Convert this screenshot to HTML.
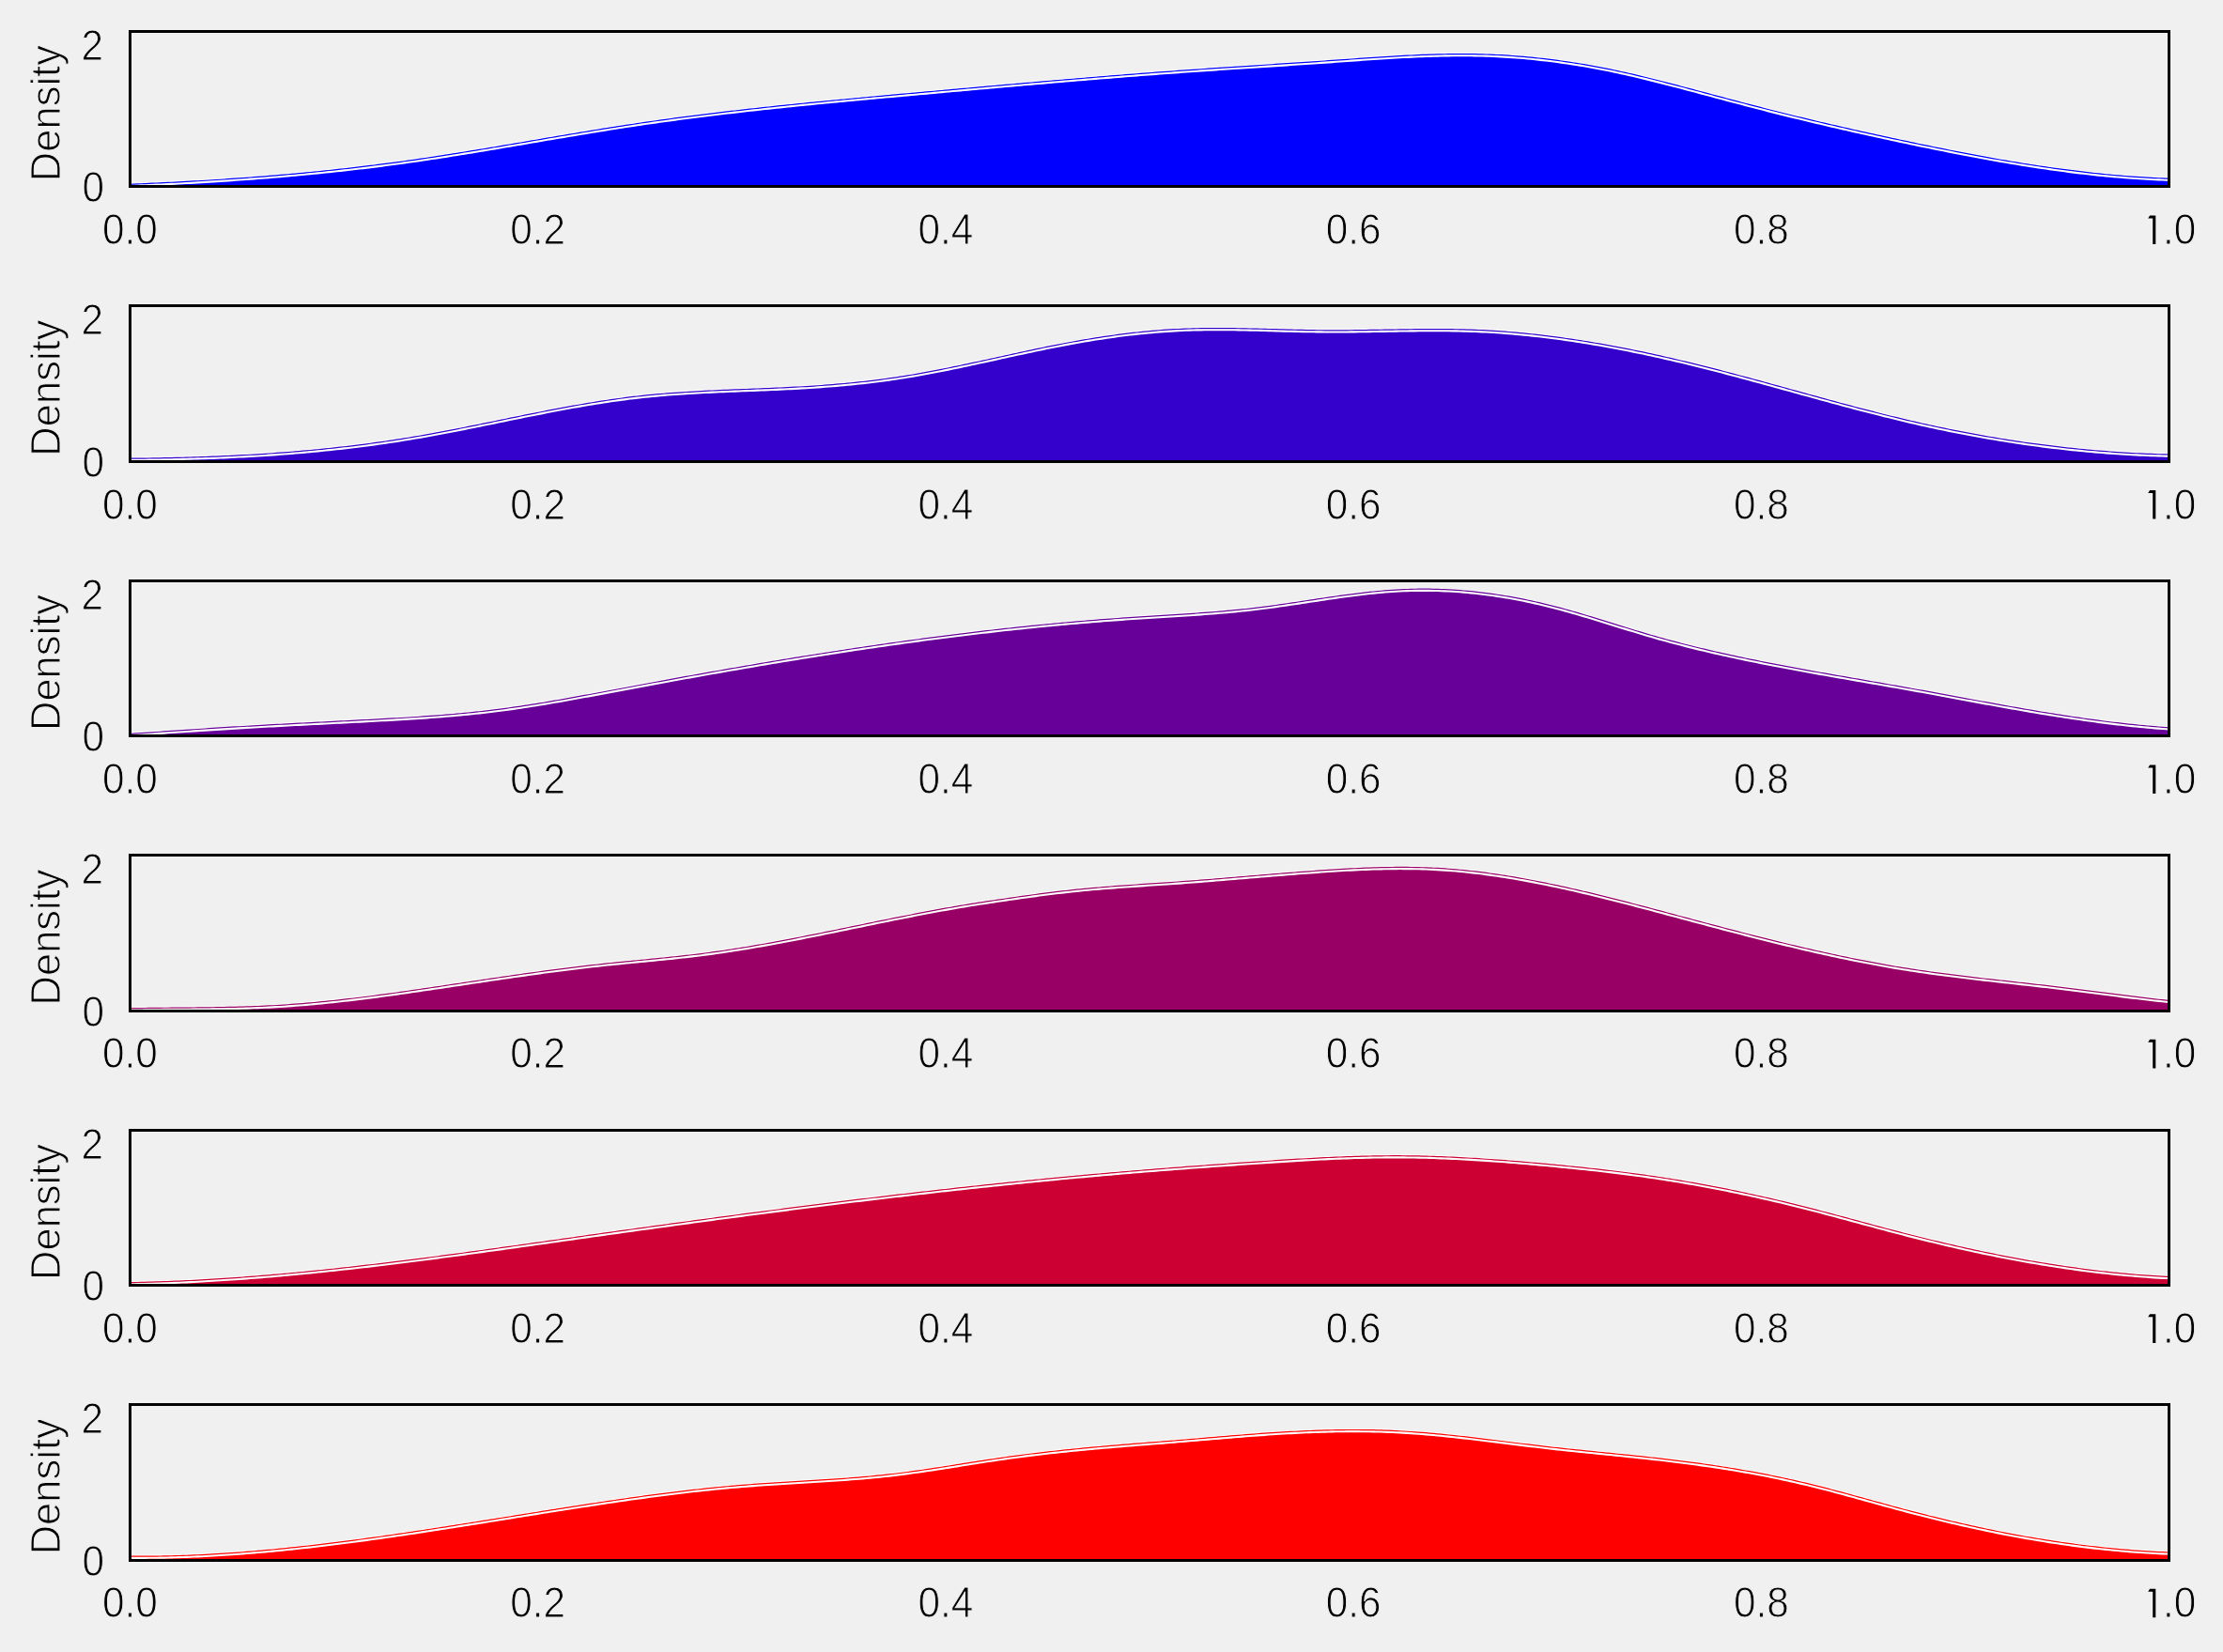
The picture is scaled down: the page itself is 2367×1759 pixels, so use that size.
<!DOCTYPE html>
<html><head><meta charset="utf-8"><title>Density plots</title>
<style>
html,body{margin:0;padding:0;background:#f0f0f0;}
body{width:2367px;height:1759px;overflow:hidden;}
svg{display:block;will-change:transform;}
text{font-family:"Liberation Sans",sans-serif;fill:#000;stroke:#f0f0f0;stroke-width:1px;}
.t{font-size:46.5px;}
.l{font-size:43.5px;}
</style></head><body>
<svg width="2367" height="1759" viewBox="0 0 2367 1759">
<rect x="0" y="0" width="2367" height="1759" fill="#f0f0f0"/>
<g>
<clipPath id="c0"><rect x="138.5" y="33.5" width="2171.0" height="165.0"/></clipPath>
<g clip-path="url(#c0)">
<polygon points="138.5,198.5 138.5,196.23 142.5,196.07 146.5,195.91 150.5,195.74 154.5,195.56 158.5,195.39 162.5,195.21 166.5,195.02 170.5,194.83 174.5,194.64 178.5,194.44 182.5,194.24 186.5,194.04 190.5,193.83 194.5,193.62 198.5,193.40 202.5,193.18 206.5,192.96 210.5,192.73 214.5,192.49 218.5,192.25 222.5,192.01 226.5,191.76 230.5,191.51 234.5,191.25 238.5,190.99 242.5,190.72 246.5,190.45 250.5,190.17 254.5,189.89 258.5,189.61 262.5,189.31 266.5,189.02 270.5,188.72 274.5,188.41 278.5,188.10 282.5,187.78 286.5,187.45 290.5,187.12 294.5,186.79 298.5,186.45 302.5,186.10 306.5,185.75 310.5,185.40 314.5,185.03 318.5,184.66 322.5,184.29 326.5,183.91 330.5,183.52 334.5,183.13 338.5,182.73 342.5,182.33 346.5,181.91 350.5,181.50 354.5,181.07 358.5,180.64 362.5,180.21 366.5,179.76 370.5,179.31 374.5,178.86 378.5,178.39 382.5,177.92 386.5,177.45 390.5,176.96 394.5,176.47 398.5,175.98 402.5,175.47 406.5,174.96 410.5,174.44 414.5,173.92 418.5,173.39 422.5,172.85 426.5,172.30 430.5,171.74 434.5,171.18 438.5,170.61 442.5,170.04 446.5,169.46 450.5,168.87 454.5,168.27 458.5,167.67 462.5,167.06 466.5,166.45 470.5,165.83 474.5,165.21 478.5,164.58 482.5,163.94 486.5,163.31 490.5,162.66 494.5,162.02 498.5,161.37 502.5,160.71 506.5,160.06 510.5,159.40 514.5,158.73 518.5,158.07 522.5,157.40 526.5,156.73 530.5,156.05 534.5,155.38 538.5,154.70 542.5,154.02 546.5,153.34 550.5,152.66 554.5,151.98 558.5,151.30 562.5,150.61 566.5,149.93 570.5,149.25 574.5,148.56 578.5,147.88 582.5,147.20 586.5,146.52 590.5,145.84 594.5,145.16 598.5,144.49 602.5,143.81 606.5,143.14 610.5,142.47 614.5,141.80 618.5,141.13 622.5,140.47 626.5,139.81 630.5,139.16 634.5,138.50 638.5,137.85 642.5,137.21 646.5,136.57 650.5,135.93 654.5,135.30 658.5,134.67 662.5,134.05 666.5,133.44 670.5,132.82 674.5,132.22 678.5,131.62 682.5,131.03 686.5,130.44 690.5,129.86 694.5,129.28 698.5,128.72 702.5,128.15 706.5,127.60 710.5,127.04 714.5,126.50 718.5,125.96 722.5,125.42 726.5,124.89 730.5,124.37 734.5,123.85 738.5,123.33 742.5,122.83 746.5,122.32 750.5,121.82 754.5,121.33 758.5,120.84 762.5,120.35 766.5,119.87 770.5,119.39 774.5,118.92 778.5,118.45 782.5,117.99 786.5,117.53 790.5,117.08 794.5,116.63 798.5,116.18 802.5,115.73 806.5,115.29 810.5,114.86 814.5,114.42 818.5,113.99 822.5,113.57 826.5,113.14 830.5,112.72 834.5,112.31 838.5,111.89 842.5,111.48 846.5,111.08 850.5,110.67 854.5,110.27 858.5,109.87 862.5,109.47 866.5,109.08 870.5,108.68 874.5,108.29 878.5,107.91 882.5,107.52 886.5,107.14 890.5,106.75 894.5,106.37 898.5,105.99 902.5,105.62 906.5,105.24 910.5,104.87 914.5,104.50 918.5,104.13 922.5,103.76 926.5,103.39 930.5,103.02 934.5,102.65 938.5,102.29 942.5,101.92 946.5,101.56 950.5,101.20 954.5,100.84 958.5,100.47 962.5,100.11 966.5,99.75 970.5,99.39 974.5,99.03 978.5,98.67 982.5,98.31 986.5,97.95 990.5,97.59 994.5,97.23 998.5,96.87 1002.5,96.51 1006.5,96.15 1010.5,95.79 1014.5,95.43 1018.5,95.07 1022.5,94.71 1026.5,94.35 1030.5,93.99 1034.5,93.63 1038.5,93.28 1042.5,92.92 1046.5,92.56 1050.5,92.21 1054.5,91.85 1058.5,91.49 1062.5,91.14 1066.5,90.79 1070.5,90.43 1074.5,90.08 1078.5,89.73 1082.5,89.38 1086.5,89.03 1090.5,88.68 1094.5,88.33 1098.5,87.98 1102.5,87.64 1106.5,87.29 1110.5,86.95 1114.5,86.60 1118.5,86.26 1122.5,85.92 1126.5,85.58 1130.5,85.24 1134.5,84.90 1138.5,84.56 1142.5,84.23 1146.5,83.89 1150.5,83.56 1154.5,83.23 1158.5,82.90 1162.5,82.57 1166.5,82.24 1170.5,81.91 1174.5,81.59 1178.5,81.27 1182.5,80.94 1186.5,80.62 1190.5,80.31 1194.5,79.99 1198.5,79.67 1202.5,79.36 1206.5,79.05 1210.5,78.74 1214.5,78.43 1218.5,78.13 1222.5,77.82 1226.5,77.52 1230.5,77.22 1234.5,76.92 1238.5,76.62 1242.5,76.33 1246.5,76.04 1250.5,75.75 1254.5,75.46 1258.5,75.17 1262.5,74.89 1266.5,74.61 1270.5,74.33 1274.5,74.05 1278.5,73.77 1282.5,73.50 1286.5,73.22 1290.5,72.95 1294.5,72.68 1298.5,72.41 1302.5,72.15 1306.5,71.88 1310.5,71.62 1314.5,71.35 1318.5,71.09 1322.5,70.82 1326.5,70.56 1330.5,70.30 1334.5,70.04 1338.5,69.78 1342.5,69.52 1346.5,69.25 1350.5,68.99 1354.5,68.73 1358.5,68.47 1362.5,68.21 1366.5,67.94 1370.5,67.68 1374.5,67.42 1378.5,67.15 1382.5,66.89 1386.5,66.62 1390.5,66.35 1394.5,66.08 1398.5,65.81 1402.5,65.54 1406.5,65.27 1410.5,64.99 1414.5,64.72 1418.5,64.44 1422.5,64.16 1426.5,63.87 1430.5,63.59 1434.5,63.31 1438.5,63.02 1442.5,62.74 1446.5,62.46 1450.5,62.18 1454.5,61.90 1458.5,61.63 1462.5,61.36 1466.5,61.09 1470.5,60.83 1474.5,60.58 1478.5,60.33 1482.5,60.09 1486.5,59.85 1490.5,59.63 1494.5,59.41 1498.5,59.20 1502.5,59.00 1506.5,58.81 1510.5,58.64 1514.5,58.47 1518.5,58.32 1522.5,58.18 1526.5,58.05 1530.5,57.93 1534.5,57.84 1538.5,57.75 1542.5,57.68 1546.5,57.63 1550.5,57.60 1554.5,57.58 1558.5,57.58 1562.5,57.60 1566.5,57.64 1570.5,57.70 1574.5,57.78 1578.5,57.88 1582.5,58.01 1586.5,58.15 1590.5,58.32 1594.5,58.51 1598.5,58.72 1602.5,58.95 1606.5,59.20 1610.5,59.48 1614.5,59.78 1618.5,60.09 1622.5,60.43 1626.5,60.80 1630.5,61.18 1634.5,61.58 1638.5,62.00 1642.5,62.45 1646.5,62.92 1650.5,63.40 1654.5,63.91 1658.5,64.44 1662.5,64.99 1666.5,65.55 1670.5,66.14 1674.5,66.75 1678.5,67.38 1682.5,68.03 1686.5,68.70 1690.5,69.39 1694.5,70.11 1698.5,70.84 1702.5,71.59 1706.5,72.35 1710.5,73.14 1714.5,73.95 1718.5,74.78 1722.5,75.63 1726.5,76.50 1730.5,77.38 1734.5,78.28 1738.5,79.20 1742.5,80.13 1746.5,81.08 1750.5,82.04 1754.5,83.02 1758.5,84.00 1762.5,85.00 1766.5,86.01 1770.5,87.03 1774.5,88.05 1778.5,89.09 1782.5,90.13 1786.5,91.17 1790.5,92.23 1794.5,93.28 1798.5,94.34 1802.5,95.40 1806.5,96.47 1810.5,97.53 1814.5,98.60 1818.5,99.67 1822.5,100.73 1826.5,101.80 1830.5,102.87 1834.5,103.93 1838.5,105.00 1842.5,106.06 1846.5,107.12 1850.5,108.18 1854.5,109.23 1858.5,110.29 1862.5,111.33 1866.5,112.38 1870.5,113.42 1874.5,114.45 1878.5,115.48 1882.5,116.50 1886.5,117.52 1890.5,118.53 1894.5,119.54 1898.5,120.53 1902.5,121.53 1906.5,122.52 1910.5,123.50 1914.5,124.47 1918.5,125.45 1922.5,126.41 1926.5,127.37 1930.5,128.33 1934.5,129.28 1938.5,130.22 1942.5,131.16 1946.5,132.10 1950.5,133.03 1954.5,133.95 1958.5,134.87 1962.5,135.79 1966.5,136.70 1970.5,137.61 1974.5,138.51 1978.5,139.41 1982.5,140.30 1986.5,141.19 1990.5,142.08 1994.5,142.96 1998.5,143.83 2002.5,144.71 2006.5,145.57 2010.5,146.44 2014.5,147.30 2018.5,148.16 2022.5,149.01 2026.5,149.86 2030.5,150.71 2034.5,151.55 2038.5,152.39 2042.5,153.22 2046.5,154.05 2050.5,154.88 2054.5,155.70 2058.5,156.52 2062.5,157.33 2066.5,158.14 2070.5,158.94 2074.5,159.74 2078.5,160.53 2082.5,161.32 2086.5,162.10 2090.5,162.87 2094.5,163.64 2098.5,164.40 2102.5,165.15 2106.5,165.90 2110.5,166.64 2114.5,167.37 2118.5,168.09 2122.5,168.81 2126.5,169.52 2130.5,170.22 2134.5,170.91 2138.5,171.59 2142.5,172.27 2146.5,172.94 2150.5,173.59 2154.5,174.24 2158.5,174.88 2162.5,175.51 2166.5,176.12 2170.5,176.73 2174.5,177.33 2178.5,177.92 2182.5,178.50 2186.5,179.06 2190.5,179.62 2194.5,180.16 2198.5,180.69 2202.5,181.21 2206.5,181.72 2210.5,182.22 2214.5,182.70 2218.5,183.18 2222.5,183.64 2226.5,184.08 2230.5,184.52 2234.5,184.94 2238.5,185.35 2242.5,185.74 2246.5,186.12 2250.5,186.49 2254.5,186.84 2258.5,187.18 2262.5,187.50 2266.5,187.81 2270.5,188.10 2274.5,188.38 2278.5,188.65 2282.5,188.89 2286.5,189.13 2290.5,189.34 2294.5,189.54 2298.5,189.73 2302.5,189.89 2306.5,190.05 2309.5,190.15 2309.5,198.5" fill="#0000ff"/>
<polyline points="138.5,196.23 142.5,196.07 146.5,195.91 150.5,195.74 154.5,195.56 158.5,195.39 162.5,195.21 166.5,195.02 170.5,194.83 174.5,194.64 178.5,194.44 182.5,194.24 186.5,194.04 190.5,193.83 194.5,193.62 198.5,193.40 202.5,193.18 206.5,192.96 210.5,192.73 214.5,192.49 218.5,192.25 222.5,192.01 226.5,191.76 230.5,191.51 234.5,191.25 238.5,190.99 242.5,190.72 246.5,190.45 250.5,190.17 254.5,189.89 258.5,189.61 262.5,189.31 266.5,189.02 270.5,188.72 274.5,188.41 278.5,188.10 282.5,187.78 286.5,187.45 290.5,187.12 294.5,186.79 298.5,186.45 302.5,186.10 306.5,185.75 310.5,185.40 314.5,185.03 318.5,184.66 322.5,184.29 326.5,183.91 330.5,183.52 334.5,183.13 338.5,182.73 342.5,182.33 346.5,181.91 350.5,181.50 354.5,181.07 358.5,180.64 362.5,180.21 366.5,179.76 370.5,179.31 374.5,178.86 378.5,178.39 382.5,177.92 386.5,177.45 390.5,176.96 394.5,176.47 398.5,175.98 402.5,175.47 406.5,174.96 410.5,174.44 414.5,173.92 418.5,173.39 422.5,172.85 426.5,172.30 430.5,171.74 434.5,171.18 438.5,170.61 442.5,170.04 446.5,169.46 450.5,168.87 454.5,168.27 458.5,167.67 462.5,167.06 466.5,166.45 470.5,165.83 474.5,165.21 478.5,164.58 482.5,163.94 486.5,163.31 490.5,162.66 494.5,162.02 498.5,161.37 502.5,160.71 506.5,160.06 510.5,159.40 514.5,158.73 518.5,158.07 522.5,157.40 526.5,156.73 530.5,156.05 534.5,155.38 538.5,154.70 542.5,154.02 546.5,153.34 550.5,152.66 554.5,151.98 558.5,151.30 562.5,150.61 566.5,149.93 570.5,149.25 574.5,148.56 578.5,147.88 582.5,147.20 586.5,146.52 590.5,145.84 594.5,145.16 598.5,144.49 602.5,143.81 606.5,143.14 610.5,142.47 614.5,141.80 618.5,141.13 622.5,140.47 626.5,139.81 630.5,139.16 634.5,138.50 638.5,137.85 642.5,137.21 646.5,136.57 650.5,135.93 654.5,135.30 658.5,134.67 662.5,134.05 666.5,133.44 670.5,132.82 674.5,132.22 678.5,131.62 682.5,131.03 686.5,130.44 690.5,129.86 694.5,129.28 698.5,128.72 702.5,128.15 706.5,127.60 710.5,127.04 714.5,126.50 718.5,125.96 722.5,125.42 726.5,124.89 730.5,124.37 734.5,123.85 738.5,123.33 742.5,122.83 746.5,122.32 750.5,121.82 754.5,121.33 758.5,120.84 762.5,120.35 766.5,119.87 770.5,119.39 774.5,118.92 778.5,118.45 782.5,117.99 786.5,117.53 790.5,117.08 794.5,116.63 798.5,116.18 802.5,115.73 806.5,115.29 810.5,114.86 814.5,114.42 818.5,113.99 822.5,113.57 826.5,113.14 830.5,112.72 834.5,112.31 838.5,111.89 842.5,111.48 846.5,111.08 850.5,110.67 854.5,110.27 858.5,109.87 862.5,109.47 866.5,109.08 870.5,108.68 874.5,108.29 878.5,107.91 882.5,107.52 886.5,107.14 890.5,106.75 894.5,106.37 898.5,105.99 902.5,105.62 906.5,105.24 910.5,104.87 914.5,104.50 918.5,104.13 922.5,103.76 926.5,103.39 930.5,103.02 934.5,102.65 938.5,102.29 942.5,101.92 946.5,101.56 950.5,101.20 954.5,100.84 958.5,100.47 962.5,100.11 966.5,99.75 970.5,99.39 974.5,99.03 978.5,98.67 982.5,98.31 986.5,97.95 990.5,97.59 994.5,97.23 998.5,96.87 1002.5,96.51 1006.5,96.15 1010.5,95.79 1014.5,95.43 1018.5,95.07 1022.5,94.71 1026.5,94.35 1030.5,93.99 1034.5,93.63 1038.5,93.28 1042.5,92.92 1046.5,92.56 1050.5,92.21 1054.5,91.85 1058.5,91.49 1062.5,91.14 1066.5,90.79 1070.5,90.43 1074.5,90.08 1078.5,89.73 1082.5,89.38 1086.5,89.03 1090.5,88.68 1094.5,88.33 1098.5,87.98 1102.5,87.64 1106.5,87.29 1110.5,86.95 1114.5,86.60 1118.5,86.26 1122.5,85.92 1126.5,85.58 1130.5,85.24 1134.5,84.90 1138.5,84.56 1142.5,84.23 1146.5,83.89 1150.5,83.56 1154.5,83.23 1158.5,82.90 1162.5,82.57 1166.5,82.24 1170.5,81.91 1174.5,81.59 1178.5,81.27 1182.5,80.94 1186.5,80.62 1190.5,80.31 1194.5,79.99 1198.5,79.67 1202.5,79.36 1206.5,79.05 1210.5,78.74 1214.5,78.43 1218.5,78.13 1222.5,77.82 1226.5,77.52 1230.5,77.22 1234.5,76.92 1238.5,76.62 1242.5,76.33 1246.5,76.04 1250.5,75.75 1254.5,75.46 1258.5,75.17 1262.5,74.89 1266.5,74.61 1270.5,74.33 1274.5,74.05 1278.5,73.77 1282.5,73.50 1286.5,73.22 1290.5,72.95 1294.5,72.68 1298.5,72.41 1302.5,72.15 1306.5,71.88 1310.5,71.62 1314.5,71.35 1318.5,71.09 1322.5,70.82 1326.5,70.56 1330.5,70.30 1334.5,70.04 1338.5,69.78 1342.5,69.52 1346.5,69.25 1350.5,68.99 1354.5,68.73 1358.5,68.47 1362.5,68.21 1366.5,67.94 1370.5,67.68 1374.5,67.42 1378.5,67.15 1382.5,66.89 1386.5,66.62 1390.5,66.35 1394.5,66.08 1398.5,65.81 1402.5,65.54 1406.5,65.27 1410.5,64.99 1414.5,64.72 1418.5,64.44 1422.5,64.16 1426.5,63.87 1430.5,63.59 1434.5,63.31 1438.5,63.02 1442.5,62.74 1446.5,62.46 1450.5,62.18 1454.5,61.90 1458.5,61.63 1462.5,61.36 1466.5,61.09 1470.5,60.83 1474.5,60.58 1478.5,60.33 1482.5,60.09 1486.5,59.85 1490.5,59.63 1494.5,59.41 1498.5,59.20 1502.5,59.00 1506.5,58.81 1510.5,58.64 1514.5,58.47 1518.5,58.32 1522.5,58.18 1526.5,58.05 1530.5,57.93 1534.5,57.84 1538.5,57.75 1542.5,57.68 1546.5,57.63 1550.5,57.60 1554.5,57.58 1558.5,57.58 1562.5,57.60 1566.5,57.64 1570.5,57.70 1574.5,57.78 1578.5,57.88 1582.5,58.01 1586.5,58.15 1590.5,58.32 1594.5,58.51 1598.5,58.72 1602.5,58.95 1606.5,59.20 1610.5,59.48 1614.5,59.78 1618.5,60.09 1622.5,60.43 1626.5,60.80 1630.5,61.18 1634.5,61.58 1638.5,62.00 1642.5,62.45 1646.5,62.92 1650.5,63.40 1654.5,63.91 1658.5,64.44 1662.5,64.99 1666.5,65.55 1670.5,66.14 1674.5,66.75 1678.5,67.38 1682.5,68.03 1686.5,68.70 1690.5,69.39 1694.5,70.11 1698.5,70.84 1702.5,71.59 1706.5,72.35 1710.5,73.14 1714.5,73.95 1718.5,74.78 1722.5,75.63 1726.5,76.50 1730.5,77.38 1734.5,78.28 1738.5,79.20 1742.5,80.13 1746.5,81.08 1750.5,82.04 1754.5,83.02 1758.5,84.00 1762.5,85.00 1766.5,86.01 1770.5,87.03 1774.5,88.05 1778.5,89.09 1782.5,90.13 1786.5,91.17 1790.5,92.23 1794.5,93.28 1798.5,94.34 1802.5,95.40 1806.5,96.47 1810.5,97.53 1814.5,98.60 1818.5,99.67 1822.5,100.73 1826.5,101.80 1830.5,102.87 1834.5,103.93 1838.5,105.00 1842.5,106.06 1846.5,107.12 1850.5,108.18 1854.5,109.23 1858.5,110.29 1862.5,111.33 1866.5,112.38 1870.5,113.42 1874.5,114.45 1878.5,115.48 1882.5,116.50 1886.5,117.52 1890.5,118.53 1894.5,119.54 1898.5,120.53 1902.5,121.53 1906.5,122.52 1910.5,123.50 1914.5,124.47 1918.5,125.45 1922.5,126.41 1926.5,127.37 1930.5,128.33 1934.5,129.28 1938.5,130.22 1942.5,131.16 1946.5,132.10 1950.5,133.03 1954.5,133.95 1958.5,134.87 1962.5,135.79 1966.5,136.70 1970.5,137.61 1974.5,138.51 1978.5,139.41 1982.5,140.30 1986.5,141.19 1990.5,142.08 1994.5,142.96 1998.5,143.83 2002.5,144.71 2006.5,145.57 2010.5,146.44 2014.5,147.30 2018.5,148.16 2022.5,149.01 2026.5,149.86 2030.5,150.71 2034.5,151.55 2038.5,152.39 2042.5,153.22 2046.5,154.05 2050.5,154.88 2054.5,155.70 2058.5,156.52 2062.5,157.33 2066.5,158.14 2070.5,158.94 2074.5,159.74 2078.5,160.53 2082.5,161.32 2086.5,162.10 2090.5,162.87 2094.5,163.64 2098.5,164.40 2102.5,165.15 2106.5,165.90 2110.5,166.64 2114.5,167.37 2118.5,168.09 2122.5,168.81 2126.5,169.52 2130.5,170.22 2134.5,170.91 2138.5,171.59 2142.5,172.27 2146.5,172.94 2150.5,173.59 2154.5,174.24 2158.5,174.88 2162.5,175.51 2166.5,176.12 2170.5,176.73 2174.5,177.33 2178.5,177.92 2182.5,178.50 2186.5,179.06 2190.5,179.62 2194.5,180.16 2198.5,180.69 2202.5,181.21 2206.5,181.72 2210.5,182.22 2214.5,182.70 2218.5,183.18 2222.5,183.64 2226.5,184.08 2230.5,184.52 2234.5,184.94 2238.5,185.35 2242.5,185.74 2246.5,186.12 2250.5,186.49 2254.5,186.84 2258.5,187.18 2262.5,187.50 2266.5,187.81 2270.5,188.10 2274.5,188.38 2278.5,188.65 2282.5,188.89 2286.5,189.13 2290.5,189.34 2294.5,189.54 2298.5,189.73 2302.5,189.89 2306.5,190.05 2309.5,190.15" fill="none" stroke="#ffffff" stroke-width="4.2" transform="translate(0,0.6)"/>
<polyline points="138.5,196.23 142.5,196.07 146.5,195.91 150.5,195.74 154.5,195.56 158.5,195.39 162.5,195.21 166.5,195.02 170.5,194.83 174.5,194.64 178.5,194.44 182.5,194.24 186.5,194.04 190.5,193.83 194.5,193.62 198.5,193.40 202.5,193.18 206.5,192.96 210.5,192.73 214.5,192.49 218.5,192.25 222.5,192.01 226.5,191.76 230.5,191.51 234.5,191.25 238.5,190.99 242.5,190.72 246.5,190.45 250.5,190.17 254.5,189.89 258.5,189.61 262.5,189.31 266.5,189.02 270.5,188.72 274.5,188.41 278.5,188.10 282.5,187.78 286.5,187.45 290.5,187.12 294.5,186.79 298.5,186.45 302.5,186.10 306.5,185.75 310.5,185.40 314.5,185.03 318.5,184.66 322.5,184.29 326.5,183.91 330.5,183.52 334.5,183.13 338.5,182.73 342.5,182.33 346.5,181.91 350.5,181.50 354.5,181.07 358.5,180.64 362.5,180.21 366.5,179.76 370.5,179.31 374.5,178.86 378.5,178.39 382.5,177.92 386.5,177.45 390.5,176.96 394.5,176.47 398.5,175.98 402.5,175.47 406.5,174.96 410.5,174.44 414.5,173.92 418.5,173.39 422.5,172.85 426.5,172.30 430.5,171.74 434.5,171.18 438.5,170.61 442.5,170.04 446.5,169.46 450.5,168.87 454.5,168.27 458.5,167.67 462.5,167.06 466.5,166.45 470.5,165.83 474.5,165.21 478.5,164.58 482.5,163.94 486.5,163.31 490.5,162.66 494.5,162.02 498.5,161.37 502.5,160.71 506.5,160.06 510.5,159.40 514.5,158.73 518.5,158.07 522.5,157.40 526.5,156.73 530.5,156.05 534.5,155.38 538.5,154.70 542.5,154.02 546.5,153.34 550.5,152.66 554.5,151.98 558.5,151.30 562.5,150.61 566.5,149.93 570.5,149.25 574.5,148.56 578.5,147.88 582.5,147.20 586.5,146.52 590.5,145.84 594.5,145.16 598.5,144.49 602.5,143.81 606.5,143.14 610.5,142.47 614.5,141.80 618.5,141.13 622.5,140.47 626.5,139.81 630.5,139.16 634.5,138.50 638.5,137.85 642.5,137.21 646.5,136.57 650.5,135.93 654.5,135.30 658.5,134.67 662.5,134.05 666.5,133.44 670.5,132.82 674.5,132.22 678.5,131.62 682.5,131.03 686.5,130.44 690.5,129.86 694.5,129.28 698.5,128.72 702.5,128.15 706.5,127.60 710.5,127.04 714.5,126.50 718.5,125.96 722.5,125.42 726.5,124.89 730.5,124.37 734.5,123.85 738.5,123.33 742.5,122.83 746.5,122.32 750.5,121.82 754.5,121.33 758.5,120.84 762.5,120.35 766.5,119.87 770.5,119.39 774.5,118.92 778.5,118.45 782.5,117.99 786.5,117.53 790.5,117.08 794.5,116.63 798.5,116.18 802.5,115.73 806.5,115.29 810.5,114.86 814.5,114.42 818.5,113.99 822.5,113.57 826.5,113.14 830.5,112.72 834.5,112.31 838.5,111.89 842.5,111.48 846.5,111.08 850.5,110.67 854.5,110.27 858.5,109.87 862.5,109.47 866.5,109.08 870.5,108.68 874.5,108.29 878.5,107.91 882.5,107.52 886.5,107.14 890.5,106.75 894.5,106.37 898.5,105.99 902.5,105.62 906.5,105.24 910.5,104.87 914.5,104.50 918.5,104.13 922.5,103.76 926.5,103.39 930.5,103.02 934.5,102.65 938.5,102.29 942.5,101.92 946.5,101.56 950.5,101.20 954.5,100.84 958.5,100.47 962.5,100.11 966.5,99.75 970.5,99.39 974.5,99.03 978.5,98.67 982.5,98.31 986.5,97.95 990.5,97.59 994.5,97.23 998.5,96.87 1002.5,96.51 1006.5,96.15 1010.5,95.79 1014.5,95.43 1018.5,95.07 1022.5,94.71 1026.5,94.35 1030.5,93.99 1034.5,93.63 1038.5,93.28 1042.5,92.92 1046.5,92.56 1050.5,92.21 1054.5,91.85 1058.5,91.49 1062.5,91.14 1066.5,90.79 1070.5,90.43 1074.5,90.08 1078.5,89.73 1082.5,89.38 1086.5,89.03 1090.5,88.68 1094.5,88.33 1098.5,87.98 1102.5,87.64 1106.5,87.29 1110.5,86.95 1114.5,86.60 1118.5,86.26 1122.5,85.92 1126.5,85.58 1130.5,85.24 1134.5,84.90 1138.5,84.56 1142.5,84.23 1146.5,83.89 1150.5,83.56 1154.5,83.23 1158.5,82.90 1162.5,82.57 1166.5,82.24 1170.5,81.91 1174.5,81.59 1178.5,81.27 1182.5,80.94 1186.5,80.62 1190.5,80.31 1194.5,79.99 1198.5,79.67 1202.5,79.36 1206.5,79.05 1210.5,78.74 1214.5,78.43 1218.5,78.13 1222.5,77.82 1226.5,77.52 1230.5,77.22 1234.5,76.92 1238.5,76.62 1242.5,76.33 1246.5,76.04 1250.5,75.75 1254.5,75.46 1258.5,75.17 1262.5,74.89 1266.5,74.61 1270.5,74.33 1274.5,74.05 1278.5,73.77 1282.5,73.50 1286.5,73.22 1290.5,72.95 1294.5,72.68 1298.5,72.41 1302.5,72.15 1306.5,71.88 1310.5,71.62 1314.5,71.35 1318.5,71.09 1322.5,70.82 1326.5,70.56 1330.5,70.30 1334.5,70.04 1338.5,69.78 1342.5,69.52 1346.5,69.25 1350.5,68.99 1354.5,68.73 1358.5,68.47 1362.5,68.21 1366.5,67.94 1370.5,67.68 1374.5,67.42 1378.5,67.15 1382.5,66.89 1386.5,66.62 1390.5,66.35 1394.5,66.08 1398.5,65.81 1402.5,65.54 1406.5,65.27 1410.5,64.99 1414.5,64.72 1418.5,64.44 1422.5,64.16 1426.5,63.87 1430.5,63.59 1434.5,63.31 1438.5,63.02 1442.5,62.74 1446.5,62.46 1450.5,62.18 1454.5,61.90 1458.5,61.63 1462.5,61.36 1466.5,61.09 1470.5,60.83 1474.5,60.58 1478.5,60.33 1482.5,60.09 1486.5,59.85 1490.5,59.63 1494.5,59.41 1498.5,59.20 1502.5,59.00 1506.5,58.81 1510.5,58.64 1514.5,58.47 1518.5,58.32 1522.5,58.18 1526.5,58.05 1530.5,57.93 1534.5,57.84 1538.5,57.75 1542.5,57.68 1546.5,57.63 1550.5,57.60 1554.5,57.58 1558.5,57.58 1562.5,57.60 1566.5,57.64 1570.5,57.70 1574.5,57.78 1578.5,57.88 1582.5,58.01 1586.5,58.15 1590.5,58.32 1594.5,58.51 1598.5,58.72 1602.5,58.95 1606.5,59.20 1610.5,59.48 1614.5,59.78 1618.5,60.09 1622.5,60.43 1626.5,60.80 1630.5,61.18 1634.5,61.58 1638.5,62.00 1642.5,62.45 1646.5,62.92 1650.5,63.40 1654.5,63.91 1658.5,64.44 1662.5,64.99 1666.5,65.55 1670.5,66.14 1674.5,66.75 1678.5,67.38 1682.5,68.03 1686.5,68.70 1690.5,69.39 1694.5,70.11 1698.5,70.84 1702.5,71.59 1706.5,72.35 1710.5,73.14 1714.5,73.95 1718.5,74.78 1722.5,75.63 1726.5,76.50 1730.5,77.38 1734.5,78.28 1738.5,79.20 1742.5,80.13 1746.5,81.08 1750.5,82.04 1754.5,83.02 1758.5,84.00 1762.5,85.00 1766.5,86.01 1770.5,87.03 1774.5,88.05 1778.5,89.09 1782.5,90.13 1786.5,91.17 1790.5,92.23 1794.5,93.28 1798.5,94.34 1802.5,95.40 1806.5,96.47 1810.5,97.53 1814.5,98.60 1818.5,99.67 1822.5,100.73 1826.5,101.80 1830.5,102.87 1834.5,103.93 1838.5,105.00 1842.5,106.06 1846.5,107.12 1850.5,108.18 1854.5,109.23 1858.5,110.29 1862.5,111.33 1866.5,112.38 1870.5,113.42 1874.5,114.45 1878.5,115.48 1882.5,116.50 1886.5,117.52 1890.5,118.53 1894.5,119.54 1898.5,120.53 1902.5,121.53 1906.5,122.52 1910.5,123.50 1914.5,124.47 1918.5,125.45 1922.5,126.41 1926.5,127.37 1930.5,128.33 1934.5,129.28 1938.5,130.22 1942.5,131.16 1946.5,132.10 1950.5,133.03 1954.5,133.95 1958.5,134.87 1962.5,135.79 1966.5,136.70 1970.5,137.61 1974.5,138.51 1978.5,139.41 1982.5,140.30 1986.5,141.19 1990.5,142.08 1994.5,142.96 1998.5,143.83 2002.5,144.71 2006.5,145.57 2010.5,146.44 2014.5,147.30 2018.5,148.16 2022.5,149.01 2026.5,149.86 2030.5,150.71 2034.5,151.55 2038.5,152.39 2042.5,153.22 2046.5,154.05 2050.5,154.88 2054.5,155.70 2058.5,156.52 2062.5,157.33 2066.5,158.14 2070.5,158.94 2074.5,159.74 2078.5,160.53 2082.5,161.32 2086.5,162.10 2090.5,162.87 2094.5,163.64 2098.5,164.40 2102.5,165.15 2106.5,165.90 2110.5,166.64 2114.5,167.37 2118.5,168.09 2122.5,168.81 2126.5,169.52 2130.5,170.22 2134.5,170.91 2138.5,171.59 2142.5,172.27 2146.5,172.94 2150.5,173.59 2154.5,174.24 2158.5,174.88 2162.5,175.51 2166.5,176.12 2170.5,176.73 2174.5,177.33 2178.5,177.92 2182.5,178.50 2186.5,179.06 2190.5,179.62 2194.5,180.16 2198.5,180.69 2202.5,181.21 2206.5,181.72 2210.5,182.22 2214.5,182.70 2218.5,183.18 2222.5,183.64 2226.5,184.08 2230.5,184.52 2234.5,184.94 2238.5,185.35 2242.5,185.74 2246.5,186.12 2250.5,186.49 2254.5,186.84 2258.5,187.18 2262.5,187.50 2266.5,187.81 2270.5,188.10 2274.5,188.38 2278.5,188.65 2282.5,188.89 2286.5,189.13 2290.5,189.34 2294.5,189.54 2298.5,189.73 2302.5,189.89 2306.5,190.05 2309.5,190.15" fill="none" stroke="#0000ff" stroke-width="1.2"/>
</g>
<rect x="138.5" y="33.5" width="2171.0" height="165.0" fill="none" stroke="#000" stroke-width="3"/>
<text transform="translate(111.0,215.3) scale(0.91,1)" text-anchor="end" class="t">0</text>
<text transform="translate(110.0,64.1) scale(0.91,1)" text-anchor="end" class="t">2</text>
<text transform="translate(64.1,120.6) rotate(-90)" text-anchor="middle" class="l">Density</text>
<text transform="translate(138.5,260.1) scale(0.91,1)" text-anchor="middle" class="t">0.0</text>
<text transform="translate(572.7,260.1) scale(0.91,1)" text-anchor="middle" class="t">0.2</text>
<text transform="translate(1006.9,260.1) scale(0.91,1)" text-anchor="middle" class="t">0.4</text>
<text transform="translate(1441.1,260.1) scale(0.91,1)" text-anchor="middle" class="t">0.6</text>
<text transform="translate(1875.3,260.1) scale(0.91,1)" text-anchor="middle" class="t">0.8</text>
<polygon points="2289.10,229.50 2295.30,229.50 2295.30,260.10 2292.20,260.10 2292.20,232.50 2287.20,232.50" fill="#000"/>
<text transform="translate(2303.1,260.1) scale(0.91,1)" text-anchor="start" class="t">.0</text>
</g>
<g>
<clipPath id="c1"><rect x="138.5" y="325.5" width="2171.0" height="166.0"/></clipPath>
<g clip-path="url(#c1)">
<polygon points="138.5,491.5 138.5,488.21 142.5,488.18 146.5,488.14 150.5,488.09 154.5,488.04 158.5,487.98 162.5,487.92 166.5,487.86 170.5,487.79 174.5,487.71 178.5,487.63 182.5,487.54 186.5,487.45 190.5,487.35 194.5,487.25 198.5,487.14 202.5,487.02 206.5,486.90 210.5,486.77 214.5,486.64 218.5,486.50 222.5,486.35 226.5,486.20 230.5,486.04 234.5,485.87 238.5,485.69 242.5,485.51 246.5,485.32 250.5,485.13 254.5,484.92 258.5,484.71 262.5,484.49 266.5,484.26 270.5,484.03 274.5,483.79 278.5,483.54 282.5,483.28 286.5,483.01 290.5,482.73 294.5,482.45 298.5,482.16 302.5,481.86 306.5,481.54 310.5,481.23 314.5,480.90 318.5,480.56 322.5,480.21 326.5,479.86 330.5,479.49 334.5,479.11 338.5,478.73 342.5,478.33 346.5,477.93 350.5,477.51 354.5,477.09 358.5,476.65 362.5,476.21 366.5,475.75 370.5,475.28 374.5,474.81 378.5,474.32 382.5,473.82 386.5,473.31 390.5,472.79 394.5,472.25 398.5,471.71 402.5,471.15 406.5,470.59 410.5,470.01 414.5,469.42 418.5,468.81 422.5,468.20 426.5,467.57 430.5,466.93 434.5,466.28 438.5,465.62 442.5,464.94 446.5,464.25 450.5,463.55 454.5,462.84 458.5,462.12 462.5,461.39 466.5,460.64 470.5,459.89 474.5,459.13 478.5,458.37 482.5,457.59 486.5,456.81 490.5,456.02 494.5,455.23 498.5,454.43 502.5,453.63 506.5,452.82 510.5,452.01 514.5,451.20 518.5,450.38 522.5,449.56 526.5,448.74 530.5,447.92 534.5,447.10 538.5,446.28 542.5,445.46 546.5,444.64 550.5,443.83 554.5,443.02 558.5,442.20 562.5,441.40 566.5,440.59 570.5,439.80 574.5,439.00 578.5,438.22 582.5,437.43 586.5,436.66 590.5,435.89 594.5,435.13 598.5,434.38 602.5,433.64 606.5,432.91 610.5,432.19 614.5,431.48 618.5,430.78 622.5,430.09 626.5,429.41 630.5,428.75 634.5,428.10 638.5,427.46 642.5,426.84 646.5,426.24 650.5,425.65 654.5,425.07 658.5,424.51 662.5,423.97 666.5,423.45 670.5,422.94 674.5,422.46 678.5,421.99 682.5,421.54 686.5,421.12 690.5,420.71 694.5,420.32 698.5,419.95 702.5,419.59 706.5,419.25 710.5,418.93 714.5,418.62 718.5,418.33 722.5,418.05 726.5,417.78 730.5,417.52 734.5,417.28 738.5,417.04 742.5,416.82 746.5,416.60 750.5,416.40 754.5,416.20 758.5,416.01 762.5,415.82 766.5,415.64 770.5,415.47 774.5,415.30 778.5,415.14 782.5,414.97 786.5,414.81 790.5,414.65 794.5,414.50 798.5,414.34 802.5,414.18 806.5,414.02 810.5,413.86 814.5,413.70 818.5,413.53 822.5,413.36 826.5,413.19 830.5,413.01 834.5,412.82 838.5,412.63 842.5,412.43 846.5,412.22 850.5,412.00 854.5,411.77 858.5,411.54 862.5,411.29 866.5,411.03 870.5,410.76 874.5,410.48 878.5,410.18 882.5,409.88 886.5,409.56 890.5,409.22 894.5,408.87 898.5,408.51 902.5,408.14 906.5,407.75 910.5,407.34 914.5,406.92 918.5,406.48 922.5,406.03 926.5,405.56 930.5,405.08 934.5,404.58 938.5,404.06 942.5,403.52 946.5,402.96 950.5,402.39 954.5,401.80 958.5,401.19 962.5,400.56 966.5,399.91 970.5,399.24 974.5,398.55 978.5,397.85 982.5,397.13 986.5,396.40 990.5,395.65 994.5,394.89 998.5,394.12 1002.5,393.33 1006.5,392.53 1010.5,391.73 1014.5,390.91 1018.5,390.08 1022.5,389.25 1026.5,388.40 1030.5,387.55 1034.5,386.70 1038.5,385.84 1042.5,384.97 1046.5,384.10 1050.5,383.23 1054.5,382.35 1058.5,381.48 1062.5,380.60 1066.5,379.72 1070.5,378.84 1074.5,377.97 1078.5,377.09 1082.5,376.22 1086.5,375.36 1090.5,374.49 1094.5,373.64 1098.5,372.79 1102.5,371.94 1106.5,371.11 1110.5,370.28 1114.5,369.46 1118.5,368.65 1122.5,367.85 1126.5,367.06 1130.5,366.28 1134.5,365.52 1138.5,364.77 1142.5,364.03 1146.5,363.31 1150.5,362.61 1154.5,361.92 1158.5,361.24 1162.5,360.58 1166.5,359.94 1170.5,359.31 1174.5,358.70 1178.5,358.11 1182.5,357.54 1186.5,356.98 1190.5,356.44 1194.5,355.92 1198.5,355.42 1202.5,354.93 1206.5,354.47 1210.5,354.02 1214.5,353.60 1218.5,353.19 1222.5,352.80 1226.5,352.44 1230.5,352.10 1234.5,351.77 1238.5,351.47 1242.5,351.19 1246.5,350.93 1250.5,350.70 1254.5,350.48 1258.5,350.29 1262.5,350.13 1266.5,349.98 1270.5,349.86 1274.5,349.76 1278.5,349.68 1282.5,349.61 1286.5,349.57 1290.5,349.54 1294.5,349.53 1298.5,349.53 1302.5,349.55 1306.5,349.58 1310.5,349.62 1314.5,349.67 1318.5,349.73 1322.5,349.81 1326.5,349.89 1330.5,349.98 1334.5,350.07 1338.5,350.17 1342.5,350.27 1346.5,350.38 1350.5,350.49 1354.5,350.61 1358.5,350.72 1362.5,350.83 1366.5,350.94 1370.5,351.05 1374.5,351.16 1378.5,351.26 1382.5,351.36 1386.5,351.45 1390.5,351.53 1394.5,351.60 1398.5,351.67 1402.5,351.73 1406.5,351.77 1410.5,351.81 1414.5,351.83 1418.5,351.84 1422.5,351.84 1426.5,351.83 1430.5,351.81 1434.5,351.78 1438.5,351.74 1442.5,351.70 1446.5,351.65 1450.5,351.59 1454.5,351.53 1458.5,351.47 1462.5,351.40 1466.5,351.33 1470.5,351.26 1474.5,351.19 1478.5,351.11 1482.5,351.04 1486.5,350.98 1490.5,350.91 1494.5,350.85 1498.5,350.79 1502.5,350.73 1506.5,350.68 1510.5,350.64 1514.5,350.61 1518.5,350.58 1522.5,350.56 1526.5,350.55 1530.5,350.56 1534.5,350.57 1538.5,350.60 1542.5,350.63 1546.5,350.69 1550.5,350.75 1554.5,350.83 1558.5,350.93 1562.5,351.04 1566.5,351.18 1570.5,351.33 1574.5,351.49 1578.5,351.68 1582.5,351.89 1586.5,352.11 1590.5,352.36 1594.5,352.62 1598.5,352.90 1602.5,353.19 1606.5,353.51 1610.5,353.84 1614.5,354.19 1618.5,354.56 1622.5,354.94 1626.5,355.34 1630.5,355.76 1634.5,356.19 1638.5,356.64 1642.5,357.11 1646.5,357.59 1650.5,358.09 1654.5,358.60 1658.5,359.13 1662.5,359.68 1666.5,360.24 1670.5,360.81 1674.5,361.40 1678.5,362.01 1682.5,362.63 1686.5,363.26 1690.5,363.91 1694.5,364.57 1698.5,365.25 1702.5,365.93 1706.5,366.64 1710.5,367.35 1714.5,368.08 1718.5,368.82 1722.5,369.58 1726.5,370.35 1730.5,371.13 1734.5,371.92 1738.5,372.72 1742.5,373.54 1746.5,374.37 1750.5,375.21 1754.5,376.06 1758.5,376.93 1762.5,377.80 1766.5,378.68 1770.5,379.58 1774.5,380.49 1778.5,381.40 1782.5,382.33 1786.5,383.27 1790.5,384.22 1794.5,385.18 1798.5,386.14 1802.5,387.12 1806.5,388.11 1810.5,389.10 1814.5,390.10 1818.5,391.12 1822.5,392.14 1826.5,393.16 1830.5,394.20 1834.5,395.24 1838.5,396.29 1842.5,397.34 1846.5,398.40 1850.5,399.46 1854.5,400.53 1858.5,401.61 1862.5,402.69 1866.5,403.77 1870.5,404.85 1874.5,405.94 1878.5,407.04 1882.5,408.13 1886.5,409.23 1890.5,410.33 1894.5,411.43 1898.5,412.53 1902.5,413.64 1906.5,414.74 1910.5,415.84 1914.5,416.95 1918.5,418.05 1922.5,419.15 1926.5,420.25 1930.5,421.35 1934.5,422.45 1938.5,423.55 1942.5,424.64 1946.5,425.73 1950.5,426.82 1954.5,427.90 1958.5,428.98 1962.5,430.05 1966.5,431.12 1970.5,432.19 1974.5,433.25 1978.5,434.30 1982.5,435.35 1986.5,436.39 1990.5,437.42 1994.5,438.45 1998.5,439.47 2002.5,440.48 2006.5,441.49 2010.5,442.48 2014.5,443.47 2018.5,444.45 2022.5,445.41 2026.5,446.37 2030.5,447.32 2034.5,448.26 2038.5,449.18 2042.5,450.10 2046.5,451.00 2050.5,451.89 2054.5,452.77 2058.5,453.64 2062.5,454.50 2066.5,455.34 2070.5,456.18 2074.5,457.00 2078.5,457.81 2082.5,458.61 2086.5,459.40 2090.5,460.17 2094.5,460.94 2098.5,461.69 2102.5,462.43 2106.5,463.16 2110.5,463.88 2114.5,464.58 2118.5,465.27 2122.5,465.95 2126.5,466.62 2130.5,467.28 2134.5,467.93 2138.5,468.56 2142.5,469.18 2146.5,469.79 2150.5,470.39 2154.5,470.97 2158.5,471.54 2162.5,472.10 2166.5,472.65 2170.5,473.19 2174.5,473.71 2178.5,474.22 2182.5,474.72 2186.5,475.21 2190.5,475.68 2194.5,476.14 2198.5,476.59 2202.5,477.03 2206.5,477.46 2210.5,477.87 2214.5,478.27 2218.5,478.66 2222.5,479.03 2226.5,479.39 2230.5,479.74 2234.5,480.08 2238.5,480.40 2242.5,480.71 2246.5,481.01 2250.5,481.30 2254.5,481.57 2258.5,481.83 2262.5,482.08 2266.5,482.32 2270.5,482.54 2274.5,482.75 2278.5,482.94 2282.5,483.13 2286.5,483.30 2290.5,483.46 2294.5,483.60 2298.5,483.73 2302.5,483.85 2306.5,483.96 2309.5,484.03 2309.5,491.5" fill="#3300cc"/>
<polyline points="138.5,488.21 142.5,488.18 146.5,488.14 150.5,488.09 154.5,488.04 158.5,487.98 162.5,487.92 166.5,487.86 170.5,487.79 174.5,487.71 178.5,487.63 182.5,487.54 186.5,487.45 190.5,487.35 194.5,487.25 198.5,487.14 202.5,487.02 206.5,486.90 210.5,486.77 214.5,486.64 218.5,486.50 222.5,486.35 226.5,486.20 230.5,486.04 234.5,485.87 238.5,485.69 242.5,485.51 246.5,485.32 250.5,485.13 254.5,484.92 258.5,484.71 262.5,484.49 266.5,484.26 270.5,484.03 274.5,483.79 278.5,483.54 282.5,483.28 286.5,483.01 290.5,482.73 294.5,482.45 298.5,482.16 302.5,481.86 306.5,481.54 310.5,481.23 314.5,480.90 318.5,480.56 322.5,480.21 326.5,479.86 330.5,479.49 334.5,479.11 338.5,478.73 342.5,478.33 346.5,477.93 350.5,477.51 354.5,477.09 358.5,476.65 362.5,476.21 366.5,475.75 370.5,475.28 374.5,474.81 378.5,474.32 382.5,473.82 386.5,473.31 390.5,472.79 394.5,472.25 398.5,471.71 402.5,471.15 406.5,470.59 410.5,470.01 414.5,469.42 418.5,468.81 422.5,468.20 426.5,467.57 430.5,466.93 434.5,466.28 438.5,465.62 442.5,464.94 446.5,464.25 450.5,463.55 454.5,462.84 458.5,462.12 462.5,461.39 466.5,460.64 470.5,459.89 474.5,459.13 478.5,458.37 482.5,457.59 486.5,456.81 490.5,456.02 494.5,455.23 498.5,454.43 502.5,453.63 506.5,452.82 510.5,452.01 514.5,451.20 518.5,450.38 522.5,449.56 526.5,448.74 530.5,447.92 534.5,447.10 538.5,446.28 542.5,445.46 546.5,444.64 550.5,443.83 554.5,443.02 558.5,442.20 562.5,441.40 566.5,440.59 570.5,439.80 574.5,439.00 578.5,438.22 582.5,437.43 586.5,436.66 590.5,435.89 594.5,435.13 598.5,434.38 602.5,433.64 606.5,432.91 610.5,432.19 614.5,431.48 618.5,430.78 622.5,430.09 626.5,429.41 630.5,428.75 634.5,428.10 638.5,427.46 642.5,426.84 646.5,426.24 650.5,425.65 654.5,425.07 658.5,424.51 662.5,423.97 666.5,423.45 670.5,422.94 674.5,422.46 678.5,421.99 682.5,421.54 686.5,421.12 690.5,420.71 694.5,420.32 698.5,419.95 702.5,419.59 706.5,419.25 710.5,418.93 714.5,418.62 718.5,418.33 722.5,418.05 726.5,417.78 730.5,417.52 734.5,417.28 738.5,417.04 742.5,416.82 746.5,416.60 750.5,416.40 754.5,416.20 758.5,416.01 762.5,415.82 766.5,415.64 770.5,415.47 774.5,415.30 778.5,415.14 782.5,414.97 786.5,414.81 790.5,414.65 794.5,414.50 798.5,414.34 802.5,414.18 806.5,414.02 810.5,413.86 814.5,413.70 818.5,413.53 822.5,413.36 826.5,413.19 830.5,413.01 834.5,412.82 838.5,412.63 842.5,412.43 846.5,412.22 850.5,412.00 854.5,411.77 858.5,411.54 862.5,411.29 866.5,411.03 870.5,410.76 874.5,410.48 878.5,410.18 882.5,409.88 886.5,409.56 890.5,409.22 894.5,408.87 898.5,408.51 902.5,408.14 906.5,407.75 910.5,407.34 914.5,406.92 918.5,406.48 922.5,406.03 926.5,405.56 930.5,405.08 934.5,404.58 938.5,404.06 942.5,403.52 946.5,402.96 950.5,402.39 954.5,401.80 958.5,401.19 962.5,400.56 966.5,399.91 970.5,399.24 974.5,398.55 978.5,397.85 982.5,397.13 986.5,396.40 990.5,395.65 994.5,394.89 998.5,394.12 1002.5,393.33 1006.5,392.53 1010.5,391.73 1014.5,390.91 1018.5,390.08 1022.5,389.25 1026.5,388.40 1030.5,387.55 1034.5,386.70 1038.5,385.84 1042.5,384.97 1046.5,384.10 1050.5,383.23 1054.5,382.35 1058.5,381.48 1062.5,380.60 1066.5,379.72 1070.5,378.84 1074.5,377.97 1078.5,377.09 1082.5,376.22 1086.5,375.36 1090.5,374.49 1094.5,373.64 1098.5,372.79 1102.5,371.94 1106.5,371.11 1110.5,370.28 1114.5,369.46 1118.5,368.65 1122.5,367.85 1126.5,367.06 1130.5,366.28 1134.5,365.52 1138.5,364.77 1142.5,364.03 1146.5,363.31 1150.5,362.61 1154.5,361.92 1158.5,361.24 1162.5,360.58 1166.5,359.94 1170.5,359.31 1174.5,358.70 1178.5,358.11 1182.5,357.54 1186.5,356.98 1190.5,356.44 1194.5,355.92 1198.5,355.42 1202.5,354.93 1206.5,354.47 1210.5,354.02 1214.5,353.60 1218.5,353.19 1222.5,352.80 1226.5,352.44 1230.5,352.10 1234.5,351.77 1238.5,351.47 1242.5,351.19 1246.5,350.93 1250.5,350.70 1254.5,350.48 1258.5,350.29 1262.5,350.13 1266.5,349.98 1270.5,349.86 1274.5,349.76 1278.5,349.68 1282.5,349.61 1286.5,349.57 1290.5,349.54 1294.5,349.53 1298.5,349.53 1302.5,349.55 1306.5,349.58 1310.5,349.62 1314.5,349.67 1318.5,349.73 1322.5,349.81 1326.5,349.89 1330.5,349.98 1334.5,350.07 1338.5,350.17 1342.5,350.27 1346.5,350.38 1350.5,350.49 1354.5,350.61 1358.5,350.72 1362.5,350.83 1366.5,350.94 1370.5,351.05 1374.5,351.16 1378.5,351.26 1382.5,351.36 1386.5,351.45 1390.5,351.53 1394.5,351.60 1398.5,351.67 1402.5,351.73 1406.5,351.77 1410.5,351.81 1414.5,351.83 1418.5,351.84 1422.5,351.84 1426.5,351.83 1430.5,351.81 1434.5,351.78 1438.5,351.74 1442.5,351.70 1446.5,351.65 1450.5,351.59 1454.5,351.53 1458.5,351.47 1462.5,351.40 1466.5,351.33 1470.5,351.26 1474.5,351.19 1478.5,351.11 1482.5,351.04 1486.5,350.98 1490.5,350.91 1494.5,350.85 1498.5,350.79 1502.5,350.73 1506.5,350.68 1510.5,350.64 1514.5,350.61 1518.5,350.58 1522.5,350.56 1526.5,350.55 1530.5,350.56 1534.5,350.57 1538.5,350.60 1542.5,350.63 1546.5,350.69 1550.5,350.75 1554.5,350.83 1558.5,350.93 1562.5,351.04 1566.5,351.18 1570.5,351.33 1574.5,351.49 1578.5,351.68 1582.5,351.89 1586.5,352.11 1590.5,352.36 1594.5,352.62 1598.5,352.90 1602.5,353.19 1606.5,353.51 1610.5,353.84 1614.5,354.19 1618.5,354.56 1622.5,354.94 1626.5,355.34 1630.5,355.76 1634.5,356.19 1638.5,356.64 1642.5,357.11 1646.5,357.59 1650.5,358.09 1654.5,358.60 1658.5,359.13 1662.5,359.68 1666.5,360.24 1670.5,360.81 1674.5,361.40 1678.5,362.01 1682.5,362.63 1686.5,363.26 1690.5,363.91 1694.5,364.57 1698.5,365.25 1702.5,365.93 1706.5,366.64 1710.5,367.35 1714.5,368.08 1718.5,368.82 1722.5,369.58 1726.5,370.35 1730.5,371.13 1734.5,371.92 1738.5,372.72 1742.5,373.54 1746.5,374.37 1750.5,375.21 1754.5,376.06 1758.5,376.93 1762.5,377.80 1766.5,378.68 1770.5,379.58 1774.5,380.49 1778.5,381.40 1782.5,382.33 1786.5,383.27 1790.5,384.22 1794.5,385.18 1798.5,386.14 1802.5,387.12 1806.5,388.11 1810.5,389.10 1814.5,390.10 1818.5,391.12 1822.5,392.14 1826.5,393.16 1830.5,394.20 1834.5,395.24 1838.5,396.29 1842.5,397.34 1846.5,398.40 1850.5,399.46 1854.5,400.53 1858.5,401.61 1862.5,402.69 1866.5,403.77 1870.5,404.85 1874.5,405.94 1878.5,407.04 1882.5,408.13 1886.5,409.23 1890.5,410.33 1894.5,411.43 1898.5,412.53 1902.5,413.64 1906.5,414.74 1910.5,415.84 1914.5,416.95 1918.5,418.05 1922.5,419.15 1926.5,420.25 1930.5,421.35 1934.5,422.45 1938.5,423.55 1942.5,424.64 1946.5,425.73 1950.5,426.82 1954.5,427.90 1958.5,428.98 1962.5,430.05 1966.5,431.12 1970.5,432.19 1974.5,433.25 1978.5,434.30 1982.5,435.35 1986.5,436.39 1990.5,437.42 1994.5,438.45 1998.5,439.47 2002.5,440.48 2006.5,441.49 2010.5,442.48 2014.5,443.47 2018.5,444.45 2022.5,445.41 2026.5,446.37 2030.5,447.32 2034.5,448.26 2038.5,449.18 2042.5,450.10 2046.5,451.00 2050.5,451.89 2054.5,452.77 2058.5,453.64 2062.5,454.50 2066.5,455.34 2070.5,456.18 2074.5,457.00 2078.5,457.81 2082.5,458.61 2086.5,459.40 2090.5,460.17 2094.5,460.94 2098.5,461.69 2102.5,462.43 2106.5,463.16 2110.5,463.88 2114.5,464.58 2118.5,465.27 2122.5,465.95 2126.5,466.62 2130.5,467.28 2134.5,467.93 2138.5,468.56 2142.5,469.18 2146.5,469.79 2150.5,470.39 2154.5,470.97 2158.5,471.54 2162.5,472.10 2166.5,472.65 2170.5,473.19 2174.5,473.71 2178.5,474.22 2182.5,474.72 2186.5,475.21 2190.5,475.68 2194.5,476.14 2198.5,476.59 2202.5,477.03 2206.5,477.46 2210.5,477.87 2214.5,478.27 2218.5,478.66 2222.5,479.03 2226.5,479.39 2230.5,479.74 2234.5,480.08 2238.5,480.40 2242.5,480.71 2246.5,481.01 2250.5,481.30 2254.5,481.57 2258.5,481.83 2262.5,482.08 2266.5,482.32 2270.5,482.54 2274.5,482.75 2278.5,482.94 2282.5,483.13 2286.5,483.30 2290.5,483.46 2294.5,483.60 2298.5,483.73 2302.5,483.85 2306.5,483.96 2309.5,484.03" fill="none" stroke="#ffffff" stroke-width="4.2" transform="translate(0,0.6)"/>
<polyline points="138.5,488.21 142.5,488.18 146.5,488.14 150.5,488.09 154.5,488.04 158.5,487.98 162.5,487.92 166.5,487.86 170.5,487.79 174.5,487.71 178.5,487.63 182.5,487.54 186.5,487.45 190.5,487.35 194.5,487.25 198.5,487.14 202.5,487.02 206.5,486.90 210.5,486.77 214.5,486.64 218.5,486.50 222.5,486.35 226.5,486.20 230.5,486.04 234.5,485.87 238.5,485.69 242.5,485.51 246.5,485.32 250.5,485.13 254.5,484.92 258.5,484.71 262.5,484.49 266.5,484.26 270.5,484.03 274.5,483.79 278.5,483.54 282.5,483.28 286.5,483.01 290.5,482.73 294.5,482.45 298.5,482.16 302.5,481.86 306.5,481.54 310.5,481.23 314.5,480.90 318.5,480.56 322.5,480.21 326.5,479.86 330.5,479.49 334.5,479.11 338.5,478.73 342.5,478.33 346.5,477.93 350.5,477.51 354.5,477.09 358.5,476.65 362.5,476.21 366.5,475.75 370.5,475.28 374.5,474.81 378.5,474.32 382.5,473.82 386.5,473.31 390.5,472.79 394.5,472.25 398.5,471.71 402.5,471.15 406.5,470.59 410.5,470.01 414.5,469.42 418.5,468.81 422.5,468.20 426.5,467.57 430.5,466.93 434.5,466.28 438.5,465.62 442.5,464.94 446.5,464.25 450.5,463.55 454.5,462.84 458.5,462.12 462.5,461.39 466.5,460.64 470.5,459.89 474.5,459.13 478.5,458.37 482.5,457.59 486.5,456.81 490.5,456.02 494.5,455.23 498.5,454.43 502.5,453.63 506.5,452.82 510.5,452.01 514.5,451.20 518.5,450.38 522.5,449.56 526.5,448.74 530.5,447.92 534.5,447.10 538.5,446.28 542.5,445.46 546.5,444.64 550.5,443.83 554.5,443.02 558.5,442.20 562.5,441.40 566.5,440.59 570.5,439.80 574.5,439.00 578.5,438.22 582.5,437.43 586.5,436.66 590.5,435.89 594.5,435.13 598.5,434.38 602.5,433.64 606.5,432.91 610.5,432.19 614.5,431.48 618.5,430.78 622.5,430.09 626.5,429.41 630.5,428.75 634.5,428.10 638.5,427.46 642.5,426.84 646.5,426.24 650.5,425.65 654.5,425.07 658.5,424.51 662.5,423.97 666.5,423.45 670.5,422.94 674.5,422.46 678.5,421.99 682.5,421.54 686.5,421.12 690.5,420.71 694.5,420.32 698.5,419.95 702.5,419.59 706.5,419.25 710.5,418.93 714.5,418.62 718.5,418.33 722.5,418.05 726.5,417.78 730.5,417.52 734.5,417.28 738.5,417.04 742.5,416.82 746.5,416.60 750.5,416.40 754.5,416.20 758.5,416.01 762.5,415.82 766.5,415.64 770.5,415.47 774.5,415.30 778.5,415.14 782.5,414.97 786.5,414.81 790.5,414.65 794.5,414.50 798.5,414.34 802.5,414.18 806.5,414.02 810.5,413.86 814.5,413.70 818.5,413.53 822.5,413.36 826.5,413.19 830.5,413.01 834.5,412.82 838.5,412.63 842.5,412.43 846.5,412.22 850.5,412.00 854.5,411.77 858.5,411.54 862.5,411.29 866.5,411.03 870.5,410.76 874.5,410.48 878.5,410.18 882.5,409.88 886.5,409.56 890.5,409.22 894.5,408.87 898.5,408.51 902.5,408.14 906.5,407.75 910.5,407.34 914.5,406.92 918.5,406.48 922.5,406.03 926.5,405.56 930.5,405.08 934.5,404.58 938.5,404.06 942.5,403.52 946.5,402.96 950.5,402.39 954.5,401.80 958.5,401.19 962.5,400.56 966.5,399.91 970.5,399.24 974.5,398.55 978.5,397.85 982.5,397.13 986.5,396.40 990.5,395.65 994.5,394.89 998.5,394.12 1002.5,393.33 1006.5,392.53 1010.5,391.73 1014.5,390.91 1018.5,390.08 1022.5,389.25 1026.5,388.40 1030.5,387.55 1034.5,386.70 1038.5,385.84 1042.5,384.97 1046.5,384.10 1050.5,383.23 1054.5,382.35 1058.5,381.48 1062.5,380.60 1066.5,379.72 1070.5,378.84 1074.5,377.97 1078.5,377.09 1082.5,376.22 1086.5,375.36 1090.5,374.49 1094.5,373.64 1098.5,372.79 1102.5,371.94 1106.5,371.11 1110.5,370.28 1114.5,369.46 1118.5,368.65 1122.5,367.85 1126.5,367.06 1130.5,366.28 1134.5,365.52 1138.5,364.77 1142.5,364.03 1146.5,363.31 1150.5,362.61 1154.5,361.92 1158.5,361.24 1162.5,360.58 1166.5,359.94 1170.5,359.31 1174.5,358.70 1178.5,358.11 1182.5,357.54 1186.5,356.98 1190.5,356.44 1194.5,355.92 1198.5,355.42 1202.5,354.93 1206.5,354.47 1210.5,354.02 1214.5,353.60 1218.5,353.19 1222.5,352.80 1226.5,352.44 1230.5,352.10 1234.5,351.77 1238.5,351.47 1242.5,351.19 1246.5,350.93 1250.5,350.70 1254.5,350.48 1258.5,350.29 1262.5,350.13 1266.5,349.98 1270.5,349.86 1274.5,349.76 1278.5,349.68 1282.5,349.61 1286.5,349.57 1290.5,349.54 1294.5,349.53 1298.5,349.53 1302.5,349.55 1306.5,349.58 1310.5,349.62 1314.5,349.67 1318.5,349.73 1322.5,349.81 1326.5,349.89 1330.5,349.98 1334.5,350.07 1338.5,350.17 1342.5,350.27 1346.5,350.38 1350.5,350.49 1354.5,350.61 1358.5,350.72 1362.5,350.83 1366.5,350.94 1370.5,351.05 1374.5,351.16 1378.5,351.26 1382.5,351.36 1386.5,351.45 1390.5,351.53 1394.5,351.60 1398.5,351.67 1402.5,351.73 1406.5,351.77 1410.5,351.81 1414.5,351.83 1418.5,351.84 1422.5,351.84 1426.5,351.83 1430.5,351.81 1434.5,351.78 1438.5,351.74 1442.5,351.70 1446.5,351.65 1450.5,351.59 1454.5,351.53 1458.5,351.47 1462.5,351.40 1466.5,351.33 1470.5,351.26 1474.5,351.19 1478.5,351.11 1482.5,351.04 1486.5,350.98 1490.5,350.91 1494.5,350.85 1498.5,350.79 1502.5,350.73 1506.5,350.68 1510.5,350.64 1514.5,350.61 1518.5,350.58 1522.5,350.56 1526.5,350.55 1530.5,350.56 1534.5,350.57 1538.5,350.60 1542.5,350.63 1546.5,350.69 1550.5,350.75 1554.5,350.83 1558.5,350.93 1562.5,351.04 1566.5,351.18 1570.5,351.33 1574.5,351.49 1578.5,351.68 1582.5,351.89 1586.5,352.11 1590.5,352.36 1594.5,352.62 1598.5,352.90 1602.5,353.19 1606.5,353.51 1610.5,353.84 1614.5,354.19 1618.5,354.56 1622.5,354.94 1626.5,355.34 1630.5,355.76 1634.5,356.19 1638.5,356.64 1642.5,357.11 1646.5,357.59 1650.5,358.09 1654.5,358.60 1658.5,359.13 1662.5,359.68 1666.5,360.24 1670.5,360.81 1674.5,361.40 1678.5,362.01 1682.5,362.63 1686.5,363.26 1690.5,363.91 1694.5,364.57 1698.5,365.25 1702.5,365.93 1706.5,366.64 1710.5,367.35 1714.5,368.08 1718.5,368.82 1722.5,369.58 1726.5,370.35 1730.5,371.13 1734.5,371.92 1738.5,372.72 1742.5,373.54 1746.5,374.37 1750.5,375.21 1754.5,376.06 1758.5,376.93 1762.5,377.80 1766.5,378.68 1770.5,379.58 1774.5,380.49 1778.5,381.40 1782.5,382.33 1786.5,383.27 1790.5,384.22 1794.5,385.18 1798.5,386.14 1802.5,387.12 1806.5,388.11 1810.5,389.10 1814.5,390.10 1818.5,391.12 1822.5,392.14 1826.5,393.16 1830.5,394.20 1834.5,395.24 1838.5,396.29 1842.5,397.34 1846.5,398.40 1850.5,399.46 1854.5,400.53 1858.5,401.61 1862.5,402.69 1866.5,403.77 1870.5,404.85 1874.5,405.94 1878.5,407.04 1882.5,408.13 1886.5,409.23 1890.5,410.33 1894.5,411.43 1898.5,412.53 1902.5,413.64 1906.5,414.74 1910.5,415.84 1914.5,416.95 1918.5,418.05 1922.5,419.15 1926.5,420.25 1930.5,421.35 1934.5,422.45 1938.5,423.55 1942.5,424.64 1946.5,425.73 1950.5,426.82 1954.5,427.90 1958.5,428.98 1962.5,430.05 1966.5,431.12 1970.5,432.19 1974.5,433.25 1978.5,434.30 1982.5,435.35 1986.5,436.39 1990.5,437.42 1994.5,438.45 1998.5,439.47 2002.5,440.48 2006.5,441.49 2010.5,442.48 2014.5,443.47 2018.5,444.45 2022.5,445.41 2026.5,446.37 2030.5,447.32 2034.5,448.26 2038.5,449.18 2042.5,450.10 2046.5,451.00 2050.5,451.89 2054.5,452.77 2058.5,453.64 2062.5,454.50 2066.5,455.34 2070.5,456.18 2074.5,457.00 2078.5,457.81 2082.5,458.61 2086.5,459.40 2090.5,460.17 2094.5,460.94 2098.5,461.69 2102.5,462.43 2106.5,463.16 2110.5,463.88 2114.5,464.58 2118.5,465.27 2122.5,465.95 2126.5,466.62 2130.5,467.28 2134.5,467.93 2138.5,468.56 2142.5,469.18 2146.5,469.79 2150.5,470.39 2154.5,470.97 2158.5,471.54 2162.5,472.10 2166.5,472.65 2170.5,473.19 2174.5,473.71 2178.5,474.22 2182.5,474.72 2186.5,475.21 2190.5,475.68 2194.5,476.14 2198.5,476.59 2202.5,477.03 2206.5,477.46 2210.5,477.87 2214.5,478.27 2218.5,478.66 2222.5,479.03 2226.5,479.39 2230.5,479.74 2234.5,480.08 2238.5,480.40 2242.5,480.71 2246.5,481.01 2250.5,481.30 2254.5,481.57 2258.5,481.83 2262.5,482.08 2266.5,482.32 2270.5,482.54 2274.5,482.75 2278.5,482.94 2282.5,483.13 2286.5,483.30 2290.5,483.46 2294.5,483.60 2298.5,483.73 2302.5,483.85 2306.5,483.96 2309.5,484.03" fill="none" stroke="#3300cc" stroke-width="1.2"/>
</g>
<rect x="138.5" y="325.5" width="2171.0" height="166.0" fill="none" stroke="#000" stroke-width="3"/>
<text transform="translate(111.0,508.3) scale(0.91,1)" text-anchor="end" class="t">0</text>
<text transform="translate(110.0,356.2) scale(0.91,1)" text-anchor="end" class="t">2</text>
<text transform="translate(64.1,413.1) rotate(-90)" text-anchor="middle" class="l">Density</text>
<text transform="translate(138.5,552.5) scale(0.91,1)" text-anchor="middle" class="t">0.0</text>
<text transform="translate(572.7,552.5) scale(0.91,1)" text-anchor="middle" class="t">0.2</text>
<text transform="translate(1006.9,552.5) scale(0.91,1)" text-anchor="middle" class="t">0.4</text>
<text transform="translate(1441.1,552.5) scale(0.91,1)" text-anchor="middle" class="t">0.6</text>
<text transform="translate(1875.3,552.5) scale(0.91,1)" text-anchor="middle" class="t">0.8</text>
<polygon points="2289.10,521.95 2295.30,521.95 2295.30,552.55 2292.20,552.55 2292.20,524.95 2287.20,524.95" fill="#000"/>
<text transform="translate(2303.1,552.5) scale(0.91,1)" text-anchor="start" class="t">.0</text>
</g>
<g>
<clipPath id="c2"><rect x="138.5" y="618.5" width="2171.0" height="165.0"/></clipPath>
<g clip-path="url(#c2)">
<polygon points="138.5,783.5 138.5,781.50 142.5,781.21 146.5,780.92 150.5,780.64 154.5,780.35 158.5,780.07 162.5,779.79 166.5,779.51 170.5,779.23 174.5,778.95 178.5,778.67 182.5,778.39 186.5,778.12 190.5,777.84 194.5,777.57 198.5,777.30 202.5,777.03 206.5,776.77 210.5,776.50 214.5,776.24 218.5,775.98 222.5,775.72 226.5,775.46 230.5,775.21 234.5,774.96 238.5,774.71 242.5,774.46 246.5,774.21 250.5,773.97 254.5,773.73 258.5,773.49 262.5,773.26 266.5,773.03 270.5,772.80 274.5,772.57 278.5,772.35 282.5,772.12 286.5,771.90 290.5,771.69 294.5,771.47 298.5,771.26 302.5,771.04 306.5,770.83 310.5,770.62 314.5,770.42 318.5,770.21 322.5,770.00 326.5,769.80 330.5,769.59 334.5,769.39 338.5,769.18 342.5,768.98 346.5,768.78 350.5,768.57 354.5,768.37 358.5,768.17 362.5,767.96 366.5,767.76 370.5,767.55 374.5,767.34 378.5,767.14 382.5,766.93 386.5,766.72 390.5,766.51 394.5,766.30 398.5,766.08 402.5,765.87 406.5,765.65 410.5,765.43 414.5,765.20 418.5,764.97 422.5,764.74 426.5,764.51 430.5,764.27 434.5,764.02 438.5,763.77 442.5,763.51 446.5,763.24 450.5,762.97 454.5,762.69 458.5,762.40 462.5,762.11 466.5,761.80 470.5,761.49 474.5,761.16 478.5,760.83 482.5,760.48 486.5,760.13 490.5,759.76 494.5,759.38 498.5,758.99 502.5,758.59 506.5,758.17 510.5,757.74 514.5,757.30 518.5,756.84 522.5,756.37 526.5,755.88 530.5,755.38 534.5,754.86 538.5,754.32 542.5,753.77 546.5,753.21 550.5,752.63 554.5,752.04 558.5,751.43 562.5,750.82 566.5,750.19 570.5,749.55 574.5,748.90 578.5,748.24 582.5,747.57 586.5,746.89 590.5,746.20 594.5,745.51 598.5,744.81 602.5,744.10 606.5,743.38 610.5,742.66 614.5,741.93 618.5,741.20 622.5,740.46 626.5,739.72 630.5,738.98 634.5,738.23 638.5,737.48 642.5,736.73 646.5,735.98 650.5,735.23 654.5,734.48 658.5,733.72 662.5,732.97 666.5,732.22 670.5,731.48 674.5,730.73 678.5,729.98 682.5,729.24 686.5,728.50 690.5,727.76 694.5,727.02 698.5,726.28 702.5,725.54 706.5,724.81 710.5,724.08 714.5,723.35 718.5,722.62 722.5,721.89 726.5,721.17 730.5,720.44 734.5,719.72 738.5,719.00 742.5,718.29 746.5,717.57 750.5,716.86 754.5,716.15 758.5,715.44 762.5,714.73 766.5,714.03 770.5,713.33 774.5,712.63 778.5,711.93 782.5,711.24 786.5,710.54 790.5,709.85 794.5,709.17 798.5,708.48 802.5,707.80 806.5,707.12 810.5,706.44 814.5,705.77 818.5,705.09 822.5,704.42 826.5,703.76 830.5,703.09 834.5,702.43 838.5,701.77 842.5,701.12 846.5,700.46 850.5,699.81 854.5,699.17 858.5,698.52 862.5,697.88 866.5,697.24 870.5,696.61 874.5,695.97 878.5,695.35 882.5,694.72 886.5,694.10 890.5,693.48 894.5,692.86 898.5,692.25 902.5,691.64 906.5,691.03 910.5,690.43 914.5,689.83 918.5,689.23 922.5,688.64 926.5,688.05 930.5,687.47 934.5,686.88 938.5,686.30 942.5,685.73 946.5,685.16 950.5,684.59 954.5,684.03 958.5,683.47 962.5,682.91 966.5,682.36 970.5,681.81 974.5,681.26 978.5,680.72 982.5,680.19 986.5,679.65 990.5,679.12 994.5,678.60 998.5,678.08 1002.5,677.56 1006.5,677.05 1010.5,676.54 1014.5,676.03 1018.5,675.53 1022.5,675.04 1026.5,674.55 1030.5,674.06 1034.5,673.58 1038.5,673.10 1042.5,672.62 1046.5,672.15 1050.5,671.69 1054.5,671.23 1058.5,670.77 1062.5,670.32 1066.5,669.87 1070.5,669.43 1074.5,668.99 1078.5,668.56 1082.5,668.13 1086.5,667.71 1090.5,667.29 1094.5,666.88 1098.5,666.47 1102.5,666.06 1106.5,665.66 1110.5,665.27 1114.5,664.88 1118.5,664.50 1122.5,664.12 1126.5,663.74 1130.5,663.37 1134.5,663.01 1138.5,662.65 1142.5,662.30 1146.5,661.95 1150.5,661.61 1154.5,661.27 1158.5,660.94 1162.5,660.61 1166.5,660.29 1170.5,659.97 1174.5,659.66 1178.5,659.36 1182.5,659.06 1186.5,658.77 1190.5,658.48 1194.5,658.19 1198.5,657.92 1202.5,657.65 1206.5,657.38 1210.5,657.12 1214.5,656.86 1218.5,656.61 1222.5,656.35 1226.5,656.10 1230.5,655.86 1234.5,655.61 1238.5,655.36 1242.5,655.11 1246.5,654.86 1250.5,654.61 1254.5,654.35 1258.5,654.09 1262.5,653.83 1266.5,653.56 1270.5,653.29 1274.5,653.01 1278.5,652.72 1282.5,652.42 1286.5,652.12 1290.5,651.81 1294.5,651.49 1298.5,651.15 1302.5,650.81 1306.5,650.46 1310.5,650.09 1314.5,649.71 1318.5,649.31 1322.5,648.90 1326.5,648.48 1330.5,648.04 1334.5,647.58 1338.5,647.11 1342.5,646.62 1346.5,646.11 1350.5,645.59 1354.5,645.05 1358.5,644.50 1362.5,643.93 1366.5,643.36 1370.5,642.78 1374.5,642.19 1378.5,641.59 1382.5,640.99 1386.5,640.38 1390.5,639.77 1394.5,639.16 1398.5,638.56 1402.5,637.95 1406.5,637.35 1410.5,636.75 1414.5,636.15 1418.5,635.57 1422.5,634.99 1426.5,634.43 1430.5,633.87 1434.5,633.33 1438.5,632.80 1442.5,632.28 1446.5,631.79 1450.5,631.31 1454.5,630.85 1458.5,630.41 1462.5,630.00 1466.5,629.60 1470.5,629.24 1474.5,628.90 1478.5,628.58 1482.5,628.30 1486.5,628.05 1490.5,627.82 1494.5,627.64 1498.5,627.48 1502.5,627.36 1506.5,627.26 1510.5,627.21 1514.5,627.18 1518.5,627.19 1522.5,627.22 1526.5,627.29 1530.5,627.40 1534.5,627.53 1538.5,627.69 1542.5,627.89 1546.5,628.12 1550.5,628.38 1554.5,628.67 1558.5,628.99 1562.5,629.34 1566.5,629.72 1570.5,630.13 1574.5,630.57 1578.5,631.05 1582.5,631.55 1586.5,632.08 1590.5,632.64 1594.5,633.23 1598.5,633.86 1602.5,634.51 1606.5,635.19 1610.5,635.90 1614.5,636.63 1618.5,637.40 1622.5,638.20 1626.5,639.02 1630.5,639.87 1634.5,640.76 1638.5,641.67 1642.5,642.60 1646.5,643.57 1650.5,644.56 1654.5,645.58 1658.5,646.63 1662.5,647.70 1666.5,648.79 1670.5,649.91 1674.5,651.04 1678.5,652.19 1682.5,653.36 1686.5,654.54 1690.5,655.74 1694.5,656.94 1698.5,658.16 1702.5,659.38 1706.5,660.61 1710.5,661.85 1714.5,663.09 1718.5,664.33 1722.5,665.57 1726.5,666.81 1730.5,668.04 1734.5,669.27 1738.5,670.50 1742.5,671.72 1746.5,672.92 1750.5,674.12 1754.5,675.30 1758.5,676.47 1762.5,677.62 1766.5,678.76 1770.5,679.87 1774.5,680.98 1778.5,682.07 1782.5,683.14 1786.5,684.19 1790.5,685.24 1794.5,686.27 1798.5,687.28 1802.5,688.28 1806.5,689.27 1810.5,690.24 1814.5,691.20 1818.5,692.15 1822.5,693.08 1826.5,694.01 1830.5,694.92 1834.5,695.82 1838.5,696.71 1842.5,697.59 1846.5,698.46 1850.5,699.31 1854.5,700.16 1858.5,701.00 1862.5,701.83 1866.5,702.65 1870.5,703.46 1874.5,704.26 1878.5,705.06 1882.5,705.85 1886.5,706.63 1890.5,707.40 1894.5,708.17 1898.5,708.93 1902.5,709.68 1906.5,710.43 1910.5,711.17 1914.5,711.90 1918.5,712.64 1922.5,713.36 1926.5,714.08 1930.5,714.80 1934.5,715.52 1938.5,716.23 1942.5,716.94 1946.5,717.64 1950.5,718.34 1954.5,719.04 1958.5,719.74 1962.5,720.44 1966.5,721.13 1970.5,721.82 1974.5,722.52 1978.5,723.21 1982.5,723.90 1986.5,724.59 1990.5,725.29 1994.5,725.98 1998.5,726.68 2002.5,727.37 2006.5,728.07 2010.5,728.77 2014.5,729.47 2018.5,730.18 2022.5,730.88 2026.5,731.59 2030.5,732.31 2034.5,733.02 2038.5,733.75 2042.5,734.47 2046.5,735.20 2050.5,735.93 2054.5,736.66 2058.5,737.39 2062.5,738.13 2066.5,738.86 2070.5,739.60 2074.5,740.34 2078.5,741.08 2082.5,741.82 2086.5,742.56 2090.5,743.30 2094.5,744.04 2098.5,744.77 2102.5,745.51 2106.5,746.24 2110.5,746.98 2114.5,747.71 2118.5,748.44 2122.5,749.16 2126.5,749.88 2130.5,750.60 2134.5,751.32 2138.5,752.03 2142.5,752.74 2146.5,753.44 2150.5,754.14 2154.5,754.84 2158.5,755.52 2162.5,756.21 2166.5,756.88 2170.5,757.55 2174.5,758.22 2178.5,758.88 2182.5,759.53 2186.5,760.17 2190.5,760.81 2194.5,761.43 2198.5,762.05 2202.5,762.66 2206.5,763.27 2210.5,763.86 2214.5,764.44 2218.5,765.02 2222.5,765.58 2226.5,766.13 2230.5,766.68 2234.5,767.21 2238.5,767.73 2242.5,768.24 2246.5,768.74 2250.5,769.23 2254.5,769.70 2258.5,770.16 2262.5,770.61 2266.5,771.04 2270.5,771.47 2274.5,771.88 2278.5,772.27 2282.5,772.65 2286.5,773.01 2290.5,773.37 2294.5,773.70 2298.5,774.02 2302.5,774.32 2306.5,774.61 2309.5,774.82 2309.5,783.5" fill="#660099"/>
<polyline points="138.5,781.50 142.5,781.21 146.5,780.92 150.5,780.64 154.5,780.35 158.5,780.07 162.5,779.79 166.5,779.51 170.5,779.23 174.5,778.95 178.5,778.67 182.5,778.39 186.5,778.12 190.5,777.84 194.5,777.57 198.5,777.30 202.5,777.03 206.5,776.77 210.5,776.50 214.5,776.24 218.5,775.98 222.5,775.72 226.5,775.46 230.5,775.21 234.5,774.96 238.5,774.71 242.5,774.46 246.5,774.21 250.5,773.97 254.5,773.73 258.5,773.49 262.5,773.26 266.5,773.03 270.5,772.80 274.5,772.57 278.5,772.35 282.5,772.12 286.5,771.90 290.5,771.69 294.5,771.47 298.5,771.26 302.5,771.04 306.5,770.83 310.5,770.62 314.5,770.42 318.5,770.21 322.5,770.00 326.5,769.80 330.5,769.59 334.5,769.39 338.5,769.18 342.5,768.98 346.5,768.78 350.5,768.57 354.5,768.37 358.5,768.17 362.5,767.96 366.5,767.76 370.5,767.55 374.5,767.34 378.5,767.14 382.5,766.93 386.5,766.72 390.5,766.51 394.5,766.30 398.5,766.08 402.5,765.87 406.5,765.65 410.5,765.43 414.5,765.20 418.5,764.97 422.5,764.74 426.5,764.51 430.5,764.27 434.5,764.02 438.5,763.77 442.5,763.51 446.5,763.24 450.5,762.97 454.5,762.69 458.5,762.40 462.5,762.11 466.5,761.80 470.5,761.49 474.5,761.16 478.5,760.83 482.5,760.48 486.5,760.13 490.5,759.76 494.5,759.38 498.5,758.99 502.5,758.59 506.5,758.17 510.5,757.74 514.5,757.30 518.5,756.84 522.5,756.37 526.5,755.88 530.5,755.38 534.5,754.86 538.5,754.32 542.5,753.77 546.5,753.21 550.5,752.63 554.5,752.04 558.5,751.43 562.5,750.82 566.5,750.19 570.5,749.55 574.5,748.90 578.5,748.24 582.5,747.57 586.5,746.89 590.5,746.20 594.5,745.51 598.5,744.81 602.5,744.10 606.5,743.38 610.5,742.66 614.5,741.93 618.5,741.20 622.5,740.46 626.5,739.72 630.5,738.98 634.5,738.23 638.5,737.48 642.5,736.73 646.5,735.98 650.5,735.23 654.5,734.48 658.5,733.72 662.5,732.97 666.5,732.22 670.5,731.48 674.5,730.73 678.5,729.98 682.5,729.24 686.5,728.50 690.5,727.76 694.5,727.02 698.5,726.28 702.5,725.54 706.5,724.81 710.5,724.08 714.5,723.35 718.5,722.62 722.5,721.89 726.5,721.17 730.5,720.44 734.5,719.72 738.5,719.00 742.5,718.29 746.5,717.57 750.5,716.86 754.5,716.15 758.5,715.44 762.5,714.73 766.5,714.03 770.5,713.33 774.5,712.63 778.5,711.93 782.5,711.24 786.5,710.54 790.5,709.85 794.5,709.17 798.5,708.48 802.5,707.80 806.5,707.12 810.5,706.44 814.5,705.77 818.5,705.09 822.5,704.42 826.5,703.76 830.5,703.09 834.5,702.43 838.5,701.77 842.5,701.12 846.5,700.46 850.5,699.81 854.5,699.17 858.5,698.52 862.5,697.88 866.5,697.24 870.5,696.61 874.5,695.97 878.5,695.35 882.5,694.72 886.5,694.10 890.5,693.48 894.5,692.86 898.5,692.25 902.5,691.64 906.5,691.03 910.5,690.43 914.5,689.83 918.5,689.23 922.5,688.64 926.5,688.05 930.5,687.47 934.5,686.88 938.5,686.30 942.5,685.73 946.5,685.16 950.5,684.59 954.5,684.03 958.5,683.47 962.5,682.91 966.5,682.36 970.5,681.81 974.5,681.26 978.5,680.72 982.5,680.19 986.5,679.65 990.5,679.12 994.5,678.60 998.5,678.08 1002.5,677.56 1006.5,677.05 1010.5,676.54 1014.5,676.03 1018.5,675.53 1022.5,675.04 1026.5,674.55 1030.5,674.06 1034.5,673.58 1038.5,673.10 1042.5,672.62 1046.5,672.15 1050.5,671.69 1054.5,671.23 1058.5,670.77 1062.5,670.32 1066.5,669.87 1070.5,669.43 1074.5,668.99 1078.5,668.56 1082.5,668.13 1086.5,667.71 1090.5,667.29 1094.5,666.88 1098.5,666.47 1102.5,666.06 1106.5,665.66 1110.5,665.27 1114.5,664.88 1118.5,664.50 1122.5,664.12 1126.5,663.74 1130.5,663.37 1134.5,663.01 1138.5,662.65 1142.5,662.30 1146.5,661.95 1150.5,661.61 1154.5,661.27 1158.5,660.94 1162.5,660.61 1166.5,660.29 1170.5,659.97 1174.5,659.66 1178.5,659.36 1182.5,659.06 1186.5,658.77 1190.5,658.48 1194.5,658.19 1198.5,657.92 1202.5,657.65 1206.5,657.38 1210.5,657.12 1214.5,656.86 1218.5,656.61 1222.5,656.35 1226.5,656.10 1230.5,655.86 1234.5,655.61 1238.5,655.36 1242.5,655.11 1246.5,654.86 1250.5,654.61 1254.5,654.35 1258.5,654.09 1262.5,653.83 1266.5,653.56 1270.5,653.29 1274.5,653.01 1278.5,652.72 1282.5,652.42 1286.5,652.12 1290.5,651.81 1294.5,651.49 1298.5,651.15 1302.5,650.81 1306.5,650.46 1310.5,650.09 1314.5,649.71 1318.5,649.31 1322.5,648.90 1326.5,648.48 1330.5,648.04 1334.5,647.58 1338.5,647.11 1342.5,646.62 1346.5,646.11 1350.5,645.59 1354.5,645.05 1358.5,644.50 1362.5,643.93 1366.5,643.36 1370.5,642.78 1374.5,642.19 1378.5,641.59 1382.5,640.99 1386.5,640.38 1390.5,639.77 1394.5,639.16 1398.5,638.56 1402.5,637.95 1406.5,637.35 1410.5,636.75 1414.5,636.15 1418.5,635.57 1422.5,634.99 1426.5,634.43 1430.5,633.87 1434.5,633.33 1438.5,632.80 1442.5,632.28 1446.5,631.79 1450.5,631.31 1454.5,630.85 1458.5,630.41 1462.5,630.00 1466.5,629.60 1470.5,629.24 1474.5,628.90 1478.5,628.58 1482.5,628.30 1486.5,628.05 1490.5,627.82 1494.5,627.64 1498.5,627.48 1502.5,627.36 1506.5,627.26 1510.5,627.21 1514.5,627.18 1518.5,627.19 1522.5,627.22 1526.5,627.29 1530.5,627.40 1534.5,627.53 1538.5,627.69 1542.5,627.89 1546.5,628.12 1550.5,628.38 1554.5,628.67 1558.5,628.99 1562.5,629.34 1566.5,629.72 1570.5,630.13 1574.5,630.57 1578.5,631.05 1582.5,631.55 1586.5,632.08 1590.5,632.64 1594.5,633.23 1598.5,633.86 1602.5,634.51 1606.5,635.19 1610.5,635.90 1614.5,636.63 1618.5,637.40 1622.5,638.20 1626.5,639.02 1630.5,639.87 1634.5,640.76 1638.5,641.67 1642.5,642.60 1646.5,643.57 1650.5,644.56 1654.5,645.58 1658.5,646.63 1662.5,647.70 1666.5,648.79 1670.5,649.91 1674.5,651.04 1678.5,652.19 1682.5,653.36 1686.5,654.54 1690.5,655.74 1694.5,656.94 1698.5,658.16 1702.5,659.38 1706.5,660.61 1710.5,661.85 1714.5,663.09 1718.5,664.33 1722.5,665.57 1726.5,666.81 1730.5,668.04 1734.5,669.27 1738.5,670.50 1742.5,671.72 1746.5,672.92 1750.5,674.12 1754.5,675.30 1758.5,676.47 1762.5,677.62 1766.5,678.76 1770.5,679.87 1774.5,680.98 1778.5,682.07 1782.5,683.14 1786.5,684.19 1790.5,685.24 1794.5,686.27 1798.5,687.28 1802.5,688.28 1806.5,689.27 1810.5,690.24 1814.5,691.20 1818.5,692.15 1822.5,693.08 1826.5,694.01 1830.5,694.92 1834.5,695.82 1838.5,696.71 1842.5,697.59 1846.5,698.46 1850.5,699.31 1854.5,700.16 1858.5,701.00 1862.5,701.83 1866.5,702.65 1870.5,703.46 1874.5,704.26 1878.5,705.06 1882.5,705.85 1886.5,706.63 1890.5,707.40 1894.5,708.17 1898.5,708.93 1902.5,709.68 1906.5,710.43 1910.5,711.17 1914.5,711.90 1918.5,712.64 1922.5,713.36 1926.5,714.08 1930.5,714.80 1934.5,715.52 1938.5,716.23 1942.5,716.94 1946.5,717.64 1950.5,718.34 1954.5,719.04 1958.5,719.74 1962.5,720.44 1966.5,721.13 1970.5,721.82 1974.5,722.52 1978.5,723.21 1982.5,723.90 1986.5,724.59 1990.5,725.29 1994.5,725.98 1998.5,726.68 2002.5,727.37 2006.5,728.07 2010.5,728.77 2014.5,729.47 2018.5,730.18 2022.5,730.88 2026.5,731.59 2030.5,732.31 2034.5,733.02 2038.5,733.75 2042.5,734.47 2046.5,735.20 2050.5,735.93 2054.5,736.66 2058.5,737.39 2062.5,738.13 2066.5,738.86 2070.5,739.60 2074.5,740.34 2078.5,741.08 2082.5,741.82 2086.5,742.56 2090.5,743.30 2094.5,744.04 2098.5,744.77 2102.5,745.51 2106.5,746.24 2110.5,746.98 2114.5,747.71 2118.5,748.44 2122.5,749.16 2126.5,749.88 2130.5,750.60 2134.5,751.32 2138.5,752.03 2142.5,752.74 2146.5,753.44 2150.5,754.14 2154.5,754.84 2158.5,755.52 2162.5,756.21 2166.5,756.88 2170.5,757.55 2174.5,758.22 2178.5,758.88 2182.5,759.53 2186.5,760.17 2190.5,760.81 2194.5,761.43 2198.5,762.05 2202.5,762.66 2206.5,763.27 2210.5,763.86 2214.5,764.44 2218.5,765.02 2222.5,765.58 2226.5,766.13 2230.5,766.68 2234.5,767.21 2238.5,767.73 2242.5,768.24 2246.5,768.74 2250.5,769.23 2254.5,769.70 2258.5,770.16 2262.5,770.61 2266.5,771.04 2270.5,771.47 2274.5,771.88 2278.5,772.27 2282.5,772.65 2286.5,773.01 2290.5,773.37 2294.5,773.70 2298.5,774.02 2302.5,774.32 2306.5,774.61 2309.5,774.82" fill="none" stroke="#ffffff" stroke-width="4.2" transform="translate(0,0.6)"/>
<polyline points="138.5,781.50 142.5,781.21 146.5,780.92 150.5,780.64 154.5,780.35 158.5,780.07 162.5,779.79 166.5,779.51 170.5,779.23 174.5,778.95 178.5,778.67 182.5,778.39 186.5,778.12 190.5,777.84 194.5,777.57 198.5,777.30 202.5,777.03 206.5,776.77 210.5,776.50 214.5,776.24 218.5,775.98 222.5,775.72 226.5,775.46 230.5,775.21 234.5,774.96 238.5,774.71 242.5,774.46 246.5,774.21 250.5,773.97 254.5,773.73 258.5,773.49 262.5,773.26 266.5,773.03 270.5,772.80 274.5,772.57 278.5,772.35 282.5,772.12 286.5,771.90 290.5,771.69 294.5,771.47 298.5,771.26 302.5,771.04 306.5,770.83 310.5,770.62 314.5,770.42 318.5,770.21 322.5,770.00 326.5,769.80 330.5,769.59 334.5,769.39 338.5,769.18 342.5,768.98 346.5,768.78 350.5,768.57 354.5,768.37 358.5,768.17 362.5,767.96 366.5,767.76 370.5,767.55 374.5,767.34 378.5,767.14 382.5,766.93 386.5,766.72 390.5,766.51 394.5,766.30 398.5,766.08 402.5,765.87 406.5,765.65 410.5,765.43 414.5,765.20 418.5,764.97 422.5,764.74 426.5,764.51 430.5,764.27 434.5,764.02 438.5,763.77 442.5,763.51 446.5,763.24 450.5,762.97 454.5,762.69 458.5,762.40 462.5,762.11 466.5,761.80 470.5,761.49 474.5,761.16 478.5,760.83 482.5,760.48 486.5,760.13 490.5,759.76 494.5,759.38 498.5,758.99 502.5,758.59 506.5,758.17 510.5,757.74 514.5,757.30 518.5,756.84 522.5,756.37 526.5,755.88 530.5,755.38 534.5,754.86 538.5,754.32 542.5,753.77 546.5,753.21 550.5,752.63 554.5,752.04 558.5,751.43 562.5,750.82 566.5,750.19 570.5,749.55 574.5,748.90 578.5,748.24 582.5,747.57 586.5,746.89 590.5,746.20 594.5,745.51 598.5,744.81 602.5,744.10 606.5,743.38 610.5,742.66 614.5,741.93 618.5,741.20 622.5,740.46 626.5,739.72 630.5,738.98 634.5,738.23 638.5,737.48 642.5,736.73 646.5,735.98 650.5,735.23 654.5,734.48 658.5,733.72 662.5,732.97 666.5,732.22 670.5,731.48 674.5,730.73 678.5,729.98 682.5,729.24 686.5,728.50 690.5,727.76 694.5,727.02 698.5,726.28 702.5,725.54 706.5,724.81 710.5,724.08 714.5,723.35 718.5,722.62 722.5,721.89 726.5,721.17 730.5,720.44 734.5,719.72 738.5,719.00 742.5,718.29 746.5,717.57 750.5,716.86 754.5,716.15 758.5,715.44 762.5,714.73 766.5,714.03 770.5,713.33 774.5,712.63 778.5,711.93 782.5,711.24 786.5,710.54 790.5,709.85 794.5,709.17 798.5,708.48 802.5,707.80 806.5,707.12 810.5,706.44 814.5,705.77 818.5,705.09 822.5,704.42 826.5,703.76 830.5,703.09 834.5,702.43 838.5,701.77 842.5,701.12 846.5,700.46 850.5,699.81 854.5,699.17 858.5,698.52 862.5,697.88 866.5,697.24 870.5,696.61 874.5,695.97 878.5,695.35 882.5,694.72 886.5,694.10 890.5,693.48 894.5,692.86 898.5,692.25 902.5,691.64 906.5,691.03 910.5,690.43 914.5,689.83 918.5,689.23 922.5,688.64 926.5,688.05 930.5,687.47 934.5,686.88 938.5,686.30 942.5,685.73 946.5,685.16 950.5,684.59 954.5,684.03 958.5,683.47 962.5,682.91 966.5,682.36 970.5,681.81 974.5,681.26 978.5,680.72 982.5,680.19 986.5,679.65 990.5,679.12 994.5,678.60 998.5,678.08 1002.5,677.56 1006.5,677.05 1010.5,676.54 1014.5,676.03 1018.5,675.53 1022.5,675.04 1026.5,674.55 1030.5,674.06 1034.5,673.58 1038.5,673.10 1042.5,672.62 1046.5,672.15 1050.5,671.69 1054.5,671.23 1058.5,670.77 1062.5,670.32 1066.5,669.87 1070.5,669.43 1074.5,668.99 1078.5,668.56 1082.5,668.13 1086.5,667.71 1090.5,667.29 1094.5,666.88 1098.5,666.47 1102.5,666.06 1106.5,665.66 1110.5,665.27 1114.5,664.88 1118.5,664.50 1122.5,664.12 1126.5,663.74 1130.5,663.37 1134.5,663.01 1138.5,662.65 1142.5,662.30 1146.5,661.95 1150.5,661.61 1154.5,661.27 1158.5,660.94 1162.5,660.61 1166.5,660.29 1170.5,659.97 1174.5,659.66 1178.5,659.36 1182.5,659.06 1186.5,658.77 1190.5,658.48 1194.5,658.19 1198.5,657.92 1202.5,657.65 1206.5,657.38 1210.5,657.12 1214.5,656.86 1218.5,656.61 1222.5,656.35 1226.5,656.10 1230.5,655.86 1234.5,655.61 1238.5,655.36 1242.5,655.11 1246.5,654.86 1250.5,654.61 1254.5,654.35 1258.5,654.09 1262.5,653.83 1266.5,653.56 1270.5,653.29 1274.5,653.01 1278.5,652.72 1282.5,652.42 1286.5,652.12 1290.5,651.81 1294.5,651.49 1298.5,651.15 1302.5,650.81 1306.5,650.46 1310.5,650.09 1314.5,649.71 1318.5,649.31 1322.5,648.90 1326.5,648.48 1330.5,648.04 1334.5,647.58 1338.5,647.11 1342.5,646.62 1346.5,646.11 1350.5,645.59 1354.5,645.05 1358.5,644.50 1362.5,643.93 1366.5,643.36 1370.5,642.78 1374.5,642.19 1378.5,641.59 1382.5,640.99 1386.5,640.38 1390.5,639.77 1394.5,639.16 1398.5,638.56 1402.5,637.95 1406.5,637.35 1410.5,636.75 1414.5,636.15 1418.5,635.57 1422.5,634.99 1426.5,634.43 1430.5,633.87 1434.5,633.33 1438.5,632.80 1442.5,632.28 1446.5,631.79 1450.5,631.31 1454.5,630.85 1458.5,630.41 1462.5,630.00 1466.5,629.60 1470.5,629.24 1474.5,628.90 1478.5,628.58 1482.5,628.30 1486.5,628.05 1490.5,627.82 1494.5,627.64 1498.5,627.48 1502.5,627.36 1506.5,627.26 1510.5,627.21 1514.5,627.18 1518.5,627.19 1522.5,627.22 1526.5,627.29 1530.5,627.40 1534.5,627.53 1538.5,627.69 1542.5,627.89 1546.5,628.12 1550.5,628.38 1554.5,628.67 1558.5,628.99 1562.5,629.34 1566.5,629.72 1570.5,630.13 1574.5,630.57 1578.5,631.05 1582.5,631.55 1586.5,632.08 1590.5,632.64 1594.5,633.23 1598.5,633.86 1602.5,634.51 1606.5,635.19 1610.5,635.90 1614.5,636.63 1618.5,637.40 1622.5,638.20 1626.5,639.02 1630.5,639.87 1634.5,640.76 1638.5,641.67 1642.5,642.60 1646.5,643.57 1650.5,644.56 1654.5,645.58 1658.5,646.63 1662.5,647.70 1666.5,648.79 1670.5,649.91 1674.5,651.04 1678.5,652.19 1682.5,653.36 1686.5,654.54 1690.5,655.74 1694.5,656.94 1698.5,658.16 1702.5,659.38 1706.5,660.61 1710.5,661.85 1714.5,663.09 1718.5,664.33 1722.5,665.57 1726.5,666.81 1730.5,668.04 1734.5,669.27 1738.5,670.50 1742.5,671.72 1746.5,672.92 1750.5,674.12 1754.5,675.30 1758.5,676.47 1762.5,677.62 1766.5,678.76 1770.5,679.87 1774.5,680.98 1778.5,682.07 1782.5,683.14 1786.5,684.19 1790.5,685.24 1794.5,686.27 1798.5,687.28 1802.5,688.28 1806.5,689.27 1810.5,690.24 1814.5,691.20 1818.5,692.15 1822.5,693.08 1826.5,694.01 1830.5,694.92 1834.5,695.82 1838.5,696.71 1842.5,697.59 1846.5,698.46 1850.5,699.31 1854.5,700.16 1858.5,701.00 1862.5,701.83 1866.5,702.65 1870.5,703.46 1874.5,704.26 1878.5,705.06 1882.5,705.85 1886.5,706.63 1890.5,707.40 1894.5,708.17 1898.5,708.93 1902.5,709.68 1906.5,710.43 1910.5,711.17 1914.5,711.90 1918.5,712.64 1922.5,713.36 1926.5,714.08 1930.5,714.80 1934.5,715.52 1938.5,716.23 1942.5,716.94 1946.5,717.64 1950.5,718.34 1954.5,719.04 1958.5,719.74 1962.5,720.44 1966.5,721.13 1970.5,721.82 1974.5,722.52 1978.5,723.21 1982.5,723.90 1986.5,724.59 1990.5,725.29 1994.5,725.98 1998.5,726.68 2002.5,727.37 2006.5,728.07 2010.5,728.77 2014.5,729.47 2018.5,730.18 2022.5,730.88 2026.5,731.59 2030.5,732.31 2034.5,733.02 2038.5,733.75 2042.5,734.47 2046.5,735.20 2050.5,735.93 2054.5,736.66 2058.5,737.39 2062.5,738.13 2066.5,738.86 2070.5,739.60 2074.5,740.34 2078.5,741.08 2082.5,741.82 2086.5,742.56 2090.5,743.30 2094.5,744.04 2098.5,744.77 2102.5,745.51 2106.5,746.24 2110.5,746.98 2114.5,747.71 2118.5,748.44 2122.5,749.16 2126.5,749.88 2130.5,750.60 2134.5,751.32 2138.5,752.03 2142.5,752.74 2146.5,753.44 2150.5,754.14 2154.5,754.84 2158.5,755.52 2162.5,756.21 2166.5,756.88 2170.5,757.55 2174.5,758.22 2178.5,758.88 2182.5,759.53 2186.5,760.17 2190.5,760.81 2194.5,761.43 2198.5,762.05 2202.5,762.66 2206.5,763.27 2210.5,763.86 2214.5,764.44 2218.5,765.02 2222.5,765.58 2226.5,766.13 2230.5,766.68 2234.5,767.21 2238.5,767.73 2242.5,768.24 2246.5,768.74 2250.5,769.23 2254.5,769.70 2258.5,770.16 2262.5,770.61 2266.5,771.04 2270.5,771.47 2274.5,771.88 2278.5,772.27 2282.5,772.65 2286.5,773.01 2290.5,773.37 2294.5,773.70 2298.5,774.02 2302.5,774.32 2306.5,774.61 2309.5,774.82" fill="none" stroke="#660099" stroke-width="1.2"/>
</g>
<rect x="138.5" y="618.5" width="2171.0" height="165.0" fill="none" stroke="#000" stroke-width="3"/>
<text transform="translate(111.0,800.3) scale(0.91,1)" text-anchor="end" class="t">0</text>
<text transform="translate(110.0,649.1) scale(0.91,1)" text-anchor="end" class="t">2</text>
<text transform="translate(64.1,705.5) rotate(-90)" text-anchor="middle" class="l">Density</text>
<text transform="translate(138.5,845.0) scale(0.91,1)" text-anchor="middle" class="t">0.0</text>
<text transform="translate(572.7,845.0) scale(0.91,1)" text-anchor="middle" class="t">0.2</text>
<text transform="translate(1006.9,845.0) scale(0.91,1)" text-anchor="middle" class="t">0.4</text>
<text transform="translate(1441.1,845.0) scale(0.91,1)" text-anchor="middle" class="t">0.6</text>
<text transform="translate(1875.3,845.0) scale(0.91,1)" text-anchor="middle" class="t">0.8</text>
<polygon points="2289.10,814.40 2295.30,814.40 2295.30,845.00 2292.20,845.00 2292.20,817.40 2287.20,817.40" fill="#000"/>
<text transform="translate(2303.1,845.0) scale(0.91,1)" text-anchor="start" class="t">.0</text>
</g>
<g>
<clipPath id="c3"><rect x="138.5" y="910.5" width="2171.0" height="166.0"/></clipPath>
<g clip-path="url(#c3)">
<polygon points="138.5,1076.5 138.5,1073.73 142.5,1073.66 146.5,1073.59 150.5,1073.53 154.5,1073.48 158.5,1073.43 162.5,1073.38 166.5,1073.34 170.5,1073.30 174.5,1073.27 178.5,1073.23 182.5,1073.20 186.5,1073.17 190.5,1073.13 194.5,1073.10 198.5,1073.07 202.5,1073.03 206.5,1072.99 210.5,1072.95 214.5,1072.91 218.5,1072.86 222.5,1072.81 226.5,1072.76 230.5,1072.70 234.5,1072.63 238.5,1072.56 242.5,1072.47 246.5,1072.39 250.5,1072.29 254.5,1072.18 258.5,1072.07 262.5,1071.94 266.5,1071.81 270.5,1071.66 274.5,1071.50 278.5,1071.33 282.5,1071.15 286.5,1070.95 290.5,1070.74 294.5,1070.52 298.5,1070.28 302.5,1070.03 306.5,1069.76 310.5,1069.47 314.5,1069.17 318.5,1068.86 322.5,1068.54 326.5,1068.20 330.5,1067.85 334.5,1067.49 338.5,1067.11 342.5,1066.72 346.5,1066.32 350.5,1065.91 354.5,1065.49 358.5,1065.06 362.5,1064.62 366.5,1064.16 370.5,1063.70 374.5,1063.23 378.5,1062.75 382.5,1062.26 386.5,1061.77 390.5,1061.26 394.5,1060.75 398.5,1060.23 402.5,1059.70 406.5,1059.17 410.5,1058.63 414.5,1058.08 418.5,1057.53 422.5,1056.97 426.5,1056.41 430.5,1055.84 434.5,1055.27 438.5,1054.69 442.5,1054.11 446.5,1053.53 450.5,1052.94 454.5,1052.35 458.5,1051.76 462.5,1051.17 466.5,1050.57 470.5,1049.97 474.5,1049.37 478.5,1048.77 482.5,1048.17 486.5,1047.57 490.5,1046.97 494.5,1046.37 498.5,1045.77 502.5,1045.17 506.5,1044.57 510.5,1043.97 514.5,1043.37 518.5,1042.77 522.5,1042.18 526.5,1041.59 530.5,1041.00 534.5,1040.41 538.5,1039.83 542.5,1039.25 546.5,1038.67 550.5,1038.09 554.5,1037.52 558.5,1036.95 562.5,1036.39 566.5,1035.83 570.5,1035.28 574.5,1034.73 578.5,1034.18 582.5,1033.64 586.5,1033.11 590.5,1032.58 594.5,1032.06 598.5,1031.55 602.5,1031.04 606.5,1030.53 610.5,1030.04 614.5,1029.55 618.5,1029.07 622.5,1028.60 626.5,1028.13 630.5,1027.68 634.5,1027.23 638.5,1026.79 642.5,1026.36 646.5,1025.93 650.5,1025.52 654.5,1025.11 658.5,1024.71 662.5,1024.31 666.5,1023.92 670.5,1023.53 674.5,1023.14 678.5,1022.75 682.5,1022.37 686.5,1021.98 690.5,1021.59 694.5,1021.20 698.5,1020.81 702.5,1020.41 706.5,1020.01 710.5,1019.60 714.5,1019.19 718.5,1018.77 722.5,1018.34 726.5,1017.90 730.5,1017.45 734.5,1016.99 738.5,1016.52 742.5,1016.03 746.5,1015.53 750.5,1015.02 754.5,1014.49 758.5,1013.95 762.5,1013.39 766.5,1012.82 770.5,1012.24 774.5,1011.64 778.5,1011.03 782.5,1010.41 786.5,1009.77 790.5,1009.12 794.5,1008.47 798.5,1007.80 802.5,1007.12 806.5,1006.43 810.5,1005.72 814.5,1005.02 818.5,1004.30 822.5,1003.57 826.5,1002.83 830.5,1002.09 834.5,1001.34 838.5,1000.58 842.5,999.81 846.5,999.04 850.5,998.26 854.5,997.48 858.5,996.69 862.5,995.89 866.5,995.10 870.5,994.29 874.5,993.49 878.5,992.68 882.5,991.86 886.5,991.05 890.5,990.23 894.5,989.41 898.5,988.59 902.5,987.76 906.5,986.94 910.5,986.12 914.5,985.29 918.5,984.47 922.5,983.65 926.5,982.82 930.5,982.00 934.5,981.19 938.5,980.37 942.5,979.56 946.5,978.75 950.5,977.94 954.5,977.14 958.5,976.34 962.5,975.54 966.5,974.75 970.5,973.97 974.5,973.19 978.5,972.42 982.5,971.65 986.5,970.89 990.5,970.14 994.5,969.39 998.5,968.66 1002.5,967.93 1006.5,967.21 1010.5,966.50 1014.5,965.80 1018.5,965.11 1022.5,964.43 1026.5,963.76 1030.5,963.10 1034.5,962.45 1038.5,961.81 1042.5,961.18 1046.5,960.56 1050.5,959.95 1054.5,959.35 1058.5,958.75 1062.5,958.15 1066.5,957.56 1070.5,956.98 1074.5,956.40 1078.5,955.82 1082.5,955.25 1086.5,954.68 1090.5,954.11 1094.5,953.56 1098.5,953.01 1102.5,952.47 1106.5,951.93 1110.5,951.41 1114.5,950.89 1118.5,950.39 1122.5,949.90 1126.5,949.41 1130.5,948.95 1134.5,948.49 1138.5,948.05 1142.5,947.62 1146.5,947.21 1150.5,946.81 1154.5,946.42 1158.5,946.04 1162.5,945.68 1166.5,945.33 1170.5,944.99 1174.5,944.65 1178.5,944.33 1182.5,944.01 1186.5,943.71 1190.5,943.41 1194.5,943.11 1198.5,942.82 1202.5,942.54 1206.5,942.26 1210.5,941.98 1214.5,941.71 1218.5,941.44 1222.5,941.17 1226.5,940.90 1230.5,940.63 1234.5,940.36 1238.5,940.09 1242.5,939.82 1246.5,939.54 1250.5,939.26 1254.5,938.98 1258.5,938.70 1262.5,938.41 1266.5,938.11 1270.5,937.81 1274.5,937.50 1278.5,937.19 1282.5,936.88 1286.5,936.56 1290.5,936.24 1294.5,935.92 1298.5,935.59 1302.5,935.26 1306.5,934.93 1310.5,934.60 1314.5,934.27 1318.5,933.93 1322.5,933.60 1326.5,933.26 1330.5,932.93 1334.5,932.59 1338.5,932.25 1342.5,931.92 1346.5,931.59 1350.5,931.25 1354.5,930.92 1358.5,930.59 1362.5,930.27 1366.5,929.94 1370.5,929.62 1374.5,929.31 1378.5,928.99 1382.5,928.68 1386.5,928.38 1390.5,928.08 1394.5,927.78 1398.5,927.49 1402.5,927.20 1406.5,926.92 1410.5,926.65 1414.5,926.38 1418.5,926.12 1422.5,925.87 1426.5,925.63 1430.5,925.39 1434.5,925.17 1438.5,924.95 1442.5,924.75 1446.5,924.56 1450.5,924.38 1454.5,924.21 1458.5,924.06 1462.5,923.92 1466.5,923.80 1470.5,923.69 1474.5,923.60 1478.5,923.53 1482.5,923.48 1486.5,923.44 1490.5,923.42 1494.5,923.43 1498.5,923.45 1502.5,923.49 1506.5,923.56 1510.5,923.65 1514.5,923.76 1518.5,923.90 1522.5,924.06 1526.5,924.24 1530.5,924.45 1534.5,924.69 1538.5,924.95 1542.5,925.24 1546.5,925.56 1550.5,925.90 1554.5,926.26 1558.5,926.65 1562.5,927.06 1566.5,927.50 1570.5,927.95 1574.5,928.43 1578.5,928.93 1582.5,929.46 1586.5,930.00 1590.5,930.57 1594.5,931.15 1598.5,931.75 1602.5,932.38 1606.5,933.02 1610.5,933.68 1614.5,934.36 1618.5,935.06 1622.5,935.78 1626.5,936.51 1630.5,937.26 1634.5,938.02 1638.5,938.80 1642.5,939.60 1646.5,940.41 1650.5,941.23 1654.5,942.07 1658.5,942.93 1662.5,943.79 1666.5,944.67 1670.5,945.56 1674.5,946.47 1678.5,947.38 1682.5,948.31 1686.5,949.24 1690.5,950.19 1694.5,951.15 1698.5,952.12 1702.5,953.09 1706.5,954.08 1710.5,955.07 1714.5,956.07 1718.5,957.08 1722.5,958.09 1726.5,959.12 1730.5,960.15 1734.5,961.18 1738.5,962.22 1742.5,963.26 1746.5,964.31 1750.5,965.37 1754.5,966.43 1758.5,967.49 1762.5,968.55 1766.5,969.62 1770.5,970.68 1774.5,971.75 1778.5,972.83 1782.5,973.90 1786.5,974.97 1790.5,976.04 1794.5,977.12 1798.5,978.19 1802.5,979.26 1806.5,980.33 1810.5,981.40 1814.5,982.46 1818.5,983.53 1822.5,984.59 1826.5,985.65 1830.5,986.70 1834.5,987.76 1838.5,988.81 1842.5,989.85 1846.5,990.89 1850.5,991.93 1854.5,992.97 1858.5,994.00 1862.5,995.03 1866.5,996.05 1870.5,997.06 1874.5,998.08 1878.5,999.08 1882.5,1000.08 1886.5,1001.08 1890.5,1002.07 1894.5,1003.05 1898.5,1004.02 1902.5,1004.99 1906.5,1005.96 1910.5,1006.91 1914.5,1007.86 1918.5,1008.80 1922.5,1009.73 1926.5,1010.66 1930.5,1011.57 1934.5,1012.48 1938.5,1013.38 1942.5,1014.27 1946.5,1015.15 1950.5,1016.03 1954.5,1016.89 1958.5,1017.74 1962.5,1018.58 1966.5,1019.42 1970.5,1020.24 1974.5,1021.05 1978.5,1021.85 1982.5,1022.64 1986.5,1023.42 1990.5,1024.19 1994.5,1024.94 1998.5,1025.69 2002.5,1026.42 2006.5,1027.14 2010.5,1027.85 2014.5,1028.54 2018.5,1029.22 2022.5,1029.89 2026.5,1030.54 2030.5,1031.18 2034.5,1031.81 2038.5,1032.43 2042.5,1033.03 2046.5,1033.61 2050.5,1034.19 2054.5,1034.76 2058.5,1035.31 2062.5,1035.86 2066.5,1036.39 2070.5,1036.92 2074.5,1037.43 2078.5,1037.94 2082.5,1038.44 2086.5,1038.94 2090.5,1039.42 2094.5,1039.90 2098.5,1040.38 2102.5,1040.85 2106.5,1041.31 2110.5,1041.77 2114.5,1042.23 2118.5,1042.68 2122.5,1043.13 2126.5,1043.58 2130.5,1044.02 2134.5,1044.47 2138.5,1044.91 2142.5,1045.36 2146.5,1045.80 2150.5,1046.24 2154.5,1046.69 2158.5,1047.14 2162.5,1047.59 2166.5,1048.04 2170.5,1048.50 2174.5,1048.95 2178.5,1049.42 2182.5,1049.89 2186.5,1050.36 2190.5,1050.84 2194.5,1051.32 2198.5,1051.81 2202.5,1052.31 2206.5,1052.81 2210.5,1053.31 2214.5,1053.82 2218.5,1054.33 2222.5,1054.84 2226.5,1055.35 2230.5,1055.86 2234.5,1056.38 2238.5,1056.89 2242.5,1057.41 2246.5,1057.92 2250.5,1058.43 2254.5,1058.94 2258.5,1059.45 2262.5,1059.95 2266.5,1060.45 2270.5,1060.95 2274.5,1061.44 2278.5,1061.92 2282.5,1062.40 2286.5,1062.87 2290.5,1063.33 2294.5,1063.79 2298.5,1064.24 2302.5,1064.68 2306.5,1065.11 2309.5,1065.43 2309.5,1076.5" fill="#990066"/>
<polyline points="138.5,1073.73 142.5,1073.66 146.5,1073.59 150.5,1073.53 154.5,1073.48 158.5,1073.43 162.5,1073.38 166.5,1073.34 170.5,1073.30 174.5,1073.27 178.5,1073.23 182.5,1073.20 186.5,1073.17 190.5,1073.13 194.5,1073.10 198.5,1073.07 202.5,1073.03 206.5,1072.99 210.5,1072.95 214.5,1072.91 218.5,1072.86 222.5,1072.81 226.5,1072.76 230.5,1072.70 234.5,1072.63 238.5,1072.56 242.5,1072.47 246.5,1072.39 250.5,1072.29 254.5,1072.18 258.5,1072.07 262.5,1071.94 266.5,1071.81 270.5,1071.66 274.5,1071.50 278.5,1071.33 282.5,1071.15 286.5,1070.95 290.5,1070.74 294.5,1070.52 298.5,1070.28 302.5,1070.03 306.5,1069.76 310.5,1069.47 314.5,1069.17 318.5,1068.86 322.5,1068.54 326.5,1068.20 330.5,1067.85 334.5,1067.49 338.5,1067.11 342.5,1066.72 346.5,1066.32 350.5,1065.91 354.5,1065.49 358.5,1065.06 362.5,1064.62 366.5,1064.16 370.5,1063.70 374.5,1063.23 378.5,1062.75 382.5,1062.26 386.5,1061.77 390.5,1061.26 394.5,1060.75 398.5,1060.23 402.5,1059.70 406.5,1059.17 410.5,1058.63 414.5,1058.08 418.5,1057.53 422.5,1056.97 426.5,1056.41 430.5,1055.84 434.5,1055.27 438.5,1054.69 442.5,1054.11 446.5,1053.53 450.5,1052.94 454.5,1052.35 458.5,1051.76 462.5,1051.17 466.5,1050.57 470.5,1049.97 474.5,1049.37 478.5,1048.77 482.5,1048.17 486.5,1047.57 490.5,1046.97 494.5,1046.37 498.5,1045.77 502.5,1045.17 506.5,1044.57 510.5,1043.97 514.5,1043.37 518.5,1042.77 522.5,1042.18 526.5,1041.59 530.5,1041.00 534.5,1040.41 538.5,1039.83 542.5,1039.25 546.5,1038.67 550.5,1038.09 554.5,1037.52 558.5,1036.95 562.5,1036.39 566.5,1035.83 570.5,1035.28 574.5,1034.73 578.5,1034.18 582.5,1033.64 586.5,1033.11 590.5,1032.58 594.5,1032.06 598.5,1031.55 602.5,1031.04 606.5,1030.53 610.5,1030.04 614.5,1029.55 618.5,1029.07 622.5,1028.60 626.5,1028.13 630.5,1027.68 634.5,1027.23 638.5,1026.79 642.5,1026.36 646.5,1025.93 650.5,1025.52 654.5,1025.11 658.5,1024.71 662.5,1024.31 666.5,1023.92 670.5,1023.53 674.5,1023.14 678.5,1022.75 682.5,1022.37 686.5,1021.98 690.5,1021.59 694.5,1021.20 698.5,1020.81 702.5,1020.41 706.5,1020.01 710.5,1019.60 714.5,1019.19 718.5,1018.77 722.5,1018.34 726.5,1017.90 730.5,1017.45 734.5,1016.99 738.5,1016.52 742.5,1016.03 746.5,1015.53 750.5,1015.02 754.5,1014.49 758.5,1013.95 762.5,1013.39 766.5,1012.82 770.5,1012.24 774.5,1011.64 778.5,1011.03 782.5,1010.41 786.5,1009.77 790.5,1009.12 794.5,1008.47 798.5,1007.80 802.5,1007.12 806.5,1006.43 810.5,1005.72 814.5,1005.02 818.5,1004.30 822.5,1003.57 826.5,1002.83 830.5,1002.09 834.5,1001.34 838.5,1000.58 842.5,999.81 846.5,999.04 850.5,998.26 854.5,997.48 858.5,996.69 862.5,995.89 866.5,995.10 870.5,994.29 874.5,993.49 878.5,992.68 882.5,991.86 886.5,991.05 890.5,990.23 894.5,989.41 898.5,988.59 902.5,987.76 906.5,986.94 910.5,986.12 914.5,985.29 918.5,984.47 922.5,983.65 926.5,982.82 930.5,982.00 934.5,981.19 938.5,980.37 942.5,979.56 946.5,978.75 950.5,977.94 954.5,977.14 958.5,976.34 962.5,975.54 966.5,974.75 970.5,973.97 974.5,973.19 978.5,972.42 982.5,971.65 986.5,970.89 990.5,970.14 994.5,969.39 998.5,968.66 1002.5,967.93 1006.5,967.21 1010.5,966.50 1014.5,965.80 1018.5,965.11 1022.5,964.43 1026.5,963.76 1030.5,963.10 1034.5,962.45 1038.5,961.81 1042.5,961.18 1046.5,960.56 1050.5,959.95 1054.5,959.35 1058.5,958.75 1062.5,958.15 1066.5,957.56 1070.5,956.98 1074.5,956.40 1078.5,955.82 1082.5,955.25 1086.5,954.68 1090.5,954.11 1094.5,953.56 1098.5,953.01 1102.5,952.47 1106.5,951.93 1110.5,951.41 1114.5,950.89 1118.5,950.39 1122.5,949.90 1126.5,949.41 1130.5,948.95 1134.5,948.49 1138.5,948.05 1142.5,947.62 1146.5,947.21 1150.5,946.81 1154.5,946.42 1158.5,946.04 1162.5,945.68 1166.5,945.33 1170.5,944.99 1174.5,944.65 1178.5,944.33 1182.5,944.01 1186.5,943.71 1190.5,943.41 1194.5,943.11 1198.5,942.82 1202.5,942.54 1206.5,942.26 1210.5,941.98 1214.5,941.71 1218.5,941.44 1222.5,941.17 1226.5,940.90 1230.5,940.63 1234.5,940.36 1238.5,940.09 1242.5,939.82 1246.5,939.54 1250.5,939.26 1254.5,938.98 1258.5,938.70 1262.5,938.41 1266.5,938.11 1270.5,937.81 1274.5,937.50 1278.5,937.19 1282.5,936.88 1286.5,936.56 1290.5,936.24 1294.5,935.92 1298.5,935.59 1302.5,935.26 1306.5,934.93 1310.5,934.60 1314.5,934.27 1318.5,933.93 1322.5,933.60 1326.5,933.26 1330.5,932.93 1334.5,932.59 1338.5,932.25 1342.5,931.92 1346.5,931.59 1350.5,931.25 1354.5,930.92 1358.5,930.59 1362.5,930.27 1366.5,929.94 1370.5,929.62 1374.5,929.31 1378.5,928.99 1382.5,928.68 1386.5,928.38 1390.5,928.08 1394.5,927.78 1398.5,927.49 1402.5,927.20 1406.5,926.92 1410.5,926.65 1414.5,926.38 1418.5,926.12 1422.5,925.87 1426.5,925.63 1430.5,925.39 1434.5,925.17 1438.5,924.95 1442.5,924.75 1446.5,924.56 1450.5,924.38 1454.5,924.21 1458.5,924.06 1462.5,923.92 1466.5,923.80 1470.5,923.69 1474.5,923.60 1478.5,923.53 1482.5,923.48 1486.5,923.44 1490.5,923.42 1494.5,923.43 1498.5,923.45 1502.5,923.49 1506.5,923.56 1510.5,923.65 1514.5,923.76 1518.5,923.90 1522.5,924.06 1526.5,924.24 1530.5,924.45 1534.5,924.69 1538.5,924.95 1542.5,925.24 1546.5,925.56 1550.5,925.90 1554.5,926.26 1558.5,926.65 1562.5,927.06 1566.5,927.50 1570.5,927.95 1574.5,928.43 1578.5,928.93 1582.5,929.46 1586.5,930.00 1590.5,930.57 1594.5,931.15 1598.5,931.75 1602.5,932.38 1606.5,933.02 1610.5,933.68 1614.5,934.36 1618.5,935.06 1622.5,935.78 1626.5,936.51 1630.5,937.26 1634.5,938.02 1638.5,938.80 1642.5,939.60 1646.5,940.41 1650.5,941.23 1654.5,942.07 1658.5,942.93 1662.5,943.79 1666.5,944.67 1670.5,945.56 1674.5,946.47 1678.5,947.38 1682.5,948.31 1686.5,949.24 1690.5,950.19 1694.5,951.15 1698.5,952.12 1702.5,953.09 1706.5,954.08 1710.5,955.07 1714.5,956.07 1718.5,957.08 1722.5,958.09 1726.5,959.12 1730.5,960.15 1734.5,961.18 1738.5,962.22 1742.5,963.26 1746.5,964.31 1750.5,965.37 1754.5,966.43 1758.5,967.49 1762.5,968.55 1766.5,969.62 1770.5,970.68 1774.5,971.75 1778.5,972.83 1782.5,973.90 1786.5,974.97 1790.5,976.04 1794.5,977.12 1798.5,978.19 1802.5,979.26 1806.5,980.33 1810.5,981.40 1814.5,982.46 1818.5,983.53 1822.5,984.59 1826.5,985.65 1830.5,986.70 1834.5,987.76 1838.5,988.81 1842.5,989.85 1846.5,990.89 1850.5,991.93 1854.5,992.97 1858.5,994.00 1862.5,995.03 1866.5,996.05 1870.5,997.06 1874.5,998.08 1878.5,999.08 1882.5,1000.08 1886.5,1001.08 1890.5,1002.07 1894.5,1003.05 1898.5,1004.02 1902.5,1004.99 1906.5,1005.96 1910.5,1006.91 1914.5,1007.86 1918.5,1008.80 1922.5,1009.73 1926.5,1010.66 1930.5,1011.57 1934.5,1012.48 1938.5,1013.38 1942.5,1014.27 1946.5,1015.15 1950.5,1016.03 1954.5,1016.89 1958.5,1017.74 1962.5,1018.58 1966.5,1019.42 1970.5,1020.24 1974.5,1021.05 1978.5,1021.85 1982.5,1022.64 1986.5,1023.42 1990.5,1024.19 1994.5,1024.94 1998.5,1025.69 2002.5,1026.42 2006.5,1027.14 2010.5,1027.85 2014.5,1028.54 2018.5,1029.22 2022.5,1029.89 2026.5,1030.54 2030.5,1031.18 2034.5,1031.81 2038.5,1032.43 2042.5,1033.03 2046.5,1033.61 2050.5,1034.19 2054.5,1034.76 2058.5,1035.31 2062.5,1035.86 2066.5,1036.39 2070.5,1036.92 2074.5,1037.43 2078.5,1037.94 2082.5,1038.44 2086.5,1038.94 2090.5,1039.42 2094.5,1039.90 2098.5,1040.38 2102.5,1040.85 2106.5,1041.31 2110.5,1041.77 2114.5,1042.23 2118.5,1042.68 2122.5,1043.13 2126.5,1043.58 2130.5,1044.02 2134.5,1044.47 2138.5,1044.91 2142.5,1045.36 2146.5,1045.80 2150.5,1046.24 2154.5,1046.69 2158.5,1047.14 2162.5,1047.59 2166.5,1048.04 2170.5,1048.50 2174.5,1048.95 2178.5,1049.42 2182.5,1049.89 2186.5,1050.36 2190.5,1050.84 2194.5,1051.32 2198.5,1051.81 2202.5,1052.31 2206.5,1052.81 2210.5,1053.31 2214.5,1053.82 2218.5,1054.33 2222.5,1054.84 2226.5,1055.35 2230.5,1055.86 2234.5,1056.38 2238.5,1056.89 2242.5,1057.41 2246.5,1057.92 2250.5,1058.43 2254.5,1058.94 2258.5,1059.45 2262.5,1059.95 2266.5,1060.45 2270.5,1060.95 2274.5,1061.44 2278.5,1061.92 2282.5,1062.40 2286.5,1062.87 2290.5,1063.33 2294.5,1063.79 2298.5,1064.24 2302.5,1064.68 2306.5,1065.11 2309.5,1065.43" fill="none" stroke="#ffffff" stroke-width="4.2" transform="translate(0,0.6)"/>
<polyline points="138.5,1073.73 142.5,1073.66 146.5,1073.59 150.5,1073.53 154.5,1073.48 158.5,1073.43 162.5,1073.38 166.5,1073.34 170.5,1073.30 174.5,1073.27 178.5,1073.23 182.5,1073.20 186.5,1073.17 190.5,1073.13 194.5,1073.10 198.5,1073.07 202.5,1073.03 206.5,1072.99 210.5,1072.95 214.5,1072.91 218.5,1072.86 222.5,1072.81 226.5,1072.76 230.5,1072.70 234.5,1072.63 238.5,1072.56 242.5,1072.47 246.5,1072.39 250.5,1072.29 254.5,1072.18 258.5,1072.07 262.5,1071.94 266.5,1071.81 270.5,1071.66 274.5,1071.50 278.5,1071.33 282.5,1071.15 286.5,1070.95 290.5,1070.74 294.5,1070.52 298.5,1070.28 302.5,1070.03 306.5,1069.76 310.5,1069.47 314.5,1069.17 318.5,1068.86 322.5,1068.54 326.5,1068.20 330.5,1067.85 334.5,1067.49 338.5,1067.11 342.5,1066.72 346.5,1066.32 350.5,1065.91 354.5,1065.49 358.5,1065.06 362.5,1064.62 366.5,1064.16 370.5,1063.70 374.5,1063.23 378.5,1062.75 382.5,1062.26 386.5,1061.77 390.5,1061.26 394.5,1060.75 398.5,1060.23 402.5,1059.70 406.5,1059.17 410.5,1058.63 414.5,1058.08 418.5,1057.53 422.5,1056.97 426.5,1056.41 430.5,1055.84 434.5,1055.27 438.5,1054.69 442.5,1054.11 446.5,1053.53 450.5,1052.94 454.5,1052.35 458.5,1051.76 462.5,1051.17 466.5,1050.57 470.5,1049.97 474.5,1049.37 478.5,1048.77 482.5,1048.17 486.5,1047.57 490.5,1046.97 494.5,1046.37 498.5,1045.77 502.5,1045.17 506.5,1044.57 510.5,1043.97 514.5,1043.37 518.5,1042.77 522.5,1042.18 526.5,1041.59 530.5,1041.00 534.5,1040.41 538.5,1039.83 542.5,1039.25 546.5,1038.67 550.5,1038.09 554.5,1037.52 558.5,1036.95 562.5,1036.39 566.5,1035.83 570.5,1035.28 574.5,1034.73 578.5,1034.18 582.5,1033.64 586.5,1033.11 590.5,1032.58 594.5,1032.06 598.5,1031.55 602.5,1031.04 606.5,1030.53 610.5,1030.04 614.5,1029.55 618.5,1029.07 622.5,1028.60 626.5,1028.13 630.5,1027.68 634.5,1027.23 638.5,1026.79 642.5,1026.36 646.5,1025.93 650.5,1025.52 654.5,1025.11 658.5,1024.71 662.5,1024.31 666.5,1023.92 670.5,1023.53 674.5,1023.14 678.5,1022.75 682.5,1022.37 686.5,1021.98 690.5,1021.59 694.5,1021.20 698.5,1020.81 702.5,1020.41 706.5,1020.01 710.5,1019.60 714.5,1019.19 718.5,1018.77 722.5,1018.34 726.5,1017.90 730.5,1017.45 734.5,1016.99 738.5,1016.52 742.5,1016.03 746.5,1015.53 750.5,1015.02 754.5,1014.49 758.5,1013.95 762.5,1013.39 766.5,1012.82 770.5,1012.24 774.5,1011.64 778.5,1011.03 782.5,1010.41 786.5,1009.77 790.5,1009.12 794.5,1008.47 798.5,1007.80 802.5,1007.12 806.5,1006.43 810.5,1005.72 814.5,1005.02 818.5,1004.30 822.5,1003.57 826.5,1002.83 830.5,1002.09 834.5,1001.34 838.5,1000.58 842.5,999.81 846.5,999.04 850.5,998.26 854.5,997.48 858.5,996.69 862.5,995.89 866.5,995.10 870.5,994.29 874.5,993.49 878.5,992.68 882.5,991.86 886.5,991.05 890.5,990.23 894.5,989.41 898.5,988.59 902.5,987.76 906.5,986.94 910.5,986.12 914.5,985.29 918.5,984.47 922.5,983.65 926.5,982.82 930.5,982.00 934.5,981.19 938.5,980.37 942.5,979.56 946.5,978.75 950.5,977.94 954.5,977.14 958.5,976.34 962.5,975.54 966.5,974.75 970.5,973.97 974.5,973.19 978.5,972.42 982.5,971.65 986.5,970.89 990.5,970.14 994.5,969.39 998.5,968.66 1002.5,967.93 1006.5,967.21 1010.5,966.50 1014.5,965.80 1018.5,965.11 1022.5,964.43 1026.5,963.76 1030.5,963.10 1034.5,962.45 1038.5,961.81 1042.5,961.18 1046.5,960.56 1050.5,959.95 1054.5,959.35 1058.5,958.75 1062.5,958.15 1066.5,957.56 1070.5,956.98 1074.5,956.40 1078.5,955.82 1082.5,955.25 1086.5,954.68 1090.5,954.11 1094.5,953.56 1098.5,953.01 1102.5,952.47 1106.5,951.93 1110.5,951.41 1114.5,950.89 1118.5,950.39 1122.5,949.90 1126.5,949.41 1130.5,948.95 1134.5,948.49 1138.5,948.05 1142.5,947.62 1146.5,947.21 1150.5,946.81 1154.5,946.42 1158.5,946.04 1162.5,945.68 1166.5,945.33 1170.5,944.99 1174.5,944.65 1178.5,944.33 1182.5,944.01 1186.5,943.71 1190.5,943.41 1194.5,943.11 1198.5,942.82 1202.5,942.54 1206.5,942.26 1210.5,941.98 1214.5,941.71 1218.5,941.44 1222.5,941.17 1226.5,940.90 1230.5,940.63 1234.5,940.36 1238.5,940.09 1242.5,939.82 1246.5,939.54 1250.5,939.26 1254.5,938.98 1258.5,938.70 1262.5,938.41 1266.5,938.11 1270.5,937.81 1274.5,937.50 1278.5,937.19 1282.5,936.88 1286.5,936.56 1290.5,936.24 1294.5,935.92 1298.5,935.59 1302.5,935.26 1306.5,934.93 1310.5,934.60 1314.5,934.27 1318.5,933.93 1322.5,933.60 1326.5,933.26 1330.5,932.93 1334.5,932.59 1338.5,932.25 1342.5,931.92 1346.5,931.59 1350.5,931.25 1354.5,930.92 1358.5,930.59 1362.5,930.27 1366.5,929.94 1370.5,929.62 1374.5,929.31 1378.5,928.99 1382.5,928.68 1386.5,928.38 1390.5,928.08 1394.5,927.78 1398.5,927.49 1402.5,927.20 1406.5,926.92 1410.5,926.65 1414.5,926.38 1418.5,926.12 1422.5,925.87 1426.5,925.63 1430.5,925.39 1434.5,925.17 1438.5,924.95 1442.5,924.75 1446.5,924.56 1450.5,924.38 1454.5,924.21 1458.5,924.06 1462.5,923.92 1466.5,923.80 1470.5,923.69 1474.5,923.60 1478.5,923.53 1482.5,923.48 1486.5,923.44 1490.5,923.42 1494.5,923.43 1498.5,923.45 1502.5,923.49 1506.5,923.56 1510.5,923.65 1514.5,923.76 1518.5,923.90 1522.5,924.06 1526.5,924.24 1530.5,924.45 1534.5,924.69 1538.5,924.95 1542.5,925.24 1546.5,925.56 1550.5,925.90 1554.5,926.26 1558.5,926.65 1562.5,927.06 1566.5,927.50 1570.5,927.95 1574.5,928.43 1578.5,928.93 1582.5,929.46 1586.5,930.00 1590.5,930.57 1594.5,931.15 1598.5,931.75 1602.5,932.38 1606.5,933.02 1610.5,933.68 1614.5,934.36 1618.5,935.06 1622.5,935.78 1626.5,936.51 1630.5,937.26 1634.5,938.02 1638.5,938.80 1642.5,939.60 1646.5,940.41 1650.5,941.23 1654.5,942.07 1658.5,942.93 1662.5,943.79 1666.5,944.67 1670.5,945.56 1674.5,946.47 1678.5,947.38 1682.5,948.31 1686.5,949.24 1690.5,950.19 1694.5,951.15 1698.5,952.12 1702.5,953.09 1706.5,954.08 1710.5,955.07 1714.5,956.07 1718.5,957.08 1722.5,958.09 1726.5,959.12 1730.5,960.15 1734.5,961.18 1738.5,962.22 1742.5,963.26 1746.5,964.31 1750.5,965.37 1754.5,966.43 1758.5,967.49 1762.5,968.55 1766.5,969.62 1770.5,970.68 1774.5,971.75 1778.5,972.83 1782.5,973.90 1786.5,974.97 1790.5,976.04 1794.5,977.12 1798.5,978.19 1802.5,979.26 1806.5,980.33 1810.5,981.40 1814.5,982.46 1818.5,983.53 1822.5,984.59 1826.5,985.65 1830.5,986.70 1834.5,987.76 1838.5,988.81 1842.5,989.85 1846.5,990.89 1850.5,991.93 1854.5,992.97 1858.5,994.00 1862.5,995.03 1866.5,996.05 1870.5,997.06 1874.5,998.08 1878.5,999.08 1882.5,1000.08 1886.5,1001.08 1890.5,1002.07 1894.5,1003.05 1898.5,1004.02 1902.5,1004.99 1906.5,1005.96 1910.5,1006.91 1914.5,1007.86 1918.5,1008.80 1922.5,1009.73 1926.5,1010.66 1930.5,1011.57 1934.5,1012.48 1938.5,1013.38 1942.5,1014.27 1946.5,1015.15 1950.5,1016.03 1954.5,1016.89 1958.5,1017.74 1962.5,1018.58 1966.5,1019.42 1970.5,1020.24 1974.5,1021.05 1978.5,1021.85 1982.5,1022.64 1986.5,1023.42 1990.5,1024.19 1994.5,1024.94 1998.5,1025.69 2002.5,1026.42 2006.5,1027.14 2010.5,1027.85 2014.5,1028.54 2018.5,1029.22 2022.5,1029.89 2026.5,1030.54 2030.5,1031.18 2034.5,1031.81 2038.5,1032.43 2042.5,1033.03 2046.5,1033.61 2050.5,1034.19 2054.5,1034.76 2058.5,1035.31 2062.5,1035.86 2066.5,1036.39 2070.5,1036.92 2074.5,1037.43 2078.5,1037.94 2082.5,1038.44 2086.5,1038.94 2090.5,1039.42 2094.5,1039.90 2098.5,1040.38 2102.5,1040.85 2106.5,1041.31 2110.5,1041.77 2114.5,1042.23 2118.5,1042.68 2122.5,1043.13 2126.5,1043.58 2130.5,1044.02 2134.5,1044.47 2138.5,1044.91 2142.5,1045.36 2146.5,1045.80 2150.5,1046.24 2154.5,1046.69 2158.5,1047.14 2162.5,1047.59 2166.5,1048.04 2170.5,1048.50 2174.5,1048.95 2178.5,1049.42 2182.5,1049.89 2186.5,1050.36 2190.5,1050.84 2194.5,1051.32 2198.5,1051.81 2202.5,1052.31 2206.5,1052.81 2210.5,1053.31 2214.5,1053.82 2218.5,1054.33 2222.5,1054.84 2226.5,1055.35 2230.5,1055.86 2234.5,1056.38 2238.5,1056.89 2242.5,1057.41 2246.5,1057.92 2250.5,1058.43 2254.5,1058.94 2258.5,1059.45 2262.5,1059.95 2266.5,1060.45 2270.5,1060.95 2274.5,1061.44 2278.5,1061.92 2282.5,1062.40 2286.5,1062.87 2290.5,1063.33 2294.5,1063.79 2298.5,1064.24 2302.5,1064.68 2306.5,1065.11 2309.5,1065.43" fill="none" stroke="#990066" stroke-width="1.2"/>
</g>
<rect x="138.5" y="910.5" width="2171.0" height="166.0" fill="none" stroke="#000" stroke-width="3"/>
<text transform="translate(111.0,1093.3) scale(0.91,1)" text-anchor="end" class="t">0</text>
<text transform="translate(110.0,941.2) scale(0.91,1)" text-anchor="end" class="t">2</text>
<text transform="translate(64.1,997.9) rotate(-90)" text-anchor="middle" class="l">Density</text>
<text transform="translate(138.5,1137.4) scale(0.91,1)" text-anchor="middle" class="t">0.0</text>
<text transform="translate(572.7,1137.4) scale(0.91,1)" text-anchor="middle" class="t">0.2</text>
<text transform="translate(1006.9,1137.4) scale(0.91,1)" text-anchor="middle" class="t">0.4</text>
<text transform="translate(1441.1,1137.4) scale(0.91,1)" text-anchor="middle" class="t">0.6</text>
<text transform="translate(1875.3,1137.4) scale(0.91,1)" text-anchor="middle" class="t">0.8</text>
<polygon points="2289.10,1106.85 2295.30,1106.85 2295.30,1137.45 2292.20,1137.45 2292.20,1109.85 2287.20,1109.85" fill="#000"/>
<text transform="translate(2303.1,1137.4) scale(0.91,1)" text-anchor="start" class="t">.0</text>
</g>
<g>
<clipPath id="c4"><rect x="138.5" y="1203.5" width="2171.0" height="165.0"/></clipPath>
<g clip-path="url(#c4)">
<polygon points="138.5,1368.5 138.5,1365.65 142.5,1365.58 146.5,1365.50 150.5,1365.41 154.5,1365.31 158.5,1365.20 162.5,1365.08 166.5,1364.96 170.5,1364.83 174.5,1364.69 178.5,1364.54 182.5,1364.38 186.5,1364.22 190.5,1364.05 194.5,1363.87 198.5,1363.68 202.5,1363.49 206.5,1363.28 210.5,1363.07 214.5,1362.86 218.5,1362.63 222.5,1362.40 226.5,1362.16 230.5,1361.92 234.5,1361.66 238.5,1361.40 242.5,1361.14 246.5,1360.87 250.5,1360.59 254.5,1360.30 258.5,1360.01 262.5,1359.71 266.5,1359.40 270.5,1359.09 274.5,1358.77 278.5,1358.45 282.5,1358.12 286.5,1357.78 290.5,1357.44 294.5,1357.09 298.5,1356.74 302.5,1356.38 306.5,1356.02 310.5,1355.64 314.5,1355.27 318.5,1354.89 322.5,1354.50 326.5,1354.11 330.5,1353.71 334.5,1353.31 338.5,1352.91 342.5,1352.49 346.5,1352.08 350.5,1351.66 354.5,1351.23 358.5,1350.80 362.5,1350.36 366.5,1349.93 370.5,1349.48 374.5,1349.03 378.5,1348.58 382.5,1348.12 386.5,1347.66 390.5,1347.20 394.5,1346.73 398.5,1346.26 402.5,1345.78 406.5,1345.30 410.5,1344.82 414.5,1344.33 418.5,1343.84 422.5,1343.35 426.5,1342.85 430.5,1342.35 434.5,1341.85 438.5,1341.34 442.5,1340.83 446.5,1340.32 450.5,1339.80 454.5,1339.29 458.5,1338.76 462.5,1338.24 466.5,1337.72 470.5,1337.19 474.5,1336.66 478.5,1336.12 482.5,1335.59 486.5,1335.05 490.5,1334.51 494.5,1333.97 498.5,1333.43 502.5,1332.88 506.5,1332.33 510.5,1331.78 514.5,1331.23 518.5,1330.68 522.5,1330.13 526.5,1329.57 530.5,1329.02 534.5,1328.46 538.5,1327.90 542.5,1327.34 546.5,1326.78 550.5,1326.22 554.5,1325.65 558.5,1325.09 562.5,1324.53 566.5,1323.96 570.5,1323.40 574.5,1322.83 578.5,1322.26 582.5,1321.70 586.5,1321.13 590.5,1320.56 594.5,1319.99 598.5,1319.43 602.5,1318.86 606.5,1318.29 610.5,1317.73 614.5,1317.16 618.5,1316.59 622.5,1316.03 626.5,1315.46 630.5,1314.90 634.5,1314.33 638.5,1313.77 642.5,1313.20 646.5,1312.64 650.5,1312.08 654.5,1311.52 658.5,1310.96 662.5,1310.40 666.5,1309.84 670.5,1309.28 674.5,1308.72 678.5,1308.17 682.5,1307.61 686.5,1307.06 690.5,1306.50 694.5,1305.95 698.5,1305.40 702.5,1304.85 706.5,1304.30 710.5,1303.75 714.5,1303.20 718.5,1302.65 722.5,1302.10 726.5,1301.56 730.5,1301.01 734.5,1300.47 738.5,1299.92 742.5,1299.38 746.5,1298.84 750.5,1298.30 754.5,1297.76 758.5,1297.22 762.5,1296.68 766.5,1296.15 770.5,1295.61 774.5,1295.08 778.5,1294.55 782.5,1294.02 786.5,1293.48 790.5,1292.96 794.5,1292.43 798.5,1291.90 802.5,1291.37 806.5,1290.85 810.5,1290.33 814.5,1289.81 818.5,1289.28 822.5,1288.77 826.5,1288.25 830.5,1287.73 834.5,1287.21 838.5,1286.70 842.5,1286.19 846.5,1285.68 850.5,1285.17 854.5,1284.66 858.5,1284.15 862.5,1283.64 866.5,1283.14 870.5,1282.64 874.5,1282.13 878.5,1281.63 882.5,1281.14 886.5,1280.64 890.5,1280.14 894.5,1279.65 898.5,1279.16 902.5,1278.66 906.5,1278.18 910.5,1277.69 914.5,1277.20 918.5,1276.72 922.5,1276.23 926.5,1275.75 930.5,1275.27 934.5,1274.79 938.5,1274.32 942.5,1273.84 946.5,1273.37 950.5,1272.90 954.5,1272.43 958.5,1271.96 962.5,1271.49 966.5,1271.03 970.5,1270.57 974.5,1270.11 978.5,1269.65 982.5,1269.19 986.5,1268.73 990.5,1268.28 994.5,1267.83 998.5,1267.38 1002.5,1266.93 1006.5,1266.48 1010.5,1266.04 1014.5,1265.60 1018.5,1265.16 1022.5,1264.72 1026.5,1264.28 1030.5,1263.85 1034.5,1263.42 1038.5,1262.99 1042.5,1262.56 1046.5,1262.13 1050.5,1261.71 1054.5,1261.29 1058.5,1260.87 1062.5,1260.45 1066.5,1260.03 1070.5,1259.62 1074.5,1259.21 1078.5,1258.80 1082.5,1258.39 1086.5,1257.99 1090.5,1257.58 1094.5,1257.18 1098.5,1256.78 1102.5,1256.39 1106.5,1255.99 1110.5,1255.60 1114.5,1255.21 1118.5,1254.83 1122.5,1254.44 1126.5,1254.06 1130.5,1253.68 1134.5,1253.30 1138.5,1252.93 1142.5,1252.55 1146.5,1252.18 1150.5,1251.81 1154.5,1251.45 1158.5,1251.08 1162.5,1250.72 1166.5,1250.36 1170.5,1250.01 1174.5,1249.66 1178.5,1249.30 1182.5,1248.96 1186.5,1248.61 1190.5,1248.27 1194.5,1247.92 1198.5,1247.59 1202.5,1247.25 1206.5,1246.92 1210.5,1246.58 1214.5,1246.25 1218.5,1245.93 1222.5,1245.60 1226.5,1245.28 1230.5,1244.96 1234.5,1244.64 1238.5,1244.33 1242.5,1244.01 1246.5,1243.70 1250.5,1243.39 1254.5,1243.08 1258.5,1242.78 1262.5,1242.47 1266.5,1242.17 1270.5,1241.87 1274.5,1241.57 1278.5,1241.28 1282.5,1240.98 1286.5,1240.69 1290.5,1240.40 1294.5,1240.11 1298.5,1239.83 1302.5,1239.54 1306.5,1239.26 1310.5,1238.97 1314.5,1238.69 1318.5,1238.42 1322.5,1238.14 1326.5,1237.86 1330.5,1237.59 1334.5,1237.32 1338.5,1237.05 1342.5,1236.78 1346.5,1236.51 1350.5,1236.24 1354.5,1235.98 1358.5,1235.72 1362.5,1235.46 1366.5,1235.20 1370.5,1234.95 1374.5,1234.70 1378.5,1234.46 1382.5,1234.22 1386.5,1233.99 1390.5,1233.76 1394.5,1233.54 1398.5,1233.32 1402.5,1233.11 1406.5,1232.91 1410.5,1232.71 1414.5,1232.52 1418.5,1232.34 1422.5,1232.16 1426.5,1232.00 1430.5,1231.84 1434.5,1231.69 1438.5,1231.55 1442.5,1231.42 1446.5,1231.30 1450.5,1231.19 1454.5,1231.09 1458.5,1231.00 1462.5,1230.92 1466.5,1230.86 1470.5,1230.80 1474.5,1230.76 1478.5,1230.73 1482.5,1230.71 1486.5,1230.71 1490.5,1230.72 1494.5,1230.74 1498.5,1230.78 1502.5,1230.83 1506.5,1230.89 1510.5,1230.97 1514.5,1231.06 1518.5,1231.16 1522.5,1231.27 1526.5,1231.39 1530.5,1231.53 1534.5,1231.68 1538.5,1231.84 1542.5,1232.00 1546.5,1232.18 1550.5,1232.37 1554.5,1232.57 1558.5,1232.79 1562.5,1233.00 1566.5,1233.23 1570.5,1233.47 1574.5,1233.72 1578.5,1233.98 1582.5,1234.24 1586.5,1234.51 1590.5,1234.79 1594.5,1235.08 1598.5,1235.38 1602.5,1235.68 1606.5,1235.99 1610.5,1236.31 1614.5,1236.63 1618.5,1236.96 1622.5,1237.30 1626.5,1237.64 1630.5,1237.99 1634.5,1238.34 1638.5,1238.70 1642.5,1239.07 1646.5,1239.43 1650.5,1239.81 1654.5,1240.18 1658.5,1240.56 1662.5,1240.95 1666.5,1241.34 1670.5,1241.74 1674.5,1242.14 1678.5,1242.55 1682.5,1242.96 1686.5,1243.38 1690.5,1243.81 1694.5,1244.24 1698.5,1244.68 1702.5,1245.13 1706.5,1245.58 1710.5,1246.05 1714.5,1246.52 1718.5,1247.00 1722.5,1247.49 1726.5,1247.98 1730.5,1248.49 1734.5,1249.01 1738.5,1249.53 1742.5,1250.07 1746.5,1250.61 1750.5,1251.17 1754.5,1251.74 1758.5,1252.32 1762.5,1252.91 1766.5,1253.51 1770.5,1254.12 1774.5,1254.74 1778.5,1255.38 1782.5,1256.02 1786.5,1256.68 1790.5,1257.35 1794.5,1258.03 1798.5,1258.72 1802.5,1259.42 1806.5,1260.13 1810.5,1260.85 1814.5,1261.58 1818.5,1262.33 1822.5,1263.08 1826.5,1263.85 1830.5,1264.63 1834.5,1265.41 1838.5,1266.21 1842.5,1267.02 1846.5,1267.84 1850.5,1268.67 1854.5,1269.51 1858.5,1270.36 1862.5,1271.22 1866.5,1272.09 1870.5,1272.97 1874.5,1273.86 1878.5,1274.76 1882.5,1275.67 1886.5,1276.60 1890.5,1277.53 1894.5,1278.47 1898.5,1279.42 1902.5,1280.38 1906.5,1281.35 1910.5,1282.34 1914.5,1283.33 1918.5,1284.33 1922.5,1285.34 1926.5,1286.36 1930.5,1287.39 1934.5,1288.42 1938.5,1289.47 1942.5,1290.52 1946.5,1291.58 1950.5,1292.64 1954.5,1293.71 1958.5,1294.78 1962.5,1295.85 1966.5,1296.93 1970.5,1298.01 1974.5,1299.09 1978.5,1300.17 1982.5,1301.25 1986.5,1302.33 1990.5,1303.41 1994.5,1304.49 1998.5,1305.57 2002.5,1306.64 2006.5,1307.71 2010.5,1308.77 2014.5,1309.83 2018.5,1310.88 2022.5,1311.93 2026.5,1312.97 2030.5,1314.00 2034.5,1315.02 2038.5,1316.04 2042.5,1317.04 2046.5,1318.04 2050.5,1319.03 2054.5,1320.01 2058.5,1320.98 2062.5,1321.94 2066.5,1322.89 2070.5,1323.84 2074.5,1324.77 2078.5,1325.70 2082.5,1326.61 2086.5,1327.52 2090.5,1328.41 2094.5,1329.30 2098.5,1330.17 2102.5,1331.04 2106.5,1331.89 2110.5,1332.74 2114.5,1333.57 2118.5,1334.40 2122.5,1335.21 2126.5,1336.01 2130.5,1336.80 2134.5,1337.58 2138.5,1338.35 2142.5,1339.11 2146.5,1339.86 2150.5,1340.60 2154.5,1341.32 2158.5,1342.04 2162.5,1342.74 2166.5,1343.43 2170.5,1344.11 2174.5,1344.77 2178.5,1345.43 2182.5,1346.07 2186.5,1346.70 2190.5,1347.32 2194.5,1347.92 2198.5,1348.51 2202.5,1349.09 2206.5,1349.66 2210.5,1350.21 2214.5,1350.76 2218.5,1351.28 2222.5,1351.80 2226.5,1352.30 2230.5,1352.79 2234.5,1353.27 2238.5,1353.73 2242.5,1354.18 2246.5,1354.61 2250.5,1355.03 2254.5,1355.44 2258.5,1355.83 2262.5,1356.21 2266.5,1356.57 2270.5,1356.92 2274.5,1357.26 2278.5,1357.58 2282.5,1357.89 2286.5,1358.18 2290.5,1358.45 2294.5,1358.71 2298.5,1358.96 2302.5,1359.19 2306.5,1359.41 2309.5,1359.56 2309.5,1368.5" fill="#cc0033"/>
<polyline points="138.5,1365.65 142.5,1365.58 146.5,1365.50 150.5,1365.41 154.5,1365.31 158.5,1365.20 162.5,1365.08 166.5,1364.96 170.5,1364.83 174.5,1364.69 178.5,1364.54 182.5,1364.38 186.5,1364.22 190.5,1364.05 194.5,1363.87 198.5,1363.68 202.5,1363.49 206.5,1363.28 210.5,1363.07 214.5,1362.86 218.5,1362.63 222.5,1362.40 226.5,1362.16 230.5,1361.92 234.5,1361.66 238.5,1361.40 242.5,1361.14 246.5,1360.87 250.5,1360.59 254.5,1360.30 258.5,1360.01 262.5,1359.71 266.5,1359.40 270.5,1359.09 274.5,1358.77 278.5,1358.45 282.5,1358.12 286.5,1357.78 290.5,1357.44 294.5,1357.09 298.5,1356.74 302.5,1356.38 306.5,1356.02 310.5,1355.64 314.5,1355.27 318.5,1354.89 322.5,1354.50 326.5,1354.11 330.5,1353.71 334.5,1353.31 338.5,1352.91 342.5,1352.49 346.5,1352.08 350.5,1351.66 354.5,1351.23 358.5,1350.80 362.5,1350.36 366.5,1349.93 370.5,1349.48 374.5,1349.03 378.5,1348.58 382.5,1348.12 386.5,1347.66 390.5,1347.20 394.5,1346.73 398.5,1346.26 402.5,1345.78 406.5,1345.30 410.5,1344.82 414.5,1344.33 418.5,1343.84 422.5,1343.35 426.5,1342.85 430.5,1342.35 434.5,1341.85 438.5,1341.34 442.5,1340.83 446.5,1340.32 450.5,1339.80 454.5,1339.29 458.5,1338.76 462.5,1338.24 466.5,1337.72 470.5,1337.19 474.5,1336.66 478.5,1336.12 482.5,1335.59 486.5,1335.05 490.5,1334.51 494.5,1333.97 498.5,1333.43 502.5,1332.88 506.5,1332.33 510.5,1331.78 514.5,1331.23 518.5,1330.68 522.5,1330.13 526.5,1329.57 530.5,1329.02 534.5,1328.46 538.5,1327.90 542.5,1327.34 546.5,1326.78 550.5,1326.22 554.5,1325.65 558.5,1325.09 562.5,1324.53 566.5,1323.96 570.5,1323.40 574.5,1322.83 578.5,1322.26 582.5,1321.70 586.5,1321.13 590.5,1320.56 594.5,1319.99 598.5,1319.43 602.5,1318.86 606.5,1318.29 610.5,1317.73 614.5,1317.16 618.5,1316.59 622.5,1316.03 626.5,1315.46 630.5,1314.90 634.5,1314.33 638.5,1313.77 642.5,1313.20 646.5,1312.64 650.5,1312.08 654.5,1311.52 658.5,1310.96 662.5,1310.40 666.5,1309.84 670.5,1309.28 674.5,1308.72 678.5,1308.17 682.5,1307.61 686.5,1307.06 690.5,1306.50 694.5,1305.95 698.5,1305.40 702.5,1304.85 706.5,1304.30 710.5,1303.75 714.5,1303.20 718.5,1302.65 722.5,1302.10 726.5,1301.56 730.5,1301.01 734.5,1300.47 738.5,1299.92 742.5,1299.38 746.5,1298.84 750.5,1298.30 754.5,1297.76 758.5,1297.22 762.5,1296.68 766.5,1296.15 770.5,1295.61 774.5,1295.08 778.5,1294.55 782.5,1294.02 786.5,1293.48 790.5,1292.96 794.5,1292.43 798.5,1291.90 802.5,1291.37 806.5,1290.85 810.5,1290.33 814.5,1289.81 818.5,1289.28 822.5,1288.77 826.5,1288.25 830.5,1287.73 834.5,1287.21 838.5,1286.70 842.5,1286.19 846.5,1285.68 850.5,1285.17 854.5,1284.66 858.5,1284.15 862.5,1283.64 866.5,1283.14 870.5,1282.64 874.5,1282.13 878.5,1281.63 882.5,1281.14 886.5,1280.64 890.5,1280.14 894.5,1279.65 898.5,1279.16 902.5,1278.66 906.5,1278.18 910.5,1277.69 914.5,1277.20 918.5,1276.72 922.5,1276.23 926.5,1275.75 930.5,1275.27 934.5,1274.79 938.5,1274.32 942.5,1273.84 946.5,1273.37 950.5,1272.90 954.5,1272.43 958.5,1271.96 962.5,1271.49 966.5,1271.03 970.5,1270.57 974.5,1270.11 978.5,1269.65 982.5,1269.19 986.5,1268.73 990.5,1268.28 994.5,1267.83 998.5,1267.38 1002.5,1266.93 1006.5,1266.48 1010.5,1266.04 1014.5,1265.60 1018.5,1265.16 1022.5,1264.72 1026.5,1264.28 1030.5,1263.85 1034.5,1263.42 1038.5,1262.99 1042.5,1262.56 1046.5,1262.13 1050.5,1261.71 1054.5,1261.29 1058.5,1260.87 1062.5,1260.45 1066.5,1260.03 1070.5,1259.62 1074.5,1259.21 1078.5,1258.80 1082.5,1258.39 1086.5,1257.99 1090.5,1257.58 1094.5,1257.18 1098.5,1256.78 1102.5,1256.39 1106.5,1255.99 1110.5,1255.60 1114.5,1255.21 1118.5,1254.83 1122.5,1254.44 1126.5,1254.06 1130.5,1253.68 1134.5,1253.30 1138.5,1252.93 1142.5,1252.55 1146.5,1252.18 1150.5,1251.81 1154.5,1251.45 1158.5,1251.08 1162.5,1250.72 1166.5,1250.36 1170.5,1250.01 1174.5,1249.66 1178.5,1249.30 1182.5,1248.96 1186.5,1248.61 1190.5,1248.27 1194.5,1247.92 1198.5,1247.59 1202.5,1247.25 1206.5,1246.92 1210.5,1246.58 1214.5,1246.25 1218.5,1245.93 1222.5,1245.60 1226.5,1245.28 1230.5,1244.96 1234.5,1244.64 1238.5,1244.33 1242.5,1244.01 1246.5,1243.70 1250.5,1243.39 1254.5,1243.08 1258.5,1242.78 1262.5,1242.47 1266.5,1242.17 1270.5,1241.87 1274.5,1241.57 1278.5,1241.28 1282.5,1240.98 1286.5,1240.69 1290.5,1240.40 1294.5,1240.11 1298.5,1239.83 1302.5,1239.54 1306.5,1239.26 1310.5,1238.97 1314.5,1238.69 1318.5,1238.42 1322.5,1238.14 1326.5,1237.86 1330.5,1237.59 1334.5,1237.32 1338.5,1237.05 1342.5,1236.78 1346.5,1236.51 1350.5,1236.24 1354.5,1235.98 1358.5,1235.72 1362.5,1235.46 1366.5,1235.20 1370.5,1234.95 1374.5,1234.70 1378.5,1234.46 1382.5,1234.22 1386.5,1233.99 1390.5,1233.76 1394.5,1233.54 1398.5,1233.32 1402.5,1233.11 1406.5,1232.91 1410.5,1232.71 1414.5,1232.52 1418.5,1232.34 1422.5,1232.16 1426.5,1232.00 1430.5,1231.84 1434.5,1231.69 1438.5,1231.55 1442.5,1231.42 1446.5,1231.30 1450.5,1231.19 1454.5,1231.09 1458.5,1231.00 1462.5,1230.92 1466.5,1230.86 1470.5,1230.80 1474.5,1230.76 1478.5,1230.73 1482.5,1230.71 1486.5,1230.71 1490.5,1230.72 1494.5,1230.74 1498.5,1230.78 1502.5,1230.83 1506.5,1230.89 1510.5,1230.97 1514.5,1231.06 1518.5,1231.16 1522.5,1231.27 1526.5,1231.39 1530.5,1231.53 1534.5,1231.68 1538.5,1231.84 1542.5,1232.00 1546.5,1232.18 1550.5,1232.37 1554.5,1232.57 1558.5,1232.79 1562.5,1233.00 1566.5,1233.23 1570.5,1233.47 1574.5,1233.72 1578.5,1233.98 1582.5,1234.24 1586.5,1234.51 1590.5,1234.79 1594.5,1235.08 1598.5,1235.38 1602.5,1235.68 1606.5,1235.99 1610.5,1236.31 1614.5,1236.63 1618.5,1236.96 1622.5,1237.30 1626.5,1237.64 1630.5,1237.99 1634.5,1238.34 1638.5,1238.70 1642.5,1239.07 1646.5,1239.43 1650.5,1239.81 1654.5,1240.18 1658.5,1240.56 1662.5,1240.95 1666.5,1241.34 1670.5,1241.74 1674.5,1242.14 1678.5,1242.55 1682.5,1242.96 1686.5,1243.38 1690.5,1243.81 1694.5,1244.24 1698.5,1244.68 1702.5,1245.13 1706.5,1245.58 1710.5,1246.05 1714.5,1246.52 1718.5,1247.00 1722.5,1247.49 1726.5,1247.98 1730.5,1248.49 1734.5,1249.01 1738.5,1249.53 1742.5,1250.07 1746.5,1250.61 1750.5,1251.17 1754.5,1251.74 1758.5,1252.32 1762.5,1252.91 1766.5,1253.51 1770.5,1254.12 1774.5,1254.74 1778.5,1255.38 1782.5,1256.02 1786.5,1256.68 1790.5,1257.35 1794.5,1258.03 1798.5,1258.72 1802.5,1259.42 1806.5,1260.13 1810.5,1260.85 1814.5,1261.58 1818.5,1262.33 1822.5,1263.08 1826.5,1263.85 1830.5,1264.63 1834.5,1265.41 1838.5,1266.21 1842.5,1267.02 1846.5,1267.84 1850.5,1268.67 1854.5,1269.51 1858.5,1270.36 1862.5,1271.22 1866.5,1272.09 1870.5,1272.97 1874.5,1273.86 1878.5,1274.76 1882.5,1275.67 1886.5,1276.60 1890.5,1277.53 1894.5,1278.47 1898.5,1279.42 1902.5,1280.38 1906.5,1281.35 1910.5,1282.34 1914.5,1283.33 1918.5,1284.33 1922.5,1285.34 1926.5,1286.36 1930.5,1287.39 1934.5,1288.42 1938.5,1289.47 1942.5,1290.52 1946.5,1291.58 1950.5,1292.64 1954.5,1293.71 1958.5,1294.78 1962.5,1295.85 1966.5,1296.93 1970.5,1298.01 1974.5,1299.09 1978.5,1300.17 1982.5,1301.25 1986.5,1302.33 1990.5,1303.41 1994.5,1304.49 1998.5,1305.57 2002.5,1306.64 2006.5,1307.71 2010.5,1308.77 2014.5,1309.83 2018.5,1310.88 2022.5,1311.93 2026.5,1312.97 2030.5,1314.00 2034.5,1315.02 2038.5,1316.04 2042.5,1317.04 2046.5,1318.04 2050.5,1319.03 2054.5,1320.01 2058.5,1320.98 2062.5,1321.94 2066.5,1322.89 2070.5,1323.84 2074.5,1324.77 2078.5,1325.70 2082.5,1326.61 2086.5,1327.52 2090.5,1328.41 2094.5,1329.30 2098.5,1330.17 2102.5,1331.04 2106.5,1331.89 2110.5,1332.74 2114.5,1333.57 2118.5,1334.40 2122.5,1335.21 2126.5,1336.01 2130.5,1336.80 2134.5,1337.58 2138.5,1338.35 2142.5,1339.11 2146.5,1339.86 2150.5,1340.60 2154.5,1341.32 2158.5,1342.04 2162.5,1342.74 2166.5,1343.43 2170.5,1344.11 2174.5,1344.77 2178.5,1345.43 2182.5,1346.07 2186.5,1346.70 2190.5,1347.32 2194.5,1347.92 2198.5,1348.51 2202.5,1349.09 2206.5,1349.66 2210.5,1350.21 2214.5,1350.76 2218.5,1351.28 2222.5,1351.80 2226.5,1352.30 2230.5,1352.79 2234.5,1353.27 2238.5,1353.73 2242.5,1354.18 2246.5,1354.61 2250.5,1355.03 2254.5,1355.44 2258.5,1355.83 2262.5,1356.21 2266.5,1356.57 2270.5,1356.92 2274.5,1357.26 2278.5,1357.58 2282.5,1357.89 2286.5,1358.18 2290.5,1358.45 2294.5,1358.71 2298.5,1358.96 2302.5,1359.19 2306.5,1359.41 2309.5,1359.56" fill="none" stroke="#ffffff" stroke-width="4.2" transform="translate(0,0.6)"/>
<polyline points="138.5,1365.65 142.5,1365.58 146.5,1365.50 150.5,1365.41 154.5,1365.31 158.5,1365.20 162.5,1365.08 166.5,1364.96 170.5,1364.83 174.5,1364.69 178.5,1364.54 182.5,1364.38 186.5,1364.22 190.5,1364.05 194.5,1363.87 198.5,1363.68 202.5,1363.49 206.5,1363.28 210.5,1363.07 214.5,1362.86 218.5,1362.63 222.5,1362.40 226.5,1362.16 230.5,1361.92 234.5,1361.66 238.5,1361.40 242.5,1361.14 246.5,1360.87 250.5,1360.59 254.5,1360.30 258.5,1360.01 262.5,1359.71 266.5,1359.40 270.5,1359.09 274.5,1358.77 278.5,1358.45 282.5,1358.12 286.5,1357.78 290.5,1357.44 294.5,1357.09 298.5,1356.74 302.5,1356.38 306.5,1356.02 310.5,1355.64 314.5,1355.27 318.5,1354.89 322.5,1354.50 326.5,1354.11 330.5,1353.71 334.5,1353.31 338.5,1352.91 342.5,1352.49 346.5,1352.08 350.5,1351.66 354.5,1351.23 358.5,1350.80 362.5,1350.36 366.5,1349.93 370.5,1349.48 374.5,1349.03 378.5,1348.58 382.5,1348.12 386.5,1347.66 390.5,1347.20 394.5,1346.73 398.5,1346.26 402.5,1345.78 406.5,1345.30 410.5,1344.82 414.5,1344.33 418.5,1343.84 422.5,1343.35 426.5,1342.85 430.5,1342.35 434.5,1341.85 438.5,1341.34 442.5,1340.83 446.5,1340.32 450.5,1339.80 454.5,1339.29 458.5,1338.76 462.5,1338.24 466.5,1337.72 470.5,1337.19 474.5,1336.66 478.5,1336.12 482.5,1335.59 486.5,1335.05 490.5,1334.51 494.5,1333.97 498.5,1333.43 502.5,1332.88 506.5,1332.33 510.5,1331.78 514.5,1331.23 518.5,1330.68 522.5,1330.13 526.5,1329.57 530.5,1329.02 534.5,1328.46 538.5,1327.90 542.5,1327.34 546.5,1326.78 550.5,1326.22 554.5,1325.65 558.5,1325.09 562.5,1324.53 566.5,1323.96 570.5,1323.40 574.5,1322.83 578.5,1322.26 582.5,1321.70 586.5,1321.13 590.5,1320.56 594.5,1319.99 598.5,1319.43 602.5,1318.86 606.5,1318.29 610.5,1317.73 614.5,1317.16 618.5,1316.59 622.5,1316.03 626.5,1315.46 630.5,1314.90 634.5,1314.33 638.5,1313.77 642.5,1313.20 646.5,1312.64 650.5,1312.08 654.5,1311.52 658.5,1310.96 662.5,1310.40 666.5,1309.84 670.5,1309.28 674.5,1308.72 678.5,1308.17 682.5,1307.61 686.5,1307.06 690.5,1306.50 694.5,1305.95 698.5,1305.40 702.5,1304.85 706.5,1304.30 710.5,1303.75 714.5,1303.20 718.5,1302.65 722.5,1302.10 726.5,1301.56 730.5,1301.01 734.5,1300.47 738.5,1299.92 742.5,1299.38 746.5,1298.84 750.5,1298.30 754.5,1297.76 758.5,1297.22 762.5,1296.68 766.5,1296.15 770.5,1295.61 774.5,1295.08 778.5,1294.55 782.5,1294.02 786.5,1293.48 790.5,1292.96 794.5,1292.43 798.5,1291.90 802.5,1291.37 806.5,1290.85 810.5,1290.33 814.5,1289.81 818.5,1289.28 822.5,1288.77 826.5,1288.25 830.5,1287.73 834.5,1287.21 838.5,1286.70 842.5,1286.19 846.5,1285.68 850.5,1285.17 854.5,1284.66 858.5,1284.15 862.5,1283.64 866.5,1283.14 870.5,1282.64 874.5,1282.13 878.5,1281.63 882.5,1281.14 886.5,1280.64 890.5,1280.14 894.5,1279.65 898.5,1279.16 902.5,1278.66 906.5,1278.18 910.5,1277.69 914.5,1277.20 918.5,1276.72 922.5,1276.23 926.5,1275.75 930.5,1275.27 934.5,1274.79 938.5,1274.32 942.5,1273.84 946.5,1273.37 950.5,1272.90 954.5,1272.43 958.5,1271.96 962.5,1271.49 966.5,1271.03 970.5,1270.57 974.5,1270.11 978.5,1269.65 982.5,1269.19 986.5,1268.73 990.5,1268.28 994.5,1267.83 998.5,1267.38 1002.5,1266.93 1006.5,1266.48 1010.5,1266.04 1014.5,1265.60 1018.5,1265.16 1022.5,1264.72 1026.5,1264.28 1030.5,1263.85 1034.5,1263.42 1038.5,1262.99 1042.5,1262.56 1046.5,1262.13 1050.5,1261.71 1054.5,1261.29 1058.5,1260.87 1062.5,1260.45 1066.5,1260.03 1070.5,1259.62 1074.5,1259.21 1078.5,1258.80 1082.5,1258.39 1086.5,1257.99 1090.5,1257.58 1094.5,1257.18 1098.5,1256.78 1102.5,1256.39 1106.5,1255.99 1110.5,1255.60 1114.5,1255.21 1118.5,1254.83 1122.5,1254.44 1126.5,1254.06 1130.5,1253.68 1134.5,1253.30 1138.5,1252.93 1142.5,1252.55 1146.5,1252.18 1150.5,1251.81 1154.5,1251.45 1158.5,1251.08 1162.5,1250.72 1166.5,1250.36 1170.5,1250.01 1174.5,1249.66 1178.5,1249.30 1182.5,1248.96 1186.5,1248.61 1190.5,1248.27 1194.5,1247.92 1198.5,1247.59 1202.5,1247.25 1206.5,1246.92 1210.5,1246.58 1214.5,1246.25 1218.5,1245.93 1222.5,1245.60 1226.5,1245.28 1230.5,1244.96 1234.5,1244.64 1238.5,1244.33 1242.5,1244.01 1246.5,1243.70 1250.5,1243.39 1254.5,1243.08 1258.5,1242.78 1262.5,1242.47 1266.5,1242.17 1270.5,1241.87 1274.5,1241.57 1278.5,1241.28 1282.5,1240.98 1286.5,1240.69 1290.5,1240.40 1294.5,1240.11 1298.5,1239.83 1302.5,1239.54 1306.5,1239.26 1310.5,1238.97 1314.5,1238.69 1318.5,1238.42 1322.5,1238.14 1326.5,1237.86 1330.5,1237.59 1334.5,1237.32 1338.5,1237.05 1342.5,1236.78 1346.5,1236.51 1350.5,1236.24 1354.5,1235.98 1358.5,1235.72 1362.5,1235.46 1366.5,1235.20 1370.5,1234.95 1374.5,1234.70 1378.5,1234.46 1382.5,1234.22 1386.5,1233.99 1390.5,1233.76 1394.5,1233.54 1398.5,1233.32 1402.5,1233.11 1406.5,1232.91 1410.5,1232.71 1414.5,1232.52 1418.5,1232.34 1422.5,1232.16 1426.5,1232.00 1430.5,1231.84 1434.5,1231.69 1438.5,1231.55 1442.5,1231.42 1446.5,1231.30 1450.5,1231.19 1454.5,1231.09 1458.5,1231.00 1462.5,1230.92 1466.5,1230.86 1470.5,1230.80 1474.5,1230.76 1478.5,1230.73 1482.5,1230.71 1486.5,1230.71 1490.5,1230.72 1494.5,1230.74 1498.5,1230.78 1502.5,1230.83 1506.5,1230.89 1510.5,1230.97 1514.5,1231.06 1518.5,1231.16 1522.5,1231.27 1526.5,1231.39 1530.5,1231.53 1534.5,1231.68 1538.5,1231.84 1542.5,1232.00 1546.5,1232.18 1550.5,1232.37 1554.5,1232.57 1558.5,1232.79 1562.5,1233.00 1566.5,1233.23 1570.5,1233.47 1574.5,1233.72 1578.5,1233.98 1582.5,1234.24 1586.5,1234.51 1590.5,1234.79 1594.5,1235.08 1598.5,1235.38 1602.5,1235.68 1606.5,1235.99 1610.5,1236.31 1614.5,1236.63 1618.5,1236.96 1622.5,1237.30 1626.5,1237.64 1630.5,1237.99 1634.5,1238.34 1638.5,1238.70 1642.5,1239.07 1646.5,1239.43 1650.5,1239.81 1654.5,1240.18 1658.5,1240.56 1662.5,1240.95 1666.5,1241.34 1670.5,1241.74 1674.5,1242.14 1678.5,1242.55 1682.5,1242.96 1686.5,1243.38 1690.5,1243.81 1694.5,1244.24 1698.5,1244.68 1702.5,1245.13 1706.5,1245.58 1710.5,1246.05 1714.5,1246.52 1718.5,1247.00 1722.5,1247.49 1726.5,1247.98 1730.5,1248.49 1734.5,1249.01 1738.5,1249.53 1742.5,1250.07 1746.5,1250.61 1750.5,1251.17 1754.5,1251.74 1758.5,1252.32 1762.5,1252.91 1766.5,1253.51 1770.5,1254.12 1774.5,1254.74 1778.5,1255.38 1782.5,1256.02 1786.5,1256.68 1790.5,1257.35 1794.5,1258.03 1798.5,1258.72 1802.5,1259.42 1806.5,1260.13 1810.5,1260.85 1814.5,1261.58 1818.5,1262.33 1822.5,1263.08 1826.5,1263.85 1830.5,1264.63 1834.5,1265.41 1838.5,1266.21 1842.5,1267.02 1846.5,1267.84 1850.5,1268.67 1854.5,1269.51 1858.5,1270.36 1862.5,1271.22 1866.5,1272.09 1870.5,1272.97 1874.5,1273.86 1878.5,1274.76 1882.5,1275.67 1886.5,1276.60 1890.5,1277.53 1894.5,1278.47 1898.5,1279.42 1902.5,1280.38 1906.5,1281.35 1910.5,1282.34 1914.5,1283.33 1918.5,1284.33 1922.5,1285.34 1926.5,1286.36 1930.5,1287.39 1934.5,1288.42 1938.5,1289.47 1942.5,1290.52 1946.5,1291.58 1950.5,1292.64 1954.5,1293.71 1958.5,1294.78 1962.5,1295.85 1966.5,1296.93 1970.5,1298.01 1974.5,1299.09 1978.5,1300.17 1982.5,1301.25 1986.5,1302.33 1990.5,1303.41 1994.5,1304.49 1998.5,1305.57 2002.5,1306.64 2006.5,1307.71 2010.5,1308.77 2014.5,1309.83 2018.5,1310.88 2022.5,1311.93 2026.5,1312.97 2030.5,1314.00 2034.5,1315.02 2038.5,1316.04 2042.5,1317.04 2046.5,1318.04 2050.5,1319.03 2054.5,1320.01 2058.5,1320.98 2062.5,1321.94 2066.5,1322.89 2070.5,1323.84 2074.5,1324.77 2078.5,1325.70 2082.5,1326.61 2086.5,1327.52 2090.5,1328.41 2094.5,1329.30 2098.5,1330.17 2102.5,1331.04 2106.5,1331.89 2110.5,1332.74 2114.5,1333.57 2118.5,1334.40 2122.5,1335.21 2126.5,1336.01 2130.5,1336.80 2134.5,1337.58 2138.5,1338.35 2142.5,1339.11 2146.5,1339.86 2150.5,1340.60 2154.5,1341.32 2158.5,1342.04 2162.5,1342.74 2166.5,1343.43 2170.5,1344.11 2174.5,1344.77 2178.5,1345.43 2182.5,1346.07 2186.5,1346.70 2190.5,1347.32 2194.5,1347.92 2198.5,1348.51 2202.5,1349.09 2206.5,1349.66 2210.5,1350.21 2214.5,1350.76 2218.5,1351.28 2222.5,1351.80 2226.5,1352.30 2230.5,1352.79 2234.5,1353.27 2238.5,1353.73 2242.5,1354.18 2246.5,1354.61 2250.5,1355.03 2254.5,1355.44 2258.5,1355.83 2262.5,1356.21 2266.5,1356.57 2270.5,1356.92 2274.5,1357.26 2278.5,1357.58 2282.5,1357.89 2286.5,1358.18 2290.5,1358.45 2294.5,1358.71 2298.5,1358.96 2302.5,1359.19 2306.5,1359.41 2309.5,1359.56" fill="none" stroke="#cc0033" stroke-width="1.2"/>
</g>
<rect x="138.5" y="1203.5" width="2171.0" height="165.0" fill="none" stroke="#000" stroke-width="3"/>
<text transform="translate(111.0,1385.3) scale(0.91,1)" text-anchor="end" class="t">0</text>
<text transform="translate(110.0,1234.1) scale(0.91,1)" text-anchor="end" class="t">2</text>
<text transform="translate(64.1,1290.4) rotate(-90)" text-anchor="middle" class="l">Density</text>
<text transform="translate(138.5,1429.9) scale(0.91,1)" text-anchor="middle" class="t">0.0</text>
<text transform="translate(572.7,1429.9) scale(0.91,1)" text-anchor="middle" class="t">0.2</text>
<text transform="translate(1006.9,1429.9) scale(0.91,1)" text-anchor="middle" class="t">0.4</text>
<text transform="translate(1441.1,1429.9) scale(0.91,1)" text-anchor="middle" class="t">0.6</text>
<text transform="translate(1875.3,1429.9) scale(0.91,1)" text-anchor="middle" class="t">0.8</text>
<polygon points="2289.10,1399.30 2295.30,1399.30 2295.30,1429.90 2292.20,1429.90 2292.20,1402.30 2287.20,1402.30" fill="#000"/>
<text transform="translate(2303.1,1429.9) scale(0.91,1)" text-anchor="start" class="t">.0</text>
</g>
<g>
<clipPath id="c5"><rect x="138.5" y="1495.5" width="2171.0" height="166.0"/></clipPath>
<g clip-path="url(#c5)">
<polygon points="138.5,1661.5 138.5,1657.15 142.5,1657.18 146.5,1657.19 150.5,1657.20 154.5,1657.18 158.5,1657.16 162.5,1657.12 166.5,1657.07 170.5,1657.01 174.5,1656.94 178.5,1656.85 182.5,1656.75 186.5,1656.64 190.5,1656.52 194.5,1656.38 198.5,1656.23 202.5,1656.08 206.5,1655.91 210.5,1655.73 214.5,1655.54 218.5,1655.33 222.5,1655.12 226.5,1654.90 230.5,1654.66 234.5,1654.42 238.5,1654.16 242.5,1653.90 246.5,1653.62 250.5,1653.34 254.5,1653.04 258.5,1652.74 262.5,1652.43 266.5,1652.10 270.5,1651.77 274.5,1651.43 278.5,1651.08 282.5,1650.72 286.5,1650.35 290.5,1649.98 294.5,1649.59 298.5,1649.20 302.5,1648.80 306.5,1648.39 310.5,1647.97 314.5,1647.55 318.5,1647.12 322.5,1646.68 326.5,1646.23 330.5,1645.78 334.5,1645.32 338.5,1644.85 342.5,1644.37 346.5,1643.89 350.5,1643.40 354.5,1642.91 358.5,1642.41 362.5,1641.90 366.5,1641.39 370.5,1640.87 374.5,1640.35 378.5,1639.82 382.5,1639.28 386.5,1638.74 390.5,1638.20 394.5,1637.65 398.5,1637.09 402.5,1636.53 406.5,1635.97 410.5,1635.40 414.5,1634.83 418.5,1634.25 422.5,1633.67 426.5,1633.08 430.5,1632.49 434.5,1631.90 438.5,1631.30 442.5,1630.70 446.5,1630.10 450.5,1629.49 454.5,1628.88 458.5,1628.27 462.5,1627.65 466.5,1627.03 470.5,1626.41 474.5,1625.79 478.5,1625.16 482.5,1624.54 486.5,1623.91 490.5,1623.28 494.5,1622.64 498.5,1622.01 502.5,1621.37 506.5,1620.74 510.5,1620.10 514.5,1619.46 518.5,1618.82 522.5,1618.18 526.5,1617.54 530.5,1616.90 534.5,1616.25 538.5,1615.61 542.5,1614.97 546.5,1614.33 550.5,1613.68 554.5,1613.04 558.5,1612.40 562.5,1611.76 566.5,1611.12 570.5,1610.48 574.5,1609.84 578.5,1609.20 582.5,1608.57 586.5,1607.93 590.5,1607.30 594.5,1606.67 598.5,1606.04 602.5,1605.41 606.5,1604.79 610.5,1604.17 614.5,1603.54 618.5,1602.93 622.5,1602.31 626.5,1601.70 630.5,1601.09 634.5,1600.48 638.5,1599.88 642.5,1599.28 646.5,1598.68 650.5,1598.09 654.5,1597.50 658.5,1596.91 662.5,1596.33 666.5,1595.76 670.5,1595.19 674.5,1594.62 678.5,1594.06 682.5,1593.51 686.5,1592.96 690.5,1592.41 694.5,1591.88 698.5,1591.35 702.5,1590.82 706.5,1590.30 710.5,1589.79 714.5,1589.29 718.5,1588.79 722.5,1588.31 726.5,1587.83 730.5,1587.35 734.5,1586.89 738.5,1586.43 742.5,1585.98 746.5,1585.55 750.5,1585.12 754.5,1584.70 758.5,1584.28 762.5,1583.88 766.5,1583.49 770.5,1583.11 774.5,1582.74 778.5,1582.38 782.5,1582.03 786.5,1581.69 790.5,1581.36 794.5,1581.04 798.5,1580.73 802.5,1580.44 806.5,1580.15 810.5,1579.87 814.5,1579.60 818.5,1579.33 822.5,1579.07 826.5,1578.81 830.5,1578.56 834.5,1578.32 838.5,1578.07 842.5,1577.83 846.5,1577.59 850.5,1577.35 854.5,1577.12 858.5,1576.88 862.5,1576.63 866.5,1576.39 870.5,1576.15 874.5,1575.90 878.5,1575.64 882.5,1575.38 886.5,1575.12 890.5,1574.85 894.5,1574.57 898.5,1574.28 902.5,1573.98 906.5,1573.68 910.5,1573.36 914.5,1573.04 918.5,1572.70 922.5,1572.35 926.5,1571.98 930.5,1571.61 934.5,1571.21 938.5,1570.80 942.5,1570.38 946.5,1569.94 950.5,1569.48 954.5,1569.00 958.5,1568.51 962.5,1568.00 966.5,1567.47 970.5,1566.93 974.5,1566.38 978.5,1565.81 982.5,1565.24 986.5,1564.65 990.5,1564.06 994.5,1563.45 998.5,1562.84 1002.5,1562.22 1006.5,1561.60 1010.5,1560.97 1014.5,1560.34 1018.5,1559.71 1022.5,1559.07 1026.5,1558.44 1030.5,1557.81 1034.5,1557.17 1038.5,1556.54 1042.5,1555.92 1046.5,1555.30 1050.5,1554.68 1054.5,1554.07 1058.5,1553.47 1062.5,1552.88 1066.5,1552.29 1070.5,1551.72 1074.5,1551.16 1078.5,1550.61 1082.5,1550.07 1086.5,1549.54 1090.5,1549.02 1094.5,1548.52 1098.5,1548.02 1102.5,1547.53 1106.5,1547.05 1110.5,1546.58 1114.5,1546.12 1118.5,1545.67 1122.5,1545.23 1126.5,1544.79 1130.5,1544.37 1134.5,1543.95 1138.5,1543.54 1142.5,1543.13 1146.5,1542.74 1150.5,1542.35 1154.5,1541.97 1158.5,1541.59 1162.5,1541.22 1166.5,1540.85 1170.5,1540.49 1174.5,1540.14 1178.5,1539.79 1182.5,1539.45 1186.5,1539.11 1190.5,1538.78 1194.5,1538.44 1198.5,1538.12 1202.5,1537.79 1206.5,1537.47 1210.5,1537.15 1214.5,1536.83 1218.5,1536.52 1222.5,1536.20 1226.5,1535.88 1230.5,1535.57 1234.5,1535.25 1238.5,1534.94 1242.5,1534.62 1246.5,1534.30 1250.5,1533.98 1254.5,1533.65 1258.5,1533.33 1262.5,1533.00 1266.5,1532.67 1270.5,1532.33 1274.5,1531.99 1278.5,1531.65 1282.5,1531.31 1286.5,1530.97 1290.5,1530.63 1294.5,1530.30 1298.5,1529.96 1302.5,1529.62 1306.5,1529.29 1310.5,1528.96 1314.5,1528.63 1318.5,1528.30 1322.5,1527.98 1326.5,1527.67 1330.5,1527.36 1334.5,1527.05 1338.5,1526.76 1342.5,1526.47 1346.5,1526.19 1350.5,1525.91 1354.5,1525.64 1358.5,1525.38 1362.5,1525.14 1366.5,1524.89 1370.5,1524.66 1374.5,1524.44 1378.5,1524.23 1382.5,1524.03 1386.5,1523.84 1390.5,1523.66 1394.5,1523.49 1398.5,1523.34 1402.5,1523.19 1406.5,1523.06 1410.5,1522.94 1414.5,1522.84 1418.5,1522.75 1422.5,1522.67 1426.5,1522.60 1430.5,1522.55 1434.5,1522.52 1438.5,1522.50 1442.5,1522.49 1446.5,1522.51 1450.5,1522.53 1454.5,1522.58 1458.5,1522.64 1462.5,1522.71 1466.5,1522.81 1470.5,1522.92 1474.5,1523.05 1478.5,1523.20 1482.5,1523.37 1486.5,1523.56 1490.5,1523.76 1494.5,1523.99 1498.5,1524.23 1502.5,1524.50 1506.5,1524.78 1510.5,1525.08 1514.5,1525.39 1518.5,1525.72 1522.5,1526.06 1526.5,1526.42 1530.5,1526.79 1534.5,1527.18 1538.5,1527.57 1542.5,1527.98 1546.5,1528.40 1550.5,1528.83 1554.5,1529.27 1558.5,1529.71 1562.5,1530.17 1566.5,1530.63 1570.5,1531.10 1574.5,1531.57 1578.5,1532.05 1582.5,1532.54 1586.5,1533.03 1590.5,1533.52 1594.5,1534.01 1598.5,1534.51 1602.5,1535.00 1606.5,1535.50 1610.5,1536.00 1614.5,1536.49 1618.5,1536.99 1622.5,1537.48 1626.5,1537.97 1630.5,1538.45 1634.5,1538.93 1638.5,1539.41 1642.5,1539.88 1646.5,1540.34 1650.5,1540.80 1654.5,1541.25 1658.5,1541.69 1662.5,1542.13 1666.5,1542.55 1670.5,1542.98 1674.5,1543.40 1678.5,1543.81 1682.5,1544.22 1686.5,1544.63 1690.5,1545.03 1694.5,1545.43 1698.5,1545.84 1702.5,1546.23 1706.5,1546.63 1710.5,1547.03 1714.5,1547.43 1718.5,1547.83 1722.5,1548.23 1726.5,1548.64 1730.5,1549.04 1734.5,1549.45 1738.5,1549.86 1742.5,1550.28 1746.5,1550.70 1750.5,1551.13 1754.5,1551.56 1758.5,1552.00 1762.5,1552.45 1766.5,1552.91 1770.5,1553.37 1774.5,1553.84 1778.5,1554.31 1782.5,1554.80 1786.5,1555.30 1790.5,1555.80 1794.5,1556.31 1798.5,1556.83 1802.5,1557.37 1806.5,1557.91 1810.5,1558.46 1814.5,1559.02 1818.5,1559.60 1822.5,1560.18 1826.5,1560.78 1830.5,1561.39 1834.5,1562.00 1838.5,1562.64 1842.5,1563.28 1846.5,1563.94 1850.5,1564.61 1854.5,1565.29 1858.5,1565.99 1862.5,1566.70 1866.5,1567.42 1870.5,1568.16 1874.5,1568.91 1878.5,1569.68 1882.5,1570.46 1886.5,1571.26 1890.5,1572.07 1894.5,1572.90 1898.5,1573.75 1902.5,1574.61 1906.5,1575.49 1910.5,1576.39 1914.5,1577.30 1918.5,1578.23 1922.5,1579.18 1926.5,1580.14 1930.5,1581.13 1934.5,1582.12 1938.5,1583.13 1942.5,1584.16 1946.5,1585.19 1950.5,1586.24 1954.5,1587.30 1958.5,1588.37 1962.5,1589.44 1966.5,1590.53 1970.5,1591.62 1974.5,1592.71 1978.5,1593.81 1982.5,1594.91 1986.5,1596.02 1990.5,1597.12 1994.5,1598.23 1998.5,1599.33 2002.5,1600.44 2006.5,1601.54 2010.5,1602.63 2014.5,1603.73 2018.5,1604.81 2022.5,1605.89 2026.5,1606.97 2030.5,1608.03 2034.5,1609.08 2038.5,1610.13 2042.5,1611.16 2046.5,1612.19 2050.5,1613.20 2054.5,1614.21 2058.5,1615.20 2062.5,1616.19 2066.5,1617.16 2070.5,1618.13 2074.5,1619.08 2078.5,1620.02 2082.5,1620.95 2086.5,1621.87 2090.5,1622.78 2094.5,1623.68 2098.5,1624.57 2102.5,1625.45 2106.5,1626.31 2110.5,1627.17 2114.5,1628.01 2118.5,1628.84 2122.5,1629.66 2126.5,1630.47 2130.5,1631.26 2134.5,1632.04 2138.5,1632.82 2142.5,1633.57 2146.5,1634.32 2150.5,1635.05 2154.5,1635.78 2158.5,1636.48 2162.5,1637.18 2166.5,1637.86 2170.5,1638.53 2174.5,1639.19 2178.5,1639.83 2182.5,1640.46 2186.5,1641.08 2190.5,1641.68 2194.5,1642.28 2198.5,1642.85 2202.5,1643.41 2206.5,1643.96 2210.5,1644.50 2214.5,1645.02 2218.5,1645.53 2222.5,1646.02 2226.5,1646.50 2230.5,1646.96 2234.5,1647.41 2238.5,1647.84 2242.5,1648.26 2246.5,1648.67 2250.5,1649.06 2254.5,1649.43 2258.5,1649.79 2262.5,1650.14 2266.5,1650.47 2270.5,1650.78 2274.5,1651.08 2278.5,1651.36 2282.5,1651.63 2286.5,1651.88 2290.5,1652.11 2294.5,1652.33 2298.5,1652.53 2302.5,1652.72 2306.5,1652.89 2309.5,1653.01 2309.5,1661.5" fill="#ff0000"/>
<polyline points="138.5,1657.15 142.5,1657.18 146.5,1657.19 150.5,1657.20 154.5,1657.18 158.5,1657.16 162.5,1657.12 166.5,1657.07 170.5,1657.01 174.5,1656.94 178.5,1656.85 182.5,1656.75 186.5,1656.64 190.5,1656.52 194.5,1656.38 198.5,1656.23 202.5,1656.08 206.5,1655.91 210.5,1655.73 214.5,1655.54 218.5,1655.33 222.5,1655.12 226.5,1654.90 230.5,1654.66 234.5,1654.42 238.5,1654.16 242.5,1653.90 246.5,1653.62 250.5,1653.34 254.5,1653.04 258.5,1652.74 262.5,1652.43 266.5,1652.10 270.5,1651.77 274.5,1651.43 278.5,1651.08 282.5,1650.72 286.5,1650.35 290.5,1649.98 294.5,1649.59 298.5,1649.20 302.5,1648.80 306.5,1648.39 310.5,1647.97 314.5,1647.55 318.5,1647.12 322.5,1646.68 326.5,1646.23 330.5,1645.78 334.5,1645.32 338.5,1644.85 342.5,1644.37 346.5,1643.89 350.5,1643.40 354.5,1642.91 358.5,1642.41 362.5,1641.90 366.5,1641.39 370.5,1640.87 374.5,1640.35 378.5,1639.82 382.5,1639.28 386.5,1638.74 390.5,1638.20 394.5,1637.65 398.5,1637.09 402.5,1636.53 406.5,1635.97 410.5,1635.40 414.5,1634.83 418.5,1634.25 422.5,1633.67 426.5,1633.08 430.5,1632.49 434.5,1631.90 438.5,1631.30 442.5,1630.70 446.5,1630.10 450.5,1629.49 454.5,1628.88 458.5,1628.27 462.5,1627.65 466.5,1627.03 470.5,1626.41 474.5,1625.79 478.5,1625.16 482.5,1624.54 486.5,1623.91 490.5,1623.28 494.5,1622.64 498.5,1622.01 502.5,1621.37 506.5,1620.74 510.5,1620.10 514.5,1619.46 518.5,1618.82 522.5,1618.18 526.5,1617.54 530.5,1616.90 534.5,1616.25 538.5,1615.61 542.5,1614.97 546.5,1614.33 550.5,1613.68 554.5,1613.04 558.5,1612.40 562.5,1611.76 566.5,1611.12 570.5,1610.48 574.5,1609.84 578.5,1609.20 582.5,1608.57 586.5,1607.93 590.5,1607.30 594.5,1606.67 598.5,1606.04 602.5,1605.41 606.5,1604.79 610.5,1604.17 614.5,1603.54 618.5,1602.93 622.5,1602.31 626.5,1601.70 630.5,1601.09 634.5,1600.48 638.5,1599.88 642.5,1599.28 646.5,1598.68 650.5,1598.09 654.5,1597.50 658.5,1596.91 662.5,1596.33 666.5,1595.76 670.5,1595.19 674.5,1594.62 678.5,1594.06 682.5,1593.51 686.5,1592.96 690.5,1592.41 694.5,1591.88 698.5,1591.35 702.5,1590.82 706.5,1590.30 710.5,1589.79 714.5,1589.29 718.5,1588.79 722.5,1588.31 726.5,1587.83 730.5,1587.35 734.5,1586.89 738.5,1586.43 742.5,1585.98 746.5,1585.55 750.5,1585.12 754.5,1584.70 758.5,1584.28 762.5,1583.88 766.5,1583.49 770.5,1583.11 774.5,1582.74 778.5,1582.38 782.5,1582.03 786.5,1581.69 790.5,1581.36 794.5,1581.04 798.5,1580.73 802.5,1580.44 806.5,1580.15 810.5,1579.87 814.5,1579.60 818.5,1579.33 822.5,1579.07 826.5,1578.81 830.5,1578.56 834.5,1578.32 838.5,1578.07 842.5,1577.83 846.5,1577.59 850.5,1577.35 854.5,1577.12 858.5,1576.88 862.5,1576.63 866.5,1576.39 870.5,1576.15 874.5,1575.90 878.5,1575.64 882.5,1575.38 886.5,1575.12 890.5,1574.85 894.5,1574.57 898.5,1574.28 902.5,1573.98 906.5,1573.68 910.5,1573.36 914.5,1573.04 918.5,1572.70 922.5,1572.35 926.5,1571.98 930.5,1571.61 934.5,1571.21 938.5,1570.80 942.5,1570.38 946.5,1569.94 950.5,1569.48 954.5,1569.00 958.5,1568.51 962.5,1568.00 966.5,1567.47 970.5,1566.93 974.5,1566.38 978.5,1565.81 982.5,1565.24 986.5,1564.65 990.5,1564.06 994.5,1563.45 998.5,1562.84 1002.5,1562.22 1006.5,1561.60 1010.5,1560.97 1014.5,1560.34 1018.5,1559.71 1022.5,1559.07 1026.5,1558.44 1030.5,1557.81 1034.5,1557.17 1038.5,1556.54 1042.5,1555.92 1046.5,1555.30 1050.5,1554.68 1054.5,1554.07 1058.5,1553.47 1062.5,1552.88 1066.5,1552.29 1070.5,1551.72 1074.5,1551.16 1078.5,1550.61 1082.5,1550.07 1086.5,1549.54 1090.5,1549.02 1094.5,1548.52 1098.5,1548.02 1102.5,1547.53 1106.5,1547.05 1110.5,1546.58 1114.5,1546.12 1118.5,1545.67 1122.5,1545.23 1126.5,1544.79 1130.5,1544.37 1134.5,1543.95 1138.5,1543.54 1142.5,1543.13 1146.5,1542.74 1150.5,1542.35 1154.5,1541.97 1158.5,1541.59 1162.5,1541.22 1166.5,1540.85 1170.5,1540.49 1174.5,1540.14 1178.5,1539.79 1182.5,1539.45 1186.5,1539.11 1190.5,1538.78 1194.5,1538.44 1198.5,1538.12 1202.5,1537.79 1206.5,1537.47 1210.5,1537.15 1214.5,1536.83 1218.5,1536.52 1222.5,1536.20 1226.5,1535.88 1230.5,1535.57 1234.5,1535.25 1238.5,1534.94 1242.5,1534.62 1246.5,1534.30 1250.5,1533.98 1254.5,1533.65 1258.5,1533.33 1262.5,1533.00 1266.5,1532.67 1270.5,1532.33 1274.5,1531.99 1278.5,1531.65 1282.5,1531.31 1286.5,1530.97 1290.5,1530.63 1294.5,1530.30 1298.5,1529.96 1302.5,1529.62 1306.5,1529.29 1310.5,1528.96 1314.5,1528.63 1318.5,1528.30 1322.5,1527.98 1326.5,1527.67 1330.5,1527.36 1334.5,1527.05 1338.5,1526.76 1342.5,1526.47 1346.5,1526.19 1350.5,1525.91 1354.5,1525.64 1358.5,1525.38 1362.5,1525.14 1366.5,1524.89 1370.5,1524.66 1374.5,1524.44 1378.5,1524.23 1382.5,1524.03 1386.5,1523.84 1390.5,1523.66 1394.5,1523.49 1398.5,1523.34 1402.5,1523.19 1406.5,1523.06 1410.5,1522.94 1414.5,1522.84 1418.5,1522.75 1422.5,1522.67 1426.5,1522.60 1430.5,1522.55 1434.5,1522.52 1438.5,1522.50 1442.5,1522.49 1446.5,1522.51 1450.5,1522.53 1454.5,1522.58 1458.5,1522.64 1462.5,1522.71 1466.5,1522.81 1470.5,1522.92 1474.5,1523.05 1478.5,1523.20 1482.5,1523.37 1486.5,1523.56 1490.5,1523.76 1494.5,1523.99 1498.5,1524.23 1502.5,1524.50 1506.5,1524.78 1510.5,1525.08 1514.5,1525.39 1518.5,1525.72 1522.5,1526.06 1526.5,1526.42 1530.5,1526.79 1534.5,1527.18 1538.5,1527.57 1542.5,1527.98 1546.5,1528.40 1550.5,1528.83 1554.5,1529.27 1558.5,1529.71 1562.5,1530.17 1566.5,1530.63 1570.5,1531.10 1574.5,1531.57 1578.5,1532.05 1582.5,1532.54 1586.5,1533.03 1590.5,1533.52 1594.5,1534.01 1598.5,1534.51 1602.5,1535.00 1606.5,1535.50 1610.5,1536.00 1614.5,1536.49 1618.5,1536.99 1622.5,1537.48 1626.5,1537.97 1630.5,1538.45 1634.5,1538.93 1638.5,1539.41 1642.5,1539.88 1646.5,1540.34 1650.5,1540.80 1654.5,1541.25 1658.5,1541.69 1662.5,1542.13 1666.5,1542.55 1670.5,1542.98 1674.5,1543.40 1678.5,1543.81 1682.5,1544.22 1686.5,1544.63 1690.5,1545.03 1694.5,1545.43 1698.5,1545.84 1702.5,1546.23 1706.5,1546.63 1710.5,1547.03 1714.5,1547.43 1718.5,1547.83 1722.5,1548.23 1726.5,1548.64 1730.5,1549.04 1734.5,1549.45 1738.5,1549.86 1742.5,1550.28 1746.5,1550.70 1750.5,1551.13 1754.5,1551.56 1758.5,1552.00 1762.5,1552.45 1766.5,1552.91 1770.5,1553.37 1774.5,1553.84 1778.5,1554.31 1782.5,1554.80 1786.5,1555.30 1790.5,1555.80 1794.5,1556.31 1798.5,1556.83 1802.5,1557.37 1806.5,1557.91 1810.5,1558.46 1814.5,1559.02 1818.5,1559.60 1822.5,1560.18 1826.5,1560.78 1830.5,1561.39 1834.5,1562.00 1838.5,1562.64 1842.5,1563.28 1846.5,1563.94 1850.5,1564.61 1854.5,1565.29 1858.5,1565.99 1862.5,1566.70 1866.5,1567.42 1870.5,1568.16 1874.5,1568.91 1878.5,1569.68 1882.5,1570.46 1886.5,1571.26 1890.5,1572.07 1894.5,1572.90 1898.5,1573.75 1902.5,1574.61 1906.5,1575.49 1910.5,1576.39 1914.5,1577.30 1918.5,1578.23 1922.5,1579.18 1926.5,1580.14 1930.5,1581.13 1934.5,1582.12 1938.5,1583.13 1942.5,1584.16 1946.5,1585.19 1950.5,1586.24 1954.5,1587.30 1958.5,1588.37 1962.5,1589.44 1966.5,1590.53 1970.5,1591.62 1974.5,1592.71 1978.5,1593.81 1982.5,1594.91 1986.5,1596.02 1990.5,1597.12 1994.5,1598.23 1998.5,1599.33 2002.5,1600.44 2006.5,1601.54 2010.5,1602.63 2014.5,1603.73 2018.5,1604.81 2022.5,1605.89 2026.5,1606.97 2030.5,1608.03 2034.5,1609.08 2038.5,1610.13 2042.5,1611.16 2046.5,1612.19 2050.5,1613.20 2054.5,1614.21 2058.5,1615.20 2062.5,1616.19 2066.5,1617.16 2070.5,1618.13 2074.5,1619.08 2078.5,1620.02 2082.5,1620.95 2086.5,1621.87 2090.5,1622.78 2094.5,1623.68 2098.5,1624.57 2102.5,1625.45 2106.5,1626.31 2110.5,1627.17 2114.5,1628.01 2118.5,1628.84 2122.5,1629.66 2126.5,1630.47 2130.5,1631.26 2134.5,1632.04 2138.5,1632.82 2142.5,1633.57 2146.5,1634.32 2150.5,1635.05 2154.5,1635.78 2158.5,1636.48 2162.5,1637.18 2166.5,1637.86 2170.5,1638.53 2174.5,1639.19 2178.5,1639.83 2182.5,1640.46 2186.5,1641.08 2190.5,1641.68 2194.5,1642.28 2198.5,1642.85 2202.5,1643.41 2206.5,1643.96 2210.5,1644.50 2214.5,1645.02 2218.5,1645.53 2222.5,1646.02 2226.5,1646.50 2230.5,1646.96 2234.5,1647.41 2238.5,1647.84 2242.5,1648.26 2246.5,1648.67 2250.5,1649.06 2254.5,1649.43 2258.5,1649.79 2262.5,1650.14 2266.5,1650.47 2270.5,1650.78 2274.5,1651.08 2278.5,1651.36 2282.5,1651.63 2286.5,1651.88 2290.5,1652.11 2294.5,1652.33 2298.5,1652.53 2302.5,1652.72 2306.5,1652.89 2309.5,1653.01" fill="none" stroke="#ffffff" stroke-width="4.2" transform="translate(0,0.6)"/>
<polyline points="138.5,1657.15 142.5,1657.18 146.5,1657.19 150.5,1657.20 154.5,1657.18 158.5,1657.16 162.5,1657.12 166.5,1657.07 170.5,1657.01 174.5,1656.94 178.5,1656.85 182.5,1656.75 186.5,1656.64 190.5,1656.52 194.5,1656.38 198.5,1656.23 202.5,1656.08 206.5,1655.91 210.5,1655.73 214.5,1655.54 218.5,1655.33 222.5,1655.12 226.5,1654.90 230.5,1654.66 234.5,1654.42 238.5,1654.16 242.5,1653.90 246.5,1653.62 250.5,1653.34 254.5,1653.04 258.5,1652.74 262.5,1652.43 266.5,1652.10 270.5,1651.77 274.5,1651.43 278.5,1651.08 282.5,1650.72 286.5,1650.35 290.5,1649.98 294.5,1649.59 298.5,1649.20 302.5,1648.80 306.5,1648.39 310.5,1647.97 314.5,1647.55 318.5,1647.12 322.5,1646.68 326.5,1646.23 330.5,1645.78 334.5,1645.32 338.5,1644.85 342.5,1644.37 346.5,1643.89 350.5,1643.40 354.5,1642.91 358.5,1642.41 362.5,1641.90 366.5,1641.39 370.5,1640.87 374.5,1640.35 378.5,1639.82 382.5,1639.28 386.5,1638.74 390.5,1638.20 394.5,1637.65 398.5,1637.09 402.5,1636.53 406.5,1635.97 410.5,1635.40 414.5,1634.83 418.5,1634.25 422.5,1633.67 426.5,1633.08 430.5,1632.49 434.5,1631.90 438.5,1631.30 442.5,1630.70 446.5,1630.10 450.5,1629.49 454.5,1628.88 458.5,1628.27 462.5,1627.65 466.5,1627.03 470.5,1626.41 474.5,1625.79 478.5,1625.16 482.5,1624.54 486.5,1623.91 490.5,1623.28 494.5,1622.64 498.5,1622.01 502.5,1621.37 506.5,1620.74 510.5,1620.10 514.5,1619.46 518.5,1618.82 522.5,1618.18 526.5,1617.54 530.5,1616.90 534.5,1616.25 538.5,1615.61 542.5,1614.97 546.5,1614.33 550.5,1613.68 554.5,1613.04 558.5,1612.40 562.5,1611.76 566.5,1611.12 570.5,1610.48 574.5,1609.84 578.5,1609.20 582.5,1608.57 586.5,1607.93 590.5,1607.30 594.5,1606.67 598.5,1606.04 602.5,1605.41 606.5,1604.79 610.5,1604.17 614.5,1603.54 618.5,1602.93 622.5,1602.31 626.5,1601.70 630.5,1601.09 634.5,1600.48 638.5,1599.88 642.5,1599.28 646.5,1598.68 650.5,1598.09 654.5,1597.50 658.5,1596.91 662.5,1596.33 666.5,1595.76 670.5,1595.19 674.5,1594.62 678.5,1594.06 682.5,1593.51 686.5,1592.96 690.5,1592.41 694.5,1591.88 698.5,1591.35 702.5,1590.82 706.5,1590.30 710.5,1589.79 714.5,1589.29 718.5,1588.79 722.5,1588.31 726.5,1587.83 730.5,1587.35 734.5,1586.89 738.5,1586.43 742.5,1585.98 746.5,1585.55 750.5,1585.12 754.5,1584.70 758.5,1584.28 762.5,1583.88 766.5,1583.49 770.5,1583.11 774.5,1582.74 778.5,1582.38 782.5,1582.03 786.5,1581.69 790.5,1581.36 794.5,1581.04 798.5,1580.73 802.5,1580.44 806.5,1580.15 810.5,1579.87 814.5,1579.60 818.5,1579.33 822.5,1579.07 826.5,1578.81 830.5,1578.56 834.5,1578.32 838.5,1578.07 842.5,1577.83 846.5,1577.59 850.5,1577.35 854.5,1577.12 858.5,1576.88 862.5,1576.63 866.5,1576.39 870.5,1576.15 874.5,1575.90 878.5,1575.64 882.5,1575.38 886.5,1575.12 890.5,1574.85 894.5,1574.57 898.5,1574.28 902.5,1573.98 906.5,1573.68 910.5,1573.36 914.5,1573.04 918.5,1572.70 922.5,1572.35 926.5,1571.98 930.5,1571.61 934.5,1571.21 938.5,1570.80 942.5,1570.38 946.5,1569.94 950.5,1569.48 954.5,1569.00 958.5,1568.51 962.5,1568.00 966.5,1567.47 970.5,1566.93 974.5,1566.38 978.5,1565.81 982.5,1565.24 986.5,1564.65 990.5,1564.06 994.5,1563.45 998.5,1562.84 1002.5,1562.22 1006.5,1561.60 1010.5,1560.97 1014.5,1560.34 1018.5,1559.71 1022.5,1559.07 1026.5,1558.44 1030.5,1557.81 1034.5,1557.17 1038.5,1556.54 1042.5,1555.92 1046.5,1555.30 1050.5,1554.68 1054.5,1554.07 1058.5,1553.47 1062.5,1552.88 1066.5,1552.29 1070.5,1551.72 1074.5,1551.16 1078.5,1550.61 1082.5,1550.07 1086.5,1549.54 1090.5,1549.02 1094.5,1548.52 1098.5,1548.02 1102.5,1547.53 1106.5,1547.05 1110.5,1546.58 1114.5,1546.12 1118.5,1545.67 1122.5,1545.23 1126.5,1544.79 1130.5,1544.37 1134.5,1543.95 1138.5,1543.54 1142.5,1543.13 1146.5,1542.74 1150.5,1542.35 1154.5,1541.97 1158.5,1541.59 1162.5,1541.22 1166.5,1540.85 1170.5,1540.49 1174.5,1540.14 1178.5,1539.79 1182.5,1539.45 1186.5,1539.11 1190.5,1538.78 1194.5,1538.44 1198.5,1538.12 1202.5,1537.79 1206.5,1537.47 1210.5,1537.15 1214.5,1536.83 1218.5,1536.52 1222.5,1536.20 1226.5,1535.88 1230.5,1535.57 1234.5,1535.25 1238.5,1534.94 1242.5,1534.62 1246.5,1534.30 1250.5,1533.98 1254.5,1533.65 1258.5,1533.33 1262.5,1533.00 1266.5,1532.67 1270.5,1532.33 1274.5,1531.99 1278.5,1531.65 1282.5,1531.31 1286.5,1530.97 1290.5,1530.63 1294.5,1530.30 1298.5,1529.96 1302.5,1529.62 1306.5,1529.29 1310.5,1528.96 1314.5,1528.63 1318.5,1528.30 1322.5,1527.98 1326.5,1527.67 1330.5,1527.36 1334.5,1527.05 1338.5,1526.76 1342.5,1526.47 1346.5,1526.19 1350.5,1525.91 1354.5,1525.64 1358.5,1525.38 1362.5,1525.14 1366.5,1524.89 1370.5,1524.66 1374.5,1524.44 1378.5,1524.23 1382.5,1524.03 1386.5,1523.84 1390.5,1523.66 1394.5,1523.49 1398.5,1523.34 1402.5,1523.19 1406.5,1523.06 1410.5,1522.94 1414.5,1522.84 1418.5,1522.75 1422.5,1522.67 1426.5,1522.60 1430.5,1522.55 1434.5,1522.52 1438.5,1522.50 1442.5,1522.49 1446.5,1522.51 1450.5,1522.53 1454.5,1522.58 1458.5,1522.64 1462.5,1522.71 1466.5,1522.81 1470.5,1522.92 1474.5,1523.05 1478.5,1523.20 1482.5,1523.37 1486.5,1523.56 1490.5,1523.76 1494.5,1523.99 1498.5,1524.23 1502.5,1524.50 1506.5,1524.78 1510.5,1525.08 1514.5,1525.39 1518.5,1525.72 1522.5,1526.06 1526.5,1526.42 1530.5,1526.79 1534.5,1527.18 1538.5,1527.57 1542.5,1527.98 1546.5,1528.40 1550.5,1528.83 1554.5,1529.27 1558.5,1529.71 1562.5,1530.17 1566.5,1530.63 1570.5,1531.10 1574.5,1531.57 1578.5,1532.05 1582.5,1532.54 1586.5,1533.03 1590.5,1533.52 1594.5,1534.01 1598.5,1534.51 1602.5,1535.00 1606.5,1535.50 1610.5,1536.00 1614.5,1536.49 1618.5,1536.99 1622.5,1537.48 1626.5,1537.97 1630.5,1538.45 1634.5,1538.93 1638.5,1539.41 1642.5,1539.88 1646.5,1540.34 1650.5,1540.80 1654.5,1541.25 1658.5,1541.69 1662.5,1542.13 1666.5,1542.55 1670.5,1542.98 1674.5,1543.40 1678.5,1543.81 1682.5,1544.22 1686.5,1544.63 1690.5,1545.03 1694.5,1545.43 1698.5,1545.84 1702.5,1546.23 1706.5,1546.63 1710.5,1547.03 1714.5,1547.43 1718.5,1547.83 1722.5,1548.23 1726.5,1548.64 1730.5,1549.04 1734.5,1549.45 1738.5,1549.86 1742.5,1550.28 1746.5,1550.70 1750.5,1551.13 1754.5,1551.56 1758.5,1552.00 1762.5,1552.45 1766.5,1552.91 1770.5,1553.37 1774.5,1553.84 1778.5,1554.31 1782.5,1554.80 1786.5,1555.30 1790.5,1555.80 1794.5,1556.31 1798.5,1556.83 1802.5,1557.37 1806.5,1557.91 1810.5,1558.46 1814.5,1559.02 1818.5,1559.60 1822.5,1560.18 1826.5,1560.78 1830.5,1561.39 1834.5,1562.00 1838.5,1562.64 1842.5,1563.28 1846.5,1563.94 1850.5,1564.61 1854.5,1565.29 1858.5,1565.99 1862.5,1566.70 1866.5,1567.42 1870.5,1568.16 1874.5,1568.91 1878.5,1569.68 1882.5,1570.46 1886.5,1571.26 1890.5,1572.07 1894.5,1572.90 1898.5,1573.75 1902.5,1574.61 1906.5,1575.49 1910.5,1576.39 1914.5,1577.30 1918.5,1578.23 1922.5,1579.18 1926.5,1580.14 1930.5,1581.13 1934.5,1582.12 1938.5,1583.13 1942.5,1584.16 1946.5,1585.19 1950.5,1586.24 1954.5,1587.30 1958.5,1588.37 1962.5,1589.44 1966.5,1590.53 1970.5,1591.62 1974.5,1592.71 1978.5,1593.81 1982.5,1594.91 1986.5,1596.02 1990.5,1597.12 1994.5,1598.23 1998.5,1599.33 2002.5,1600.44 2006.5,1601.54 2010.5,1602.63 2014.5,1603.73 2018.5,1604.81 2022.5,1605.89 2026.5,1606.97 2030.5,1608.03 2034.5,1609.08 2038.5,1610.13 2042.5,1611.16 2046.5,1612.19 2050.5,1613.20 2054.5,1614.21 2058.5,1615.20 2062.5,1616.19 2066.5,1617.16 2070.5,1618.13 2074.5,1619.08 2078.5,1620.02 2082.5,1620.95 2086.5,1621.87 2090.5,1622.78 2094.5,1623.68 2098.5,1624.57 2102.5,1625.45 2106.5,1626.31 2110.5,1627.17 2114.5,1628.01 2118.5,1628.84 2122.5,1629.66 2126.5,1630.47 2130.5,1631.26 2134.5,1632.04 2138.5,1632.82 2142.5,1633.57 2146.5,1634.32 2150.5,1635.05 2154.5,1635.78 2158.5,1636.48 2162.5,1637.18 2166.5,1637.86 2170.5,1638.53 2174.5,1639.19 2178.5,1639.83 2182.5,1640.46 2186.5,1641.08 2190.5,1641.68 2194.5,1642.28 2198.5,1642.85 2202.5,1643.41 2206.5,1643.96 2210.5,1644.50 2214.5,1645.02 2218.5,1645.53 2222.5,1646.02 2226.5,1646.50 2230.5,1646.96 2234.5,1647.41 2238.5,1647.84 2242.5,1648.26 2246.5,1648.67 2250.5,1649.06 2254.5,1649.43 2258.5,1649.79 2262.5,1650.14 2266.5,1650.47 2270.5,1650.78 2274.5,1651.08 2278.5,1651.36 2282.5,1651.63 2286.5,1651.88 2290.5,1652.11 2294.5,1652.33 2298.5,1652.53 2302.5,1652.72 2306.5,1652.89 2309.5,1653.01" fill="none" stroke="#ff0000" stroke-width="1.2"/>
</g>
<rect x="138.5" y="1495.5" width="2171.0" height="166.0" fill="none" stroke="#000" stroke-width="3"/>
<text transform="translate(111.0,1678.3) scale(0.91,1)" text-anchor="end" class="t">0</text>
<text transform="translate(110.0,1526.2) scale(0.91,1)" text-anchor="end" class="t">2</text>
<text transform="translate(64.1,1582.8) rotate(-90)" text-anchor="middle" class="l">Density</text>
<text transform="translate(138.5,1722.3) scale(0.91,1)" text-anchor="middle" class="t">0.0</text>
<text transform="translate(572.7,1722.3) scale(0.91,1)" text-anchor="middle" class="t">0.2</text>
<text transform="translate(1006.9,1722.3) scale(0.91,1)" text-anchor="middle" class="t">0.4</text>
<text transform="translate(1441.1,1722.3) scale(0.91,1)" text-anchor="middle" class="t">0.6</text>
<text transform="translate(1875.3,1722.3) scale(0.91,1)" text-anchor="middle" class="t">0.8</text>
<polygon points="2289.10,1691.75 2295.30,1691.75 2295.30,1722.35 2292.20,1722.35 2292.20,1694.75 2287.20,1694.75" fill="#000"/>
<text transform="translate(2303.1,1722.3) scale(0.91,1)" text-anchor="start" class="t">.0</text>
</g>
</svg>
</body></html>
